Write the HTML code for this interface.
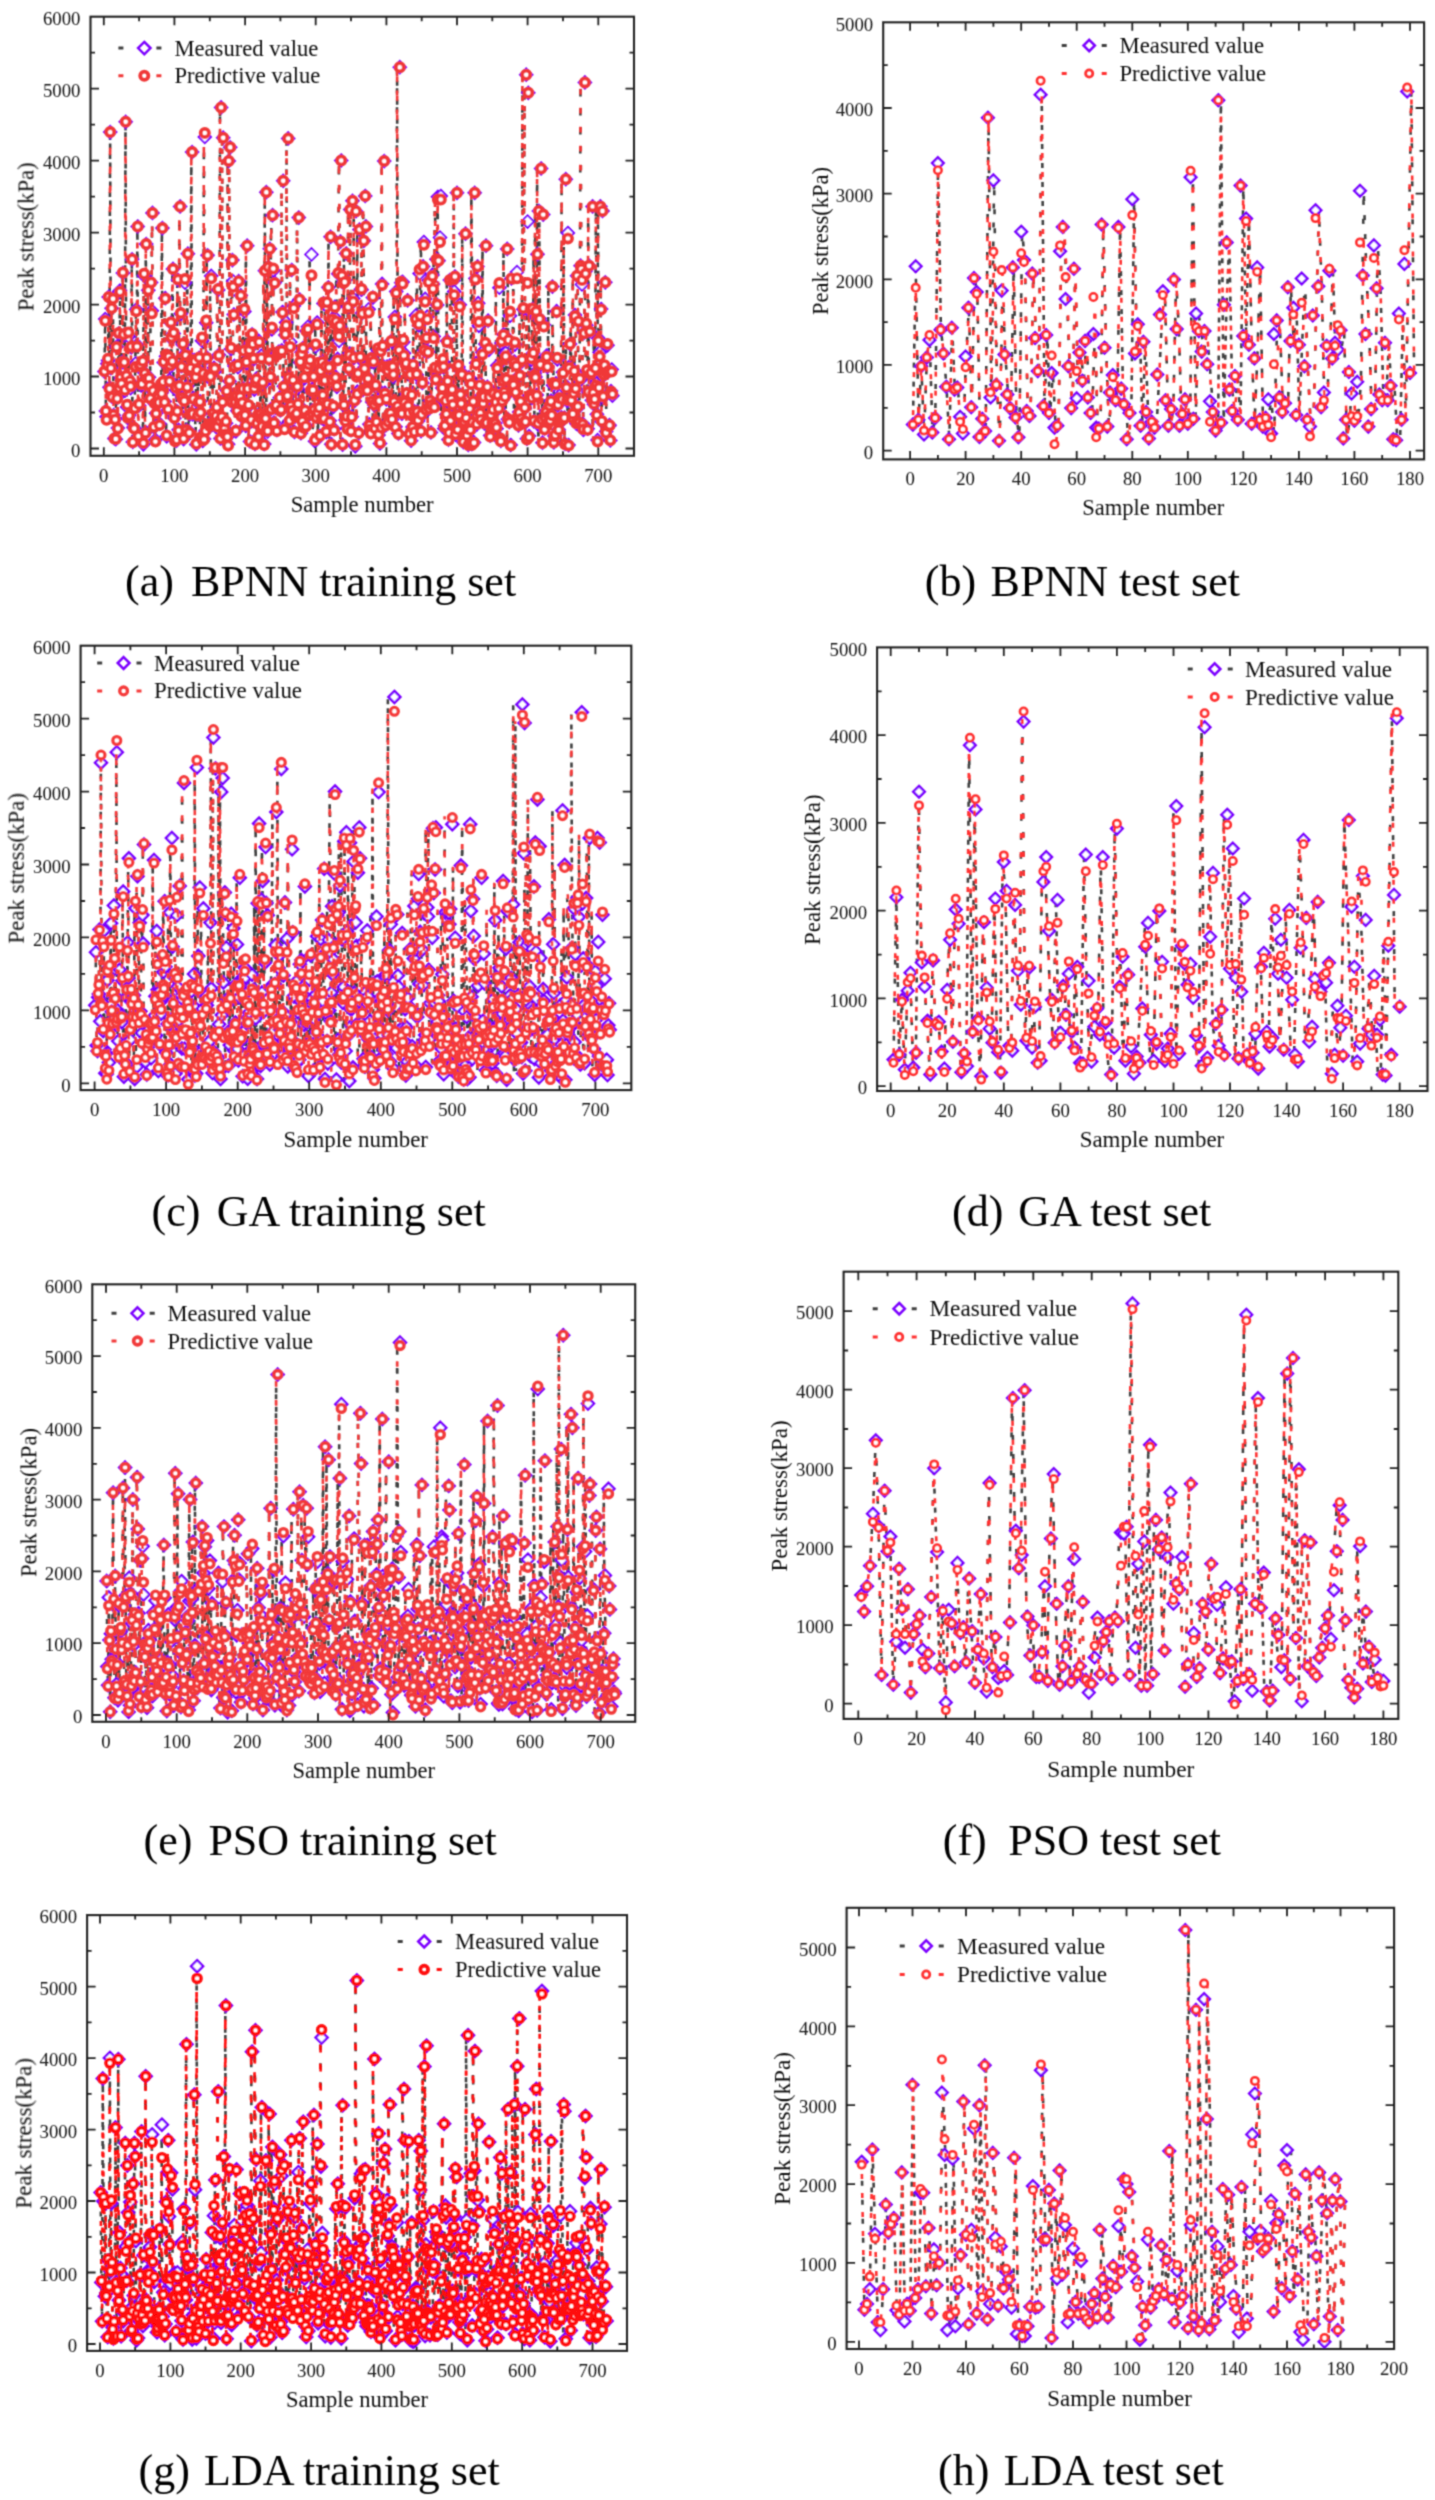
<!DOCTYPE html>
<html><head><meta charset="utf-8"><style>
html,body{margin:0;padding:0;background:#fff}
svg{display:block}
text{font-family:"Liberation Serif",serif;}
.tl{font-size:18.8px;fill:#141414}
.at{font-size:22.6px;fill:#111}
.lg{font-size:22.6px;fill:#111}
.cap{font-size:44px;fill:#000}
.fr{fill:none;stroke:#202020;stroke-width:2.1}
.tk{fill:none;stroke:#202020;stroke-width:1.8}
.lma{fill:none;stroke:#404040;stroke-width:2.6;stroke-dasharray:5 14}
.kma{fill:none;stroke:none;marker:url(#Da)}
.lpa{fill:none;stroke:#f03838;stroke-width:2.6;stroke-dasharray:5 14;stroke-dashoffset:9.5}
.kpa{fill:none;stroke:none;marker:url(#Ca)}
.lmb{fill:none;stroke:#404040;stroke-width:2.6;stroke-dasharray:5 14}
.kmb{fill:none;stroke:none;marker:url(#Db)}
.lpb{fill:none;stroke:#ff3030;stroke-width:2.6;stroke-dasharray:5 14;stroke-dashoffset:9.5}
.kpb{fill:none;stroke:none;marker:url(#Cb)}
.lmc{fill:none;stroke:#404040;stroke-width:2.6;stroke-dasharray:5 14}
.kmc{fill:none;stroke:none;marker:url(#Dc)}
.lpc{fill:none;stroke:#f53a3a;stroke-width:2.6;stroke-dasharray:5 14;stroke-dashoffset:9.5}
.kpc{fill:none;stroke:none;marker:url(#Cc)}
.lmd{fill:none;stroke:#404040;stroke-width:2.6;stroke-dasharray:5 14}
.kmd{fill:none;stroke:none;marker:url(#Dd)}
.lpd{fill:none;stroke:#ff3030;stroke-width:2.6;stroke-dasharray:5 14;stroke-dashoffset:9.5}
.kpd{fill:none;stroke:none;marker:url(#Cd)}
.lme{fill:none;stroke:#404040;stroke-width:2.6;stroke-dasharray:5 14}
.kme{fill:none;stroke:none;marker:url(#De)}
.lpe{fill:none;stroke:#f23a3a;stroke-width:2.6;stroke-dasharray:5 14;stroke-dashoffset:9.5}
.kpe{fill:none;stroke:none;marker:url(#Ce)}
.lmf{fill:none;stroke:#404040;stroke-width:2.6;stroke-dasharray:5 14}
.kmf{fill:none;stroke:none;marker:url(#Df)}
.lpf{fill:none;stroke:#ff3030;stroke-width:2.6;stroke-dasharray:5 14;stroke-dashoffset:9.5}
.kpf{fill:none;stroke:none;marker:url(#Cf)}
.lmg{fill:none;stroke:#404040;stroke-width:2.6;stroke-dasharray:5 14}
.kmg{fill:none;stroke:none;marker:url(#Dg)}
.lpg{fill:none;stroke:#ff0808;stroke-width:2.6;stroke-dasharray:5 14;stroke-dashoffset:9.5}
.kpg{fill:none;stroke:none;marker:url(#Cg)}
.lmh{fill:none;stroke:#404040;stroke-width:2.6;stroke-dasharray:5 14}
.kmh{fill:none;stroke:none;marker:url(#Dh)}
.lph{fill:none;stroke:#ff3030;stroke-width:2.6;stroke-dasharray:5 14;stroke-dashoffset:9.5}
.kph{fill:none;stroke:none;marker:url(#Ch)}
</style></head><body>
<svg width="1435" height="2500" viewBox="0 0 1435 2500">
<defs>
<filter id="bl" x="0" y="0" width="100%" height="100%" filterUnits="userSpaceOnUse"><feConvolveMatrix order="3" kernelMatrix="1 3 1 3 9 3 1 3 1" divisor="25"/></filter>
<marker id="Da" markerUnits="userSpaceOnUse" markerWidth="30" markerHeight="30" refX="15" refY="15" overflow="visible" viewBox="0 0 30 30"><path d="M15 8.8l6.2 6.2 -6.2 6.2 -6.2 -6.2z" fill="#fff" stroke="#7b00ff" stroke-width="2.0"/></marker>
<marker id="Ca" markerUnits="userSpaceOnUse" markerWidth="30" markerHeight="30" refX="15" refY="15" overflow="visible" viewBox="0 0 30 30"><circle cx="15" cy="15" r="4.1" fill="#fff" stroke="#f03838" stroke-width="3.8"/></marker>
<marker id="Db" markerUnits="userSpaceOnUse" markerWidth="30" markerHeight="30" refX="15" refY="15" overflow="visible" viewBox="0 0 30 30"><path d="M15 9.3l5.7 5.7 -5.7 5.7 -5.7 -5.7z" fill="#fff" stroke="#7b00ff" stroke-width="2.6"/></marker>
<marker id="Cb" markerUnits="userSpaceOnUse" markerWidth="30" markerHeight="30" refX="15" refY="15" overflow="visible" viewBox="0 0 30 30"><circle cx="15" cy="15" r="3.6" fill="#fff" stroke="#ff3030" stroke-width="2.8"/></marker>
<marker id="Dc" markerUnits="userSpaceOnUse" markerWidth="30" markerHeight="30" refX="15" refY="15" overflow="visible" viewBox="0 0 30 30"><path d="M15 9.1l5.9 5.9 -5.9 5.9 -5.9 -5.9z" fill="#fff" stroke="#7b00ff" stroke-width="2.6"/></marker>
<marker id="Cc" markerUnits="userSpaceOnUse" markerWidth="30" markerHeight="30" refX="15" refY="15" overflow="visible" viewBox="0 0 30 30"><circle cx="15" cy="15" r="3.9" fill="#fff" stroke="#f53a3a" stroke-width="3.3"/></marker>
<marker id="Dd" markerUnits="userSpaceOnUse" markerWidth="30" markerHeight="30" refX="15" refY="15" overflow="visible" viewBox="0 0 30 30"><path d="M15 9.3l5.7 5.7 -5.7 5.7 -5.7 -5.7z" fill="#fff" stroke="#7b00ff" stroke-width="2.6"/></marker>
<marker id="Cd" markerUnits="userSpaceOnUse" markerWidth="30" markerHeight="30" refX="15" refY="15" overflow="visible" viewBox="0 0 30 30"><circle cx="15" cy="15" r="3.6" fill="#fff" stroke="#ff3030" stroke-width="2.8"/></marker>
<marker id="De" markerUnits="userSpaceOnUse" markerWidth="30" markerHeight="30" refX="15" refY="15" overflow="visible" viewBox="0 0 30 30"><path d="M15 9l6 6 -6 6 -6 -6z" fill="#fff" stroke="#7b00ff" stroke-width="2.4"/></marker>
<marker id="Ce" markerUnits="userSpaceOnUse" markerWidth="30" markerHeight="30" refX="15" refY="15" overflow="visible" viewBox="0 0 30 30"><circle cx="15" cy="15" r="3.9" fill="#fff" stroke="#f23a3a" stroke-width="3.6"/></marker>
<marker id="Df" markerUnits="userSpaceOnUse" markerWidth="30" markerHeight="30" refX="15" refY="15" overflow="visible" viewBox="0 0 30 30"><path d="M15 9.3l5.7 5.7 -5.7 5.7 -5.7 -5.7z" fill="#fff" stroke="#7b00ff" stroke-width="2.6"/></marker>
<marker id="Cf" markerUnits="userSpaceOnUse" markerWidth="30" markerHeight="30" refX="15" refY="15" overflow="visible" viewBox="0 0 30 30"><circle cx="15" cy="15" r="3.6" fill="#fff" stroke="#ff3030" stroke-width="2.8"/></marker>
<marker id="Dg" markerUnits="userSpaceOnUse" markerWidth="30" markerHeight="30" refX="15" refY="15" overflow="visible" viewBox="0 0 30 30"><path d="M15 9l6 6 -6 6 -6 -6z" fill="#fff" stroke="#7b00ff" stroke-width="2.5"/></marker>
<marker id="Cg" markerUnits="userSpaceOnUse" markerWidth="30" markerHeight="30" refX="15" refY="15" overflow="visible" viewBox="0 0 30 30"><circle cx="15" cy="15" r="3.9" fill="#fff" stroke="#ff0808" stroke-width="3.6"/></marker>
<marker id="Dh" markerUnits="userSpaceOnUse" markerWidth="30" markerHeight="30" refX="15" refY="15" overflow="visible" viewBox="0 0 30 30"><path d="M15 9.3l5.7 5.7 -5.7 5.7 -5.7 -5.7z" fill="#fff" stroke="#7b00ff" stroke-width="2.6"/></marker>
<marker id="Ch" markerUnits="userSpaceOnUse" markerWidth="30" markerHeight="30" refX="15" refY="15" overflow="visible" viewBox="0 0 30 30"><circle cx="15" cy="15" r="3.6" fill="#fff" stroke="#ff3030" stroke-width="2.8"/></marker>
</defs>
<rect width="100%" height="100%" fill="#fff"/>
<g filter="url(#bl)">
<path class="lma" d="M104.5 371.6l0.7 -52.5l0.7 92l0.7 5.6l0.7 -53l0.7 -3.3l0.7 -63.5l0.7 90.5l0.7 -255.2l0.7 236l0.7 -60l0.7 88.8l0.7 -99.1l0.7 117.3l0.7 23.3l0.7 -19.5l0.7 20.2l0.7 -92.4l0.7 50.6l0.7 30.6l0.7 -94.4l0.7 54.4l0.7 -97.3l0.7 87.3l0.7 8.5l0.7 -24.2l0.7 -89.1l0.7 62.5l0.7 26.8l0.7 28.3l0.7 -268.9l0.7 254.6l0.7 30.5l0.7 11.2l0.7 -81.6l0.7 78.8l0.7 -33.9l0.7 6.8l0.7 -40.9l0.7 -88l0.7 182.7l0.7 -14.7l0.7 0.9l0.7 -20.4l0.7 -44.2l0.7 -54.1l0.7 35.4l0.7 -118.4l0.7 210.1l0.7 -31.1l0.7 -38.5l0.7 -1.4l0.7 20l0.7 -0.3l0.7 -23.7l0.7 82.8l0.7 -168.6l0.7 97.4l0.7 59.2l0.7 -188.1l0.7 134.1l0.7 -0.3l0.7 -87.8l0.7 87.1l0.7 8.7l0.7 12.9l0.7 -116.4l0.7 28.2l0.7 -97.8l0.7 178.9l0.7 35.5l0.7 -23.8l0.7 36.4l0.7 -26.5l0.7 -9.3l0.7 -2.2l0.7 -7.8l0.7 8.2l0.7 21.5l0.7 -33l0.7 -4.6l0.7 6.5l0.7 -164.5l0.7 153.7l0.7 -19.2l0.7 38.9l0.7 -103.3l0.7 58l0.7 80.1l0.7 -80.5l0.7 54.1l0.7 -52.9l0.7 22.9l0.7 -13l0.7 -43.9l0.7 15.7l0.7 23.2l0.7 -93.1l0.7 64.7l0.7 84.6l0.7 22.3l0.7 -50.5l0.7 50.7l0.7 -29l0.7 -131.7l0.7 149.8l0.7 -43.8l0.7 -179.4l0.7 107.2l0.7 52.3l0.7 31.5l0.7 -52.9l0.7 94.3l0.7 -37.9l0.7 -118.4l0.7 70.5l0.7 77.1l0.7 -44.1l0.7 -132.6l0.7 114.3l0.7 63.6l0.7 -17.4l0.7 -48.3l0.7 -6.6l0.7 -207.1l0.7 262.3l0.7 -16.4l0.7 -37.7l0.7 -0.2l0.7 15.4l0.7 68.9l0.7 -76.1l0.7 46.4l0.7 -11.4l0.7 -45.5l0.7 43.5l0.7 12.1l0.7 24.3l0.7 -97.2l0.7 100.2l0.7 -66.6l0.7 64.6l0.7 -302l0.7 294l0.7 -108.1l0.7 34.8l0.7 -102.4l0.7 121.6l0.7 47.1l0.7 0.8l0.7 -49.7l0.7 -99.1l0.7 148.8l0.7 -1.5l0.7 -10.4l0.7 -45.2l0.7 3.7l0.7 54l0.7 -9.3l0.7 -8.6l0.7 20.7l0.7 -138.3l0.7 64.9l0.7 65.3l0.7 18.3l0.7 -331.1l0.7 310.3l0.7 -15.8l0.7 -264.1l0.7 287.7l0.7 2.8l0.7 6l0.7 -11.1l0.7 -32.9l0.7 46.7l0.7 7.2l0.7 -283.2l0.7 220.3l0.7 -233.9l0.7 201.7l0.7 52.6l0.7 -141.5l0.7 21.2l0.7 33.1l0.7 51.5l0.7 36.3l0.7 29l0.7 -34.3l0.7 13.8l0.7 -43.6l0.7 -85.9l0.7 122.8l0.7 -7.4l0.7 -101.2l0.7 120.8l0.7 -12.4l0.7 -15.4l0.7 -37.8l0.7 -39.1l0.7 103l0.7 11.4l0.7 -62.3l0.7 -117.9l0.7 142.7l0.7 17.9l0.7 -57.1l0.7 92.4l0.7 -98.5l0.7 78l0.7 -86.6l0.7 9.6l0.7 15.5l0.7 30.2l0.7 54.3l0.7 -60.8l0.7 -4.6l0.7 44.6l0.7 -7.8l0.7 21.4l0.7 -95.3l0.7 77.4l0.7 -4.7l0.7 -58.3l0.7 71.2l0.7 -42.6l0.7 31.8l0.7 27.9l0.7 -173.4l0.7 148.5l0.7 -227.1l0.7 235.4l0.7 3.7l0.7 -164.1l0.7 91.7l0.7 -110l0.7 129.4l0.7 30.6l0.7 -79.3l0.7 -114.3l0.7 55.4l0.7 152l0.7 -139.9l0.7 125.1l0.7 -2.2l0.7 24.4l0.7 -76.1l0.7 -1.6l0.7 -0.7l0.7 46l0.7 12.7l0.7 -0.8l0.7 -59.2l0.7 -38.4l0.7 -131.2l0.7 205.6l0.7 41.1l0.7 -92.5l0.7 -12.3l0.7 73.2l0.7 0.2l0.7 -257.5l0.7 238.9l0.7 43.6l0.7 -78.7l0.7 62.7l0.7 -134.8l0.7 141.2l0.7 -29.2l0.7 -76.1l0.7 126l0.7 -15.2l0.7 -2l0.7 -1.4l0.7 -25.1l0.7 16.5l0.7 -187l0.7 81.9l0.7 63l0.7 70.6l0.7 -81l0.7 68.6l0.7 -72.8l0.7 80.5l0.7 -50.1l0.7 33.2l0.7 13.8l0.7 -94.3l0.7 37l0.7 -41.2l0.7 36.7l0.7 51.1l0.7 -53.5l0.7 29.9l0.7 -136.6l0.7 156.1l0.7 -21.3l0.7 -11.7l0.7 33.5l0.7 30.2l0.7 -94.8l0.7 70.1l0.7 -94l0.7 90.2l0.7 -48l0.7 45.5l0.7 25.8l0.7 -67.6l0.7 49.6l0.7 -57l0.7 36.8l0.7 -94.4l0.7 116.3l0.7 -39.8l0.7 -12.2l0.7 64.5l0.7 -126l0.7 99.1l0.7 -118l0.7 80l0.7 53.5l0.7 -184l0.7 207.4l0.7 -65.4l0.7 -60.2l0.7 88.1l0.7 22.3l0.7 -122.2l0.7 69.7l0.7 -57.7l0.7 68.1l0.7 -28l0.7 -85.1l0.7 67.2l0.7 -14.5l0.7 -84.9l0.7 -81.1l0.7 115.3l0.7 169l0.7 -161.8l0.7 122.8l0.7 -125.9l0.7 140.1l0.7 -166.6l0.7 162.1l0.7 12.4l0.7 -121.3l0.7 62.4l0.7 -15.6l0.7 -143.9l0.7 220.5l0.7 -13.3l0.7 -215.9l0.7 97.8l0.7 59.3l0.7 43.1l0.7 45.3l0.7 -235l0.7 164.2l0.7 16.2l0.7 -16.7l0.7 57.9l0.7 -203.3l0.7 129.4l0.7 -69.7l0.7 0.5l0.7 23.2l0.7 76.8l0.7 -148.9l0.7 126.7l0.7 -171.4l0.7 30.4l0.7 161.9l0.7 0.4l0.7 -11.2l0.7 -68.3l0.7 115.1l0.7 7l0.7 0.8l0.7 -73.6l0.7 43.3l0.7 -104.2l0.7 64.9l0.7 42.8l0.7 23.2l0.7 -41.5l0.7 35.1l0.7 -21.9l0.7 -49.9l0.7 84.8l0.7 -34.4l0.7 42.8l0.7 -94.1l0.7 79.1l0.7 -144.5l0.7 64l0.7 18.4l0.7 -205.2l0.7 231.7l0.7 32.7l0.7 -26.1l0.7 -32.8l0.7 2.8l0.7 51.9l0.7 -5.6l0.7 -50.3l0.7 47.8l0.7 -72.2l0.7 78.5l0.7 -48.9l0.7 6.2l0.7 24l0.7 -83.8l0.7 109.9l0.7 -135.2l0.7 116.1l0.7 -1.6l0.7 27.4l0.7 -85.2l0.7 -281.1l0.7 343.4l0.7 -128l0.7 131l0.7 -131.8l0.7 60.2l0.7 11.1l0.7 49.3l0.7 -39.2l0.7 -1.4l0.7 32.3l0.7 -94l0.7 106l0.7 6.4l0.7 21.7l0.7 -58.9l0.7 65.3l0.7 -47.4l0.7 33.7l0.7 -62.3l0.7 46.3l0.7 20.8l0.7 -12.9l0.7 -103.5l0.7 59.4l0.7 37.1l0.7 9.1l0.7 -95.7l0.7 -51.9l0.7 43.3l0.7 114.4l0.7 -15.4l0.7 -32.6l0.7 -116.6l0.7 -24.5l0.7 108.6l0.7 -51.6l0.7 110.8l0.7 -71l0.7 -22l0.7 35l0.7 -71.4l0.7 127.9l0.7 -7.4l0.7 31.6l0.7 -27.7l0.7 -129.9l0.7 9.2l0.7 52.5l0.7 68.9l0.7 -36l0.7 9.1l0.7 -119.3l0.7 45.7l0.7 -108l0.7 63.8l0.7 108l0.7 -131l0.7 -41.6l0.7 202.7l0.7 -10.8l0.7 -26.2l0.7 5.8l0.7 61l0.7 -2.6l0.7 -25.1l0.7 13.7l0.7 -73.5l0.7 40.7l0.7 58l0.7 -8.5l0.7 -151l0.7 141.5l0.7 -23.2l0.7 -9.2l0.7 16.2l0.7 -125l0.7 11l0.7 -15l0.7 158.1l0.7 -18.9l0.7 -222.9l0.7 237l0.7 -62.8l0.7 47.9l0.7 -110.2l0.7 90.2l0.7 8.5l0.7 -30.8l0.7 50l0.7 19.4l0.7 -20.4l0.7 10.1l0.7 -198l0.7 182.6l0.7 19.1l0.7 -6.6l0.7 16l0.7 -67.6l0.7 30.1l0.7 22.9l0.7 -47.4l0.7 61.2l0.7 -21.6l0.7 -19.2l0.7 39.1l0.7 -249.7l0.7 85.6l0.7 84.7l0.7 61.4l0.7 -158l0.7 36.7l0.7 22.6l0.7 57.2l0.7 30l0.7 6.8l0.7 -24.2l0.7 -43.4l0.7 51.6l0.7 -7.4l0.7 27.1l0.7 -79.4l0.7 -98.4l0.7 176.6l0.7 -35.6l0.7 -66.1l0.7 29.2l0.7 43.7l0.7 42l0.7 -19.2l0.7 11.6l0.7 -5.7l0.7 -13.9l0.7 -15.3l0.7 32.8l0.7 -2.5l0.7 -21.9l0.7 27.2l0.7 -63.1l0.7 28.8l0.7 14.1l0.7 -120.8l0.7 151l0.7 2.3l0.7 -97.8l0.7 57.2l0.7 -20.2l0.7 -45.7l0.7 56.8l0.7 5.1l0.7 -43.2l0.7 26.8l0.7 -131l0.7 170.2l0.7 -79.4l0.7 82.1l0.7 -106l0.7 129.2l0.7 -166.5l0.7 105l0.7 2.3l0.7 -3.1l0.7 -21.1l0.7 -16.9l0.7 47.9l0.7 -27.8l0.7 -92.7l0.7 145.6l0.7 7.6l0.7 -13.2l0.7 -37l0.7 24l0.7 19.9l0.7 -57.4l0.7 60.9l0.7 -113.1l0.7 112.1l0.7 -13.2l0.7 14.3l0.7 -347.8l0.7 364l0.7 -217.1l0.7 -128.7l0.7 343.2l0.7 -40.4l0.7 -83.3l0.7 47.6l0.7 37.9l0.7 -88.8l0.7 43.9l0.7 68.6l0.7 -48.3l0.7 3.9l0.7 -61.1l0.7 78.9l0.7 -140.8l0.7 170.4l0.7 -213.6l0.7 107.6l0.7 46.6l0.7 -196.7l0.7 250.5l0.7 23.7l0.7 -228.1l0.7 110.2l0.7 103.7l0.7 -10.9l0.7 -6.4l0.7 -55.6l0.7 11.4l0.7 53.9l0.7 -4.9l0.7 -9.1l0.7 10.9l0.7 -17.1l0.7 13.5l0.7 -127.6l0.7 98.7l0.7 57l0.7 -6.5l0.7 -0.6l0.7 -51.8l0.7 -72.2l0.7 48.3l0.7 45.3l0.7 24.9l0.7 -33.9l0.7 25.7l0.7 0.3l0.7 -4.5l0.7 -17.5l0.7 -27.6l0.7 46.8l0.7 -1.3l0.7 26.1l0.7 -264.6l0.7 207.3l0.7 14.3l0.7 -167.8l0.7 212.1l0.7 -78.5l0.7 -22.4l0.7 53.5l0.7 3l0.7 17.2l0.7 -3.3l0.7 -20.7l0.7 -23.1l0.7 -55.6l0.7 73.8l0.7 34.7l0.7 -147.8l0.7 132l0.7 -86.6l0.7 102.2l0.7 -43.1l0.7 -114.6l0.7 8.4l0.7 10.3l0.7 139.3l0.7 6.3l0.7 -97.4l0.7 -250.2l0.7 188.6l0.7 54.2l0.7 46.4l0.7 57.1l0.7 -36.7l0.7 -126.2l0.7 65.7l0.7 43.8l0.7 -2.9l0.7 27.9l0.7 -193.9l0.7 188l0.7 9.9l0.7 -5.1l0.7 -30.7l0.7 14.8l0.7 31.1l0.7 25.8l0.7 -101.9l0.7 47.6l0.7 -33.3l0.7 -146.1l0.7 102.6l0.7 112.8l0.7 -210.7l0.7 186.5l0.7 -22.4l0.7 -7.6l0.7 -85.2l0.7 149.4l0.7 -58.7l0.7 -27.7l0.7 26.5l0.7 54.1l0.7 -0.6l0.7 15.1l0.7 -49.2l0.7 -21.7l0.7 26.2"/>
<polyline class="kma" points="104.5,371.6 105.2,319.1 105.9,411.1 106.6,416.7 107.3,363.7 108,360.4 108.7,296.9 109.5,387.3 110.2,132.1 110.9,368.1 111.6,308.2 112.3,397 113,297.9 113.7,415.2 114.4,438.5 115.1,419 115.8,439.2 116.5,346.8 117.2,397.3 117.9,427.9 118.6,333.5 119.3,387.9 120,290.6 120.8,377.9 121.5,386.4 122.2,362.2 122.9,273.1 123.6,335.6 124.3,362.4 125,390.7 125.7,121.8 126.4,376.4 127.1,406.9 127.8,418.1 128.5,336.4 129.2,415.2 129.9,381.4 130.6,388.2 131.3,347.3 132.1,259.3 132.8,442 133.5,427.3 134.2,428.2 134.9,407.8 135.6,363.6 136.3,309.5 137,344.9 137.7,226.5 138.4,436.6 139.1,405.5 139.8,366.9 140.5,365.5 141.2,385.5 141.9,385.2 142.7,361.5 143.4,444.3 144.1,275.7 144.8,373.1 145.5,432.2 146.2,244.1 146.9,378.2 147.6,378 148.3,290.2 149,377.3 149.7,386 150.4,398.8 151.1,282.5 151.8,310.7 152.5,212.9 153.2,391.8 154,427.2 154.7,403.4 155.4,439.8 156.1,413.3 156.8,404.1 157.5,401.9 158.2,394.1 158.9,402.3 159.6,423.8 160.3,390.8 161,386.2 161.7,392.7 162.4,228.1 163.1,381.8 163.8,362.6 164.6,401.5 165.3,298.2 166,356.2 166.7,436.3 167.4,355.8 168.1,409.9 168.8,357.1 169.5,379.9 170.2,366.9 170.9,323 171.6,338.8 172.3,362 173,268.9 173.7,333.6 174.4,418.2 175.1,440.5 175.9,390 176.6,440.7 177.3,411.6 178,280 178.7,429.8 179.4,386 180.1,206.5 180.8,313.8 181.5,366.1 182.2,397.6 182.9,344.7 183.6,439.1 184.3,401.1 185,282.7 185.7,353.2 186.4,430.3 187.2,386.2 187.9,253.7 188.6,368 189.3,431.6 190,414.2 190.7,365.9 191.4,359.3 192.1,152.1 192.8,414.5 193.5,398.1 194.2,360.4 194.9,360.2 195.6,375.6 196.3,444.5 197,368.4 197.8,414.8 198.5,403.4 199.2,357.9 199.9,401.5 200.6,413.6 201.3,437.8 202,340.7 202.7,440.9 203.4,374.3 204.1,438.9 204.8,136.9 205.5,430.9 206.2,322.8 206.9,357.7 207.6,255.3 208.3,376.8 209.1,424 209.8,424.8 210.5,375.1 211.2,275.9 211.9,424.8 212.6,423.3 213.3,412.9 214,367.8 214.7,371.5 215.4,425.5 216.1,416.2 216.8,407.5 217.5,428.3 218.2,289.9 218.9,354.8 219.6,420.2 220.4,438.5 221.1,107.4 221.8,417.7 222.5,401.9 223.2,137.7 223.9,425.5 224.6,428.3 225.3,434.3 226,423.2 226.7,390.3 227.4,436.9 228.1,444.2 228.8,160.9 229.5,381.2 230.2,147.3 231,349 231.7,401.6 232.4,260.1 233.1,281.3 233.8,314.5 234.5,365.9 235.2,402.3 235.9,431.3 236.6,396.9 237.3,410.8 238,367.2 238.7,281.2 239.4,404.1 240.1,396.7 240.8,295.4 241.5,416.3 242.3,403.8 243,388.5 243.7,350.7 244.4,311.5 245.1,414.6 245.8,426 246.5,363.6 247.2,245.7 247.9,388.4 248.6,406.2 249.3,349.1 250,441.5 250.7,343.1 251.4,421.1 252.1,334.4 252.9,344 253.6,359.5 254.3,389.7 255,444 255.7,383.2 256.4,378.6 257.1,423.2 257.8,415.4 258.5,436.8 259.2,341.5 259.9,418.8 260.6,414.1 261.3,355.8 262,427 262.7,384.4 263.4,416.3 264.2,444.1 264.9,270.7 265.6,419.2 266.3,192.2 267,427.6 267.7,431.3 268.4,267.1 269.1,358.8 269.8,248.8 270.5,378.2 271.2,408.8 271.9,329.5 272.6,215.2 273.3,270.6 274,422.6 274.7,282.7 275.5,407.8 276.2,405.6 276.9,430.1 277.6,354 278.3,352.4 279,351.7 279.7,397.7 280.4,410.4 281.1,409.6 281.8,350.4 282.5,312 283.2,180.8 283.9,386.3 284.6,427.4 285.3,334.9 286.1,322.5 286.8,395.7 287.5,395.9 288.2,138.4 288.9,377.3 289.6,420.8 290.3,342.1 291,404.8 291.7,270 292.4,411.2 293.1,382 293.8,305.9 294.5,431.9 295.2,416.7 295.9,414.7 296.6,413.3 297.4,388.2 298.1,404.7 298.8,217.6 299.5,299.5 300.2,362.6 300.9,433.2 301.6,352.2 302.3,420.8 303,348 303.7,428.5 304.4,378.4 305.1,411.6 305.8,425.4 306.5,331.1 307.2,368.1 307.9,326.8 308.7,363.5 309.4,414.6 310.1,361.2 310.8,391 311.5,254.4 312.2,410.5 312.9,389.2 313.6,377.5 314.3,411 315,441.2 315.7,346.4 316.4,416.5 317.1,322.5 317.8,412.7 318.5,364.7 319.3,410.1 320,435.9 320.7,368.3 321.4,418 322.1,361 322.8,397.8 323.5,303.4 324.2,419.8 324.9,379.9 325.6,367.7 326.3,432.2 327,306.2 327.7,405.3 328.4,287.3 329.1,367.3 329.8,420.8 330.6,236.8 331.3,444.2 332,378.9 332.7,318.7 333.4,406.8 334.1,429.1 334.8,306.9 335.5,376.6 336.2,318.9 336.9,387 337.6,358.9 338.3,273.8 339,341 339.7,326.5 340.4,241.6 341.2,160.5 341.9,275.8 342.6,444.7 343.3,283 344,405.8 344.7,280 345.4,420 346.1,253.5 346.8,415.6 347.5,428.1 348.2,306.7 348.9,369.1 349.6,353.5 350.3,209.6 351,430.1 351.7,416.7 352.5,200.8 353.2,298.6 353.9,357.8 354.6,401 355.3,446.3 356,211.2 356.7,375.5 357.4,391.7 358.1,375 358.8,432.8 359.5,229.6 360.2,359 360.9,289.2 361.6,289.7 362.3,312.9 363,389.8 363.8,240.8 364.5,367.5 365.2,196 365.9,226.4 366.6,388.4 367.3,388.7 368,377.5 368.7,309.3 369.4,424.3 370.1,431.4 370.8,432.2 371.5,358.6 372.2,401.9 372.9,297.6 373.6,362.5 374.4,405.3 375.1,428.5 375.8,387 376.5,422.1 377.2,400.2 377.9,350.2 378.6,435 379.3,400.6 380,443.5 380.7,349.3 381.4,428.4 382.1,283.9 382.8,347.9 383.5,366.3 384.2,161.1 384.9,392.8 385.7,425.5 386.4,399.4 387.1,366.6 387.8,369.4 388.5,421.3 389.2,415.8 389.9,365.5 390.6,413.2 391.3,341 392,419.6 392.7,370.6 393.4,376.8 394.1,400.8 394.8,317 395.5,426.8 396.2,291.6 397,407.8 397.7,406.2 398.4,433.5 399.1,348.3 399.8,67.2 400.5,410.7 401.2,282.7 401.9,413.7 402.6,281.9 403.3,342.1 404,353.3 404.7,402.6 405.4,363.3 406.1,361.9 406.8,394.2 407.6,300.3 408.3,406.2 409,412.6 409.7,434.3 410.4,375.5 411.1,440.7 411.8,393.3 412.5,427 413.2,364.7 413.9,411 414.6,431.8 415.3,418.9 416,315.4 416.7,374.8 417.4,411.9 418.1,421 418.9,325.3 419.6,273.4 420.3,316.7 421,431.1 421.7,415.7 422.4,383 423.1,266.4 423.8,242 424.5,350.6 425.2,298.9 425.9,409.8 426.6,338.7 427.3,316.7 428,351.7 428.7,280.3 429.5,408.3 430.2,400.8 430.9,432.5 431.6,404.7 432.3,274.9 433,284 433.7,336.5 434.4,405.4 435.1,369.4 435.8,378.5 436.5,259.2 437.2,304.9 437.9,196.8 438.6,260.7 439.3,368.6 440,237.6 440.8,196 441.5,398.7 442.2,387.9 442.9,361.7 443.6,367.5 444.3,428.4 445,425.8 445.7,400.7 446.4,414.4 447.1,340.9 447.8,381.6 448.5,439.6 449.2,431.1 449.9,280.1 450.6,421.6 451.3,398.4 452.1,389.2 452.8,405.4 453.5,280.4 454.2,291.5 454.9,276.5 455.6,434.6 456.3,415.7 457,192.8 457.7,429.8 458.4,367.1 459.1,415 459.8,304.8 460.5,395 461.2,403.5 461.9,372.7 462.7,422.7 463.4,442.1 464.1,421.6 464.8,431.7 465.5,233.7 466.2,416.3 466.9,435.4 467.6,428.8 468.3,444.8 469,377.3 469.7,407.4 470.4,430.4 471.1,383 471.8,444.2 472.5,422.6 473.2,403.3 474,442.5 474.7,192.8 475.4,278.4 476.1,363 476.8,424.5 477.5,266.5 478.2,303.2 478.9,325.8 479.6,383 480.3,413 481,419.8 481.7,395.6 482.4,352.2 483.1,403.9 483.8,396.4 484.5,423.5 485.3,344.1 486,245.7 486.7,422.3 487.4,386.8 488.1,320.7 488.8,349.9 489.5,393.6 490.2,435.6 490.9,416.3 491.6,427.9 492.3,422.2 493,408.3 493.7,393 494.4,425.8 495.1,423.3 495.9,401.5 496.6,428.6 497.3,365.5 498,394.3 498.7,408.5 499.4,287.7 500.1,438.7 500.8,441 501.5,343.1 502.2,400.3 502.9,380.1 503.6,334.4 504.3,391.2 505,396.4 505.7,353.1 506.4,379.9 507.2,248.9 507.9,419.2 508.6,339.7 509.3,421.8 510,315.8 510.7,445 511.4,278.5 512.1,383.5 512.8,385.8 513.5,382.7 514.2,361.5 514.9,344.6 515.6,392.5 516.3,364.8 517,272.1 517.8,417.7 518.5,425.3 519.2,412.1 519.9,375.1 520.6,399.1 521.3,419 522,361.5 522.7,422.4 523.4,309.3 524.1,421.4 524.8,408.2 525.5,422.5 526.2,74.7 526.9,438.7 527.6,221.6 528.3,92.8 529.1,436.1 529.8,395.6 530.5,312.3 531.2,359.9 531.9,397.8 532.6,309 533.3,352.9 534,421.5 534.7,373.2 535.4,377.1 536.1,316.1 536.8,395 537.5,254.2 538.2,424.6 538.9,211 539.6,318.6 540.4,365.2 541.1,168.5 541.8,418.9 542.5,442.7 543.2,214.6 543.9,324.8 544.6,428.5 545.3,417.5 546,411.1 546.7,355.6 547.4,367 548.1,420.9 548.8,415.9 549.5,406.8 550.2,417.8 551,400.7 551.7,414.2 552.4,286.6 553.1,385.3 553.8,442.3 554.5,435.9 555.2,435.2 555.9,383.4 556.6,311.2 557.3,359.5 558,404.8 558.7,429.7 559.4,395.8 560.1,421.5 560.8,421.8 561.5,417.3 562.3,399.8 563,372.2 563.7,419 564.4,417.7 565.1,443.8 565.8,179.2 566.5,386.5 567.2,400.8 567.9,233 568.6,445.1 569.3,366.5 570,344.1 570.7,397.6 571.4,400.6 572.1,417.7 572.8,414.4 573.6,393.7 574.3,370.6 575,315.1 575.7,388.9 576.4,423.6 577.1,275.8 577.8,407.8 578.5,321.2 579.2,423.4 579.9,380.4 580.6,265.7 581.3,274.1 582,284.4 582.7,423.7 583.4,430 584.2,332.6 584.9,82.4 585.6,271 586.3,325.2 587,371.6 587.7,428.7 588.4,391.9 589.1,265.7 589.8,331.4 590.5,375.3 591.2,372.4 591.9,400.3 592.6,206.4 593.3,394.4 594,404.3 594.7,399.2 595.5,368.5 596.2,383.2 596.9,414.3 597.6,440.1 598.3,338.2 599,385.8 599.7,352.5 600.4,206.4 601.1,309 601.8,421.7 602.5,211 603.2,397.5 603.9,375.1 604.6,367.5 605.3,282.3 606.1,431.6 606.8,372.9 607.5,345.3 608.2,371.8 608.9,425.9 609.6,425.2 610.3,440.4 611,391.1 611.7,369.5 612.4,395.7"/>
<path class="lpa" d="M104.5 371.3l0.7 -50.5l0.7 90.2l0.7 8.8l0.7 -54.5l0.7 -6.5l0.7 -61.9l0.7 91.9l0.7 -256.6l0.7 236l0.7 -60l0.7 89l0.7 -98.4l0.7 116.2l0.7 23.6l0.7 -19.1l0.7 19.4l0.7 -91.7l0.7 51.4l0.7 30l0.7 -95.4l0.7 54.6l0.7 -95.9l0.7 85.8l0.7 6.1l0.7 -21.5l0.7 -89.8l0.7 62.1l0.7 27.8l0.7 27.7l0.7 -268.2l0.7 254l0.7 28.9l0.7 13.1l0.7 -85.4l0.7 83.2l0.7 -34.6l0.7 5.3l0.7 -39.7l0.7 -87.3l0.7 183l0.7 -14.9l0.7 1.1l0.7 -20.3l0.7 -41.6l0.7 -55.3l0.7 35.3l0.7 -120.2l0.7 209.7l0.7 -31.9l0.7 -38.3l0.7 -1.1l0.7 19.6l0.7 -0.5l0.7 -22.9l0.7 81.9l0.7 -169.4l0.7 99.7l0.7 59.5l0.7 -188.8l0.7 134.7l0.7 -0.6l0.7 -88l0.7 88.1l0.7 7.5l0.7 12.7l0.7 -116l0.7 30.9l0.7 -100.5l0.7 177.9l0.7 36.2l0.7 -23.6l0.7 38.3l0.7 -28.1l0.7 -9.8l0.7 -2.4l0.7 -6.5l0.7 7.6l0.7 22.6l0.7 -35l0.7 -5.9l0.7 9.4l0.7 -165.4l0.7 153.6l0.7 -20l0.7 40.5l0.7 -103.7l0.7 56l0.7 80.9l0.7 -79.3l0.7 53.1l0.7 -52.5l0.7 24.5l0.7 -16l0.7 -42.8l0.7 14.9l0.7 24l0.7 -92.4l0.7 63.9l0.7 85.2l0.7 23.2l0.7 -53.4l0.7 51.9l0.7 -28.4l0.7 -132l0.7 151.2l0.7 -44.8l0.7 -179.2l0.7 106.5l0.7 53.6l0.7 31.3l0.7 -54.3l0.7 94.9l0.7 -37.6l0.7 -121.9l0.7 76l0.7 74.8l0.7 -42.6l0.7 -133.6l0.7 116.2l0.7 62.8l0.7 -18.5l0.7 -46.2l0.7 -8.3l0.7 -207.5l0.7 261.7l0.7 -15l0.7 -38.5l0.7 0.9l0.7 15.7l0.7 66.8l0.7 -73.6l0.7 45.4l0.7 -13.7l0.7 -44.2l0.7 44.2l0.7 10.7l0.7 24.6l0.7 -99.7l0.7 103.1l0.7 -67l0.7 65.9l0.7 -306.4l0.7 298.1l0.7 -110.6l0.7 37.4l0.7 -102.6l0.7 120.5l0.7 48.1l0.7 2.4l0.7 -49.9l0.7 -98.1l0.7 146.4l0.7 -0.8l0.7 -10.8l0.7 -44.8l0.7 0.1l0.7 56.3l0.7 -8.7l0.7 -8.7l0.7 19.5l0.7 -137.8l0.7 66.5l0.7 65l0.7 18.2l0.7 -331.3l0.7 309.5l0.7 -14.7l0.7 -264.4l0.7 287.8l0.7 2.9l0.7 6.2l0.7 -13.1l0.7 -30.4l0.7 45.6l0.7 8.8l0.7 -284.6l0.7 219.5l0.7 -233.1l0.7 200.4l0.7 54.2l0.7 -141.8l0.7 26.7l0.7 27.9l0.7 52l0.7 35.6l0.7 28.6l0.7 -34.7l0.7 14.7l0.7 -45.8l0.7 -83.8l0.7 122.5l0.7 -7l0.7 -101.4l0.7 120.8l0.7 -13.6l0.7 -13.8l0.7 -38.1l0.7 -41.7l0.7 106.2l0.7 10.1l0.7 -63.5l0.7 -116.3l0.7 143l0.7 16.4l0.7 -55l0.7 91.4l0.7 -98.8l0.7 77.1l0.7 -85.9l0.7 10l0.7 14.7l0.7 29.6l0.7 56.3l0.7 -61.8l0.7 -3.5l0.7 43.7l0.7 -7.7l0.7 21.4l0.7 -94.7l0.7 76.2l0.7 -4.1l0.7 -56.1l0.7 68.6l0.7 -44.1l0.7 34.2l0.7 28.4l0.7 -174.2l0.7 147.7l0.7 -226.3l0.7 235.9l0.7 2.9l0.7 -163.9l0.7 92.5l0.7 -110.8l0.7 128.1l0.7 32.3l0.7 -81.9l0.7 -112.2l0.7 53.3l0.7 154.4l0.7 -139.9l0.7 123.9l0.7 -1.6l0.7 25.6l0.7 -76.1l0.7 -2.6l0.7 -0.6l0.7 46.1l0.7 13.3l0.7 -1.4l0.7 -58.7l0.7 -38.1l0.7 -132l0.7 205.8l0.7 42.7l0.7 -95.1l0.7 -8.9l0.7 72.1l0.7 -1.7l0.7 -257.3l0.7 239.4l0.7 42.8l0.7 -73.7l0.7 58.8l0.7 -135.6l0.7 140.4l0.7 -30.3l0.7 -72l0.7 123.9l0.7 -15l0.7 -0.7l0.7 -2.9l0.7 -26.7l0.7 17.2l0.7 -186.2l0.7 81.9l0.7 62.2l0.7 71.8l0.7 -79.6l0.7 67.1l0.7 -73l0.7 79.8l0.7 -50.7l0.7 33.2l0.7 15.8l0.7 -95.2l0.7 37.7l0.7 -39.9l0.7 35.4l0.7 50.8l0.7 -55l0.7 30l0.7 -115l0.7 137.6l0.7 -22.9l0.7 -13.3l0.7 33.1l0.7 30.5l0.7 -96l0.7 73.6l0.7 -93.6l0.7 88.4l0.7 -49.9l0.7 45.1l0.7 28l0.7 -65.1l0.7 47.8l0.7 -56.3l0.7 33l0.7 -92.5l0.7 115.9l0.7 -38.1l0.7 -14.3l0.7 65.4l0.7 -129.3l0.7 101.7l0.7 -116.7l0.7 80.2l0.7 54.2l0.7 -185l0.7 207.8l0.7 -65l0.7 -60.2l0.7 86.8l0.7 24.1l0.7 -123.2l0.7 70.5l0.7 -56.1l0.7 64.7l0.7 -25.9l0.7 -87.2l0.7 63.3l0.7 -10.5l0.7 -84.2l0.7 -81.1l0.7 115.3l0.7 168.9l0.7 -161.7l0.7 121.9l0.7 -122.9l0.7 139.1l0.7 -167.6l0.7 162.7l0.7 12.8l0.7 -122.2l0.7 61.7l0.7 -13.7l0.7 -145.3l0.7 221.6l0.7 -14.1l0.7 -216.2l0.7 100.6l0.7 56.4l0.7 42.7l0.7 44.3l0.7 -233.6l0.7 165.5l0.7 17.2l0.7 -20.4l0.7 59.6l0.7 -203.5l0.7 127.3l0.7 -67.9l0.7 -0.1l0.7 24.5l0.7 76.1l0.7 -148.7l0.7 127.7l0.7 -172.5l0.7 30.4l0.7 162.1l0.7 2l0.7 -11.9l0.7 -66.1l0.7 112.8l0.7 4.5l0.7 3.8l0.7 -75.4l0.7 43.4l0.7 -104.8l0.7 65l0.7 43l0.7 23.9l0.7 -43.2l0.7 36.6l0.7 -20.6l0.7 -53.1l0.7 86.3l0.7 -33.8l0.7 42.3l0.7 -91.7l0.7 76.3l0.7 -142.7l0.7 61.1l0.7 20.7l0.7 -205.5l0.7 232.4l0.7 32l0.7 -26.7l0.7 -31.9l0.7 3.6l0.7 51.3l0.7 -7.9l0.7 -48l0.7 47.2l0.7 -72.2l0.7 78.3l0.7 -52.5l0.7 7.7l0.7 27.1l0.7 -82.7l0.7 108.2l0.7 -134.1l0.7 114l0.7 -0.8l0.7 27.7l0.7 -83.8l0.7 -282.9l0.7 344l0.7 -129.5l0.7 131.9l0.7 -129.9l0.7 56.1l0.7 15.7l0.7 46.9l0.7 -37.8l0.7 -1.2l0.7 29.8l0.7 -92.5l0.7 105.2l0.7 7.5l0.7 20.7l0.7 -59.4l0.7 65.9l0.7 -45.5l0.7 32.4l0.7 -62.6l0.7 46.6l0.7 20.4l0.7 -13.1l0.7 -99.9l0.7 55.3l0.7 37.4l0.7 8.7l0.7 -96l0.7 -54.6l0.7 46.1l0.7 115.6l0.7 -16.7l0.7 -31.7l0.7 -116.4l0.7 -21.6l0.7 105.4l0.7 -48.5l0.7 108.2l0.7 -71.9l0.7 -18.8l0.7 33.1l0.7 -70.2l0.7 126.4l0.7 -7.8l0.7 32.1l0.7 -27.8l0.7 -128.9l0.7 12.7l0.7 49.4l0.7 69.1l0.7 -39.7l0.7 12l0.7 -120.2l0.7 45.2l0.7 -104.9l0.7 61.2l0.7 108l0.7 -126.7l0.7 -42.5l0.7 197.8l0.7 -9.4l0.7 -28.9l0.7 7.5l0.7 60.5l0.7 -1.4l0.7 -24.9l0.7 13.3l0.7 -72.2l0.7 39.2l0.7 59.3l0.7 -7.6l0.7 -152.6l0.7 140.5l0.7 -21.6l0.7 -9.6l0.7 15.1l0.7 -125l0.7 15.4l0.7 -18.5l0.7 157.8l0.7 -18.7l0.7 -222.8l0.7 236.8l0.7 -64.4l0.7 50l0.7 -108.7l0.7 88l0.7 9l0.7 -29l0.7 48.3l0.7 19l0.7 -20.5l0.7 11.3l0.7 -199l0.7 184.2l0.7 17.4l0.7 -6.5l0.7 16.3l0.7 -67.8l0.7 31.4l0.7 21l0.7 -45.8l0.7 61l0.7 -22.6l0.7 -20.8l0.7 41.2l0.7 -250l0.7 86.6l0.7 84.5l0.7 60l0.7 -157.4l0.7 39.3l0.7 16.3l0.7 63.2l0.7 27.9l0.7 6.5l0.7 -24.5l0.7 -40.8l0.7 49l0.7 -6.7l0.7 26.6l0.7 -80.6l0.7 -97.1l0.7 177.1l0.7 -36l0.7 -65.7l0.7 27.5l0.7 48.4l0.7 39.6l0.7 -21.9l0.7 12.7l0.7 -4.6l0.7 -13.3l0.7 -16l0.7 32.4l0.7 -2.2l0.7 -21.6l0.7 25.4l0.7 -59.4l0.7 27l0.7 13.3l0.7 -125.5l0.7 155.3l0.7 3l0.7 -99.9l0.7 59.6l0.7 -19.8l0.7 -46.2l0.7 57.2l0.7 4.6l0.7 -40.4l0.7 22.9l0.7 -130.2l0.7 170.2l0.7 -79.1l0.7 82.4l0.7 -110.8l0.7 133.8l0.7 -166.9l0.7 105.5l0.7 2.8l0.7 -1.8l0.7 -22.3l0.7 -20.3l0.7 49.9l0.7 -26.4l0.7 -87.6l0.7 138.7l0.7 8.5l0.7 -13.1l0.7 -36.7l0.7 25.8l0.7 17.3l0.7 -59l0.7 63.7l0.7 -115.4l0.7 113.8l0.7 -14.2l0.7 14.1l0.7 -347.1l0.7 364.8l0.7 -156.5l0.7 -190.1l0.7 344.3l0.7 -41.6l0.7 -86.3l0.7 49.1l0.7 39.6l0.7 -89.4l0.7 44.5l0.7 67.8l0.7 -45.9l0.7 2.5l0.7 -66l0.7 84l0.7 -141.2l0.7 169.1l0.7 -212.3l0.7 107.9l0.7 45.7l0.7 -196.1l0.7 251l0.7 23.5l0.7 -228.4l0.7 112l0.7 103l0.7 -12.2l0.7 -5.3l0.7 -55.2l0.7 9.9l0.7 55.9l0.7 -6.9l0.7 -10.4l0.7 15.1l0.7 -19.3l0.7 13.9l0.7 -128.6l0.7 96.5l0.7 59.5l0.7 -6.6l0.7 -1.1l0.7 -50.8l0.7 -72.2l0.7 45.7l0.7 47.1l0.7 25l0.7 -31.8l0.7 23.5l0.7 -1l0.7 -3.4l0.7 -18l0.7 -26.3l0.7 46.1l0.7 -1.3l0.7 26.5l0.7 -265.1l0.7 208.6l0.7 12.2l0.7 -161.6l0.7 207l0.7 -77.4l0.7 -23.9l0.7 56.6l0.7 -0.5l0.7 17.3l0.7 -3.6l0.7 -20.6l0.7 -22.3l0.7 -54.9l0.7 72.5l0.7 34.6l0.7 -147.4l0.7 130.6l0.7 -85.2l0.7 101.6l0.7 -44l0.7 -113.1l0.7 3.3l0.7 10.9l0.7 144.5l0.7 4.7l0.7 -96l0.7 -250.7l0.7 191.2l0.7 49.8l0.7 46.5l0.7 59.9l0.7 -38l0.7 -126.1l0.7 65.9l0.7 42.3l0.7 -1.2l0.7 26.8l0.7 -193.1l0.7 186.4l0.7 10.9l0.7 -4.6l0.7 -30.9l0.7 17.1l0.7 29.8l0.7 26.4l0.7 -100.8l0.7 47.2l0.7 -31.3l0.7 -150.1l0.7 103.1l0.7 111.6l0.7 -210l0.7 185.5l0.7 -21.4l0.7 -9.8l0.7 -83l0.7 150.4l0.7 -59.9l0.7 -28.7l0.7 26.9l0.7 55.3l0.7 -0.9l0.7 14.9l0.7 -48.6l0.7 -20l0.7 22.6"/>
<polyline class="kpa" points="104.5,371.3 105.2,320.8 105.9,411 106.6,419.8 107.3,365.3 108,358.8 108.7,296.9 109.5,388.7 110.2,132.1 110.9,368.1 111.6,308.2 112.3,397.1 113,298.7 113.7,414.9 114.4,438.6 115.1,419.5 115.8,438.9 116.5,347.1 117.2,398.5 117.9,428.5 118.6,333.1 119.3,387.7 120,291.8 120.8,377.6 121.5,383.7 122.2,362.1 122.9,272.4 123.6,334.4 124.3,362.3 125,390 125.7,121.8 126.4,375.8 127.1,404.7 127.8,417.8 128.5,332.4 129.2,415.6 129.9,381 130.6,386.3 131.3,346.6 132.1,259.3 132.8,442.3 133.5,427.4 134.2,428.5 134.9,408.3 135.6,366.7 136.3,311.3 137,346.6 137.7,226.5 138.4,436.1 139.1,404.2 139.8,365.9 140.5,364.8 141.2,384.4 141.9,384 142.7,361.1 143.4,443.1 144.1,273.7 144.8,373.4 145.5,432.9 146.2,244.1 146.9,378.8 147.6,378.2 148.3,290.2 149,378.3 149.7,385.8 150.4,398.5 151.1,282.5 151.8,313.4 152.5,212.9 153.2,390.8 154,427 154.7,403.3 155.4,441.6 156.1,413.6 156.8,403.8 157.5,401.4 158.2,394.9 158.9,402.4 159.6,425.1 160.3,390 161,384.1 161.7,393.5 162.4,228.1 163.1,381.7 163.8,361.7 164.6,402.2 165.3,298.5 166,354.6 166.7,435.5 167.4,356.2 168.1,409.3 168.8,356.8 169.5,381.2 170.2,365.2 170.9,322.4 171.6,337.3 172.3,361.3 173,268.9 173.7,332.8 174.4,418 175.1,441.2 175.9,387.8 176.6,439.8 177.3,411.3 178,279.4 178.7,430.6 179.4,385.8 180.1,206.5 180.8,313.1 181.5,366.7 182.2,398 182.9,343.7 183.6,438.6 184.3,401 185,279.1 185.7,355.1 186.4,429.9 187.2,387.3 187.9,253.7 188.6,369.9 189.3,432.7 190,414.2 190.7,368 191.4,359.7 192.1,152.1 192.8,413.8 193.5,398.8 194.2,360.3 194.9,361.2 195.6,377 196.3,443.7 197,370.1 197.8,415.5 198.5,401.8 199.2,357.6 199.9,401.8 200.6,412.5 201.3,437.1 202,337.4 202.7,440.4 203.4,373.4 204.1,439.4 204.8,132.9 205.5,431 206.2,320.5 206.9,357.9 207.6,255.3 208.3,375.8 209.1,423.9 209.8,426.3 210.5,376.5 211.2,278.3 211.9,424.7 212.6,423.9 213.3,413.1 214,368.3 214.7,368.4 215.4,424.7 216.1,416 216.8,407.2 217.5,426.7 218.2,288.9 218.9,355.4 219.6,420.5 220.4,438.6 221.1,107.4 221.8,416.8 222.5,402.1 223.2,137.7 223.9,425.6 224.6,428.4 225.3,434.6 226,421.5 226.7,391.1 227.4,436.7 228.1,445.5 228.8,160.9 229.5,380.4 230.2,147.3 231,347.7 231.7,401.9 232.4,260.1 233.1,286.8 233.8,314.7 234.5,366.7 235.2,402.3 235.9,430.8 236.6,396.1 237.3,410.8 238,365 238.7,281.2 239.4,403.8 240.1,396.8 240.8,295.4 241.5,416.2 242.3,402.6 243,388.8 243.7,350.7 244.4,309.1 245.1,415.3 245.8,425.4 246.5,362 247.2,245.7 247.9,388.7 248.6,405 249.3,350.1 250,441.5 250.7,342.7 251.4,419.7 252.1,333.9 252.9,343.9 253.6,358.6 254.3,388.2 255,444.5 255.7,382.7 256.4,379.2 257.1,422.9 257.8,415.2 258.5,436.6 259.2,341.9 259.9,418.1 260.6,414 261.3,357.9 262,426.5 262.7,382.4 263.4,416.5 264.2,445 264.9,270.7 265.6,418.5 266.3,192.2 267,428.1 267.7,431 268.4,267.1 269.1,359.6 269.8,248.8 270.5,376.9 271.2,409.2 271.9,327.4 272.6,215.2 273.3,268.5 274,422.9 274.7,283 275.5,406.9 276.2,405.3 276.9,430.9 277.6,354.8 278.3,352.2 279,351.6 279.7,397.7 280.4,411 281.1,409.6 281.8,350.9 282.5,312.8 283.2,180.8 283.9,386.6 284.6,429.3 285.3,334.2 286.1,325.3 286.8,397.3 287.5,395.7 288.2,138.4 288.9,377.8 289.6,420.5 290.3,346.8 291,405.6 291.7,270 292.4,410.4 293.1,380.1 293.8,308.1 294.5,432 295.2,417 295.9,416.3 296.6,413.4 297.4,386.6 298.1,403.9 298.8,217.6 299.5,299.5 300.2,361.7 300.9,433.5 301.6,354 302.3,421.1 303,348.1 303.7,428 304.4,377.3 305.1,410.5 305.8,426.3 306.5,331.2 307.2,368.8 307.9,329 308.7,364.3 309.4,415.1 310.1,360.1 310.8,390.2 311.5,275.2 312.2,412.8 312.9,389.9 313.6,376.5 314.3,409.7 315,440.1 315.7,344.2 316.4,417.8 317.1,324.2 317.8,412.6 318.5,362.7 319.3,407.8 320,435.8 320.7,370.8 321.4,418.5 322.1,362.2 322.8,395.1 323.5,302.6 324.2,418.5 324.9,380.5 325.6,366.2 326.3,431.6 327,302.3 327.7,404 328.4,287.3 329.1,367.5 329.8,421.7 330.6,236.8 331.3,444.5 332,379.6 332.7,319.4 333.4,406.1 334.1,430.2 334.8,307 335.5,377.5 336.2,321.4 336.9,386.1 337.6,360.2 338.3,273 339,336.3 339.7,325.8 340.4,241.6 341.2,160.5 341.9,275.8 342.6,444.6 343.3,283 344,404.9 344.7,282 345.4,421.1 346.1,253.5 346.8,416.2 347.5,429 348.2,306.9 348.9,368.6 349.6,354.9 350.3,209.6 351,431.2 351.7,417 352.5,200.8 353.2,301.4 353.9,357.8 354.6,400.5 355.3,444.8 356,211.2 356.7,376.7 357.4,393.9 358.1,373.5 358.8,433.1 359.5,229.6 360.2,356.9 360.9,289 361.6,288.9 362.3,313.5 363,389.5 363.8,240.8 364.5,368.5 365.2,196 365.9,226.4 366.6,388.5 367.3,390.5 368,378.6 368.7,312.5 369.4,425.2 370.1,429.7 370.8,433.5 371.5,358.1 372.2,401.5 372.9,296.7 373.6,361.6 374.4,404.6 375.1,428.5 375.8,385.3 376.5,421.9 377.2,401.3 377.9,348.2 378.6,434.5 379.3,400.7 380,443 380.7,351.3 381.4,427.7 382.1,284.9 382.8,346 383.5,366.7 384.2,161.1 384.9,393.6 385.7,425.5 386.4,398.9 387.1,366.9 387.8,370.6 388.5,421.9 389.2,414 389.9,366 390.6,413.2 391.3,341 392,419.3 392.7,366.8 393.4,374.5 394.1,401.6 394.8,319 395.5,427.2 396.2,293.1 397,407 397.7,406.2 398.4,433.9 399.1,350.1 399.8,67.2 400.5,411.2 401.2,281.7 401.9,413.6 402.6,283.7 403.3,339.8 404,355.5 404.7,402.4 405.4,364.5 406.1,363.3 406.8,393.1 407.6,300.6 408.3,405.8 409,413.3 409.7,434 410.4,374.6 411.1,440.5 411.8,395 412.5,427.3 413.2,364.8 413.9,411.4 414.6,431.9 415.3,418.8 416,318.9 416.7,374.1 417.4,411.6 418.1,420.2 418.9,324.3 419.6,269.6 420.3,315.7 421,431.3 421.7,414.5 422.4,382.9 423.1,266.4 423.8,244.8 424.5,350.2 425.2,301.7 425.9,410 426.6,338 427.3,319.2 428,352.3 428.7,282.1 429.5,408.6 430.2,400.7 430.9,432.8 431.6,405 432.3,276.1 433,288.8 433.7,338.1 434.4,407.2 435.1,367.5 435.8,379.5 436.5,259.2 437.2,304.4 437.9,199.5 438.6,260.7 439.3,368.6 440,242 440.8,199.5 441.5,397.3 442.2,388 442.9,359.1 443.6,366.6 444.3,427.1 445,425.8 445.7,400.8 446.4,414.1 447.1,341.9 447.8,381.1 448.5,440.3 449.2,432.7 449.9,280.1 450.6,420.6 451.3,399 452.1,389.5 452.8,404.6 453.5,279.6 454.2,295 454.9,276.5 455.6,434.3 456.3,415.6 457,192.8 457.7,429.6 458.4,365.2 459.1,415.2 459.8,306.5 460.5,394.6 461.2,403.6 461.9,374.6 462.7,422.9 463.4,441.9 464.1,421.4 464.8,432.7 465.5,233.7 466.2,417.9 466.9,435.3 467.6,428.8 468.3,445.1 469,377.3 469.7,408.7 470.4,429.7 471.1,383.9 471.8,444.9 472.5,422.3 473.2,401.5 474,442.8 474.7,192.8 475.4,279.4 476.1,364 476.8,423.9 477.5,266.5 478.2,305.8 478.9,322.1 479.6,385.3 480.3,413.2 481,419.7 481.7,395.2 482.4,354.4 483.1,403.4 483.8,396.7 484.5,423.3 485.3,342.8 486,245.7 486.7,422.8 487.4,386.8 488.1,321.1 488.8,348.6 489.5,397 490.2,436.6 490.9,414.7 491.6,427.4 492.3,422.8 493,409.5 493.7,393.5 494.4,425.9 495.1,423.7 495.9,402.1 496.6,427.5 497.3,368.1 498,395.1 498.7,408.4 499.4,282.9 500.1,438.2 500.8,441.2 501.5,341.3 502.2,400.9 502.9,381.1 503.6,334.9 504.3,392.1 505,396.7 505.7,356.3 506.4,379.2 507.2,248.9 507.9,419.1 508.6,340 509.3,422.4 510,311.6 510.7,445.4 511.4,278.5 512.1,384 512.8,386.8 513.5,385 514.2,362.7 514.9,342.4 515.6,392.3 516.3,365.9 517,278.3 517.8,417 518.5,425.4 519.2,412.4 519.9,375.6 520.6,401.4 521.3,418.7 522,359.7 522.7,423.4 523.4,308.1 524.1,421.9 524.8,407.7 525.5,421.8 526.2,74.7 526.9,439.5 527.6,283 528.3,92.8 529.1,437.1 529.8,395.5 530.5,309.1 531.2,358.2 531.9,397.8 532.6,308.4 533.3,353 534,420.8 534.7,374.9 535.4,377.4 536.1,311.4 536.8,395.4 537.5,254.2 538.2,423.3 538.9,211 539.6,318.9 540.4,364.6 541.1,168.5 541.8,419.5 542.5,443 543.2,214.6 543.9,326.6 544.6,429.6 545.3,417.4 546,412.1 546.7,356.8 547.4,366.7 548.1,422.7 548.8,415.8 549.5,405.5 550.2,420.6 551,401.3 551.7,415.2 552.4,286.6 553.1,383.1 553.8,442.6 554.5,436 555.2,435 555.9,384.2 556.6,312 557.3,357.8 558,404.8 558.7,429.9 559.4,398 560.1,421.6 560.8,420.6 561.5,417.2 562.3,399.2 563,373 563.7,419.1 564.4,417.8 565.1,444.3 565.8,179.2 566.5,387.8 567.2,400 567.9,238.4 568.6,445.4 569.3,368 570,344.1 570.7,400.7 571.4,400.2 572.1,417.5 572.8,413.9 573.6,393.3 574.3,371 575,316.1 575.7,388.6 576.4,423.2 577.1,275.8 577.8,406.4 578.5,321.2 579.2,422.8 579.9,378.8 580.6,265.7 581.3,269 582,280 582.7,424.5 583.4,429.2 584.2,333.2 584.9,82.4 585.6,273.6 586.3,323.4 587,369.9 587.7,429.8 588.4,391.8 589.1,265.7 589.8,331.6 590.5,374 591.2,372.8 591.9,399.5 592.6,206.4 593.3,392.8 594,403.7 594.7,399.1 595.5,368.2 596.2,385.3 596.9,415.1 597.6,441.5 598.3,340.7 599,387.8 599.7,356.5 600.4,206.4 601.1,309.5 601.8,421 602.5,211 603.2,396.5 603.9,375.1 604.6,365.3 605.3,282.3 606.1,432.7 606.8,372.7 607.5,344 608.2,370.9 608.9,426.2 609.6,425.3 610.3,440.2 611,391.6 611.7,371.6 612.4,394.1"/>
<path class="tk" d="M103.8 455.8v-8.5M103.8 16.7v8.5M174.4 455.8v-8.5M174.4 16.7v8.5M245.1 455.8v-8.5M245.1 16.7v8.5M315.7 455.8v-8.5M315.7 16.7v8.5M386.4 455.8v-8.5M386.4 16.7v8.5M457 455.8v-8.5M457 16.7v8.5M527.6 455.8v-8.5M527.6 16.7v8.5M598.3 455.8v-8.5M598.3 16.7v8.5M139.1 455.8v-4.5M139.1 16.7v4.5M209.8 455.8v-4.5M209.8 16.7v4.5M280.4 455.8v-4.5M280.4 16.7v4.5M351 455.8v-4.5M351 16.7v4.5M421.7 455.8v-4.5M421.7 16.7v4.5M492.3 455.8v-4.5M492.3 16.7v4.5M563 455.8v-4.5M563 16.7v4.5M90.5 448.5h8.5M634 448.5h-8.5M90.5 376.5h8.5M634 376.5h-8.5M90.5 304.6h8.5M634 304.6h-8.5M90.5 232.6h8.5M634 232.6h-8.5M90.5 160.6h8.5M634 160.6h-8.5M90.5 88.7h8.5M634 88.7h-8.5M90.5 412.5h4.5M634 412.5h-4.5M90.5 340.6h4.5M634 340.6h-4.5M90.5 268.6h4.5M634 268.6h-4.5M90.5 196.6h4.5M634 196.6h-4.5M90.5 124.7h4.5M634 124.7h-4.5M90.5 52.7h4.5M634 52.7h-4.5"/>
<rect class="fr" x="90.5" y="16.7" width="543.5" height="439.1"/>
<text class="tl" x="103.8" y="481.8" text-anchor="middle">0</text>
<text class="tl" x="174.4" y="481.8" text-anchor="middle">100</text>
<text class="tl" x="245.1" y="481.8" text-anchor="middle">200</text>
<text class="tl" x="315.7" y="481.8" text-anchor="middle">300</text>
<text class="tl" x="386.4" y="481.8" text-anchor="middle">400</text>
<text class="tl" x="457" y="481.8" text-anchor="middle">500</text>
<text class="tl" x="527.6" y="481.8" text-anchor="middle">600</text>
<text class="tl" x="598.3" y="481.8" text-anchor="middle">700</text>
<text class="tl" x="80.5" y="456.7" text-anchor="end">0</text>
<text class="tl" x="80.5" y="384.7" text-anchor="end">1000</text>
<text class="tl" x="80.5" y="312.8" text-anchor="end">2000</text>
<text class="tl" x="80.5" y="240.8" text-anchor="end">3000</text>
<text class="tl" x="80.5" y="168.8" text-anchor="end">4000</text>
<text class="tl" x="80.5" y="96.9" text-anchor="end">5000</text>
<text class="tl" x="80.5" y="24.9" text-anchor="end">6000</text>
<text class="at" x="290.7" y="512" textLength="142.9" lengthAdjust="spacingAndGlyphs">Sample number</text>
<text class="at" transform="translate(33.5 311.2) rotate(-90)" textLength="148.8" lengthAdjust="spacingAndGlyphs">Peak stress(kPa)</text>
<path d="M118.4 48.1h5M156.4 48.1h5" stroke="#404040" stroke-width="3"/>
<path d="M118.4 75.7h5M156.4 75.7h5" stroke="#f03838" stroke-width="3"/>
<path d="M144.3 41.9l6.2 6.2 -6.2 6.2 -6.2 -6.2z" fill="none" stroke="#7b00ff" stroke-width="2.5"/>
<circle cx="144.3" cy="75.7" r="4.1" fill="none" stroke="#f03838" stroke-width="3.8"/>
<text class="lg" x="174.4" y="55.6" textLength="143.9" lengthAdjust="spacingAndGlyphs">Measured value</text>
<text class="lg" x="174.4" y="83.2" textLength="145.9" lengthAdjust="spacingAndGlyphs">Predictive value</text>
<text class="cap" x="125.1" y="596">(a)</text>
<text class="cap" x="191" y="596">BPNN training set</text>
<path class="lmb" d="M912.9 424.6l2.8 -158.4l2.8 153.6l2.8 -53.6l2.8 68.2l2.8 -77l2.8 -17.5l2.8 92.5l2.8 -14.6l2.8 -254.8l2.8 166.6l2.8 23.8l2.8 33.2l2.8 52.6l2.8 -111.4l2.8 61.8l2.8 -2l2.8 29.2l2.8 16.6l2.8 -77l2.8 -48.7l2.8 99.5l2.8 -129.1l2.8 14l2.8 144.9l2.8 -18.2l2.8 12.2l2.8 -313.3l2.8 279.7l2.8 -217l2.8 204.3l2.8 56.1l2.8 -150.2l2.8 63.9l2.8 40l2.8 13.6l2.8 -140.7l2.8 150.1l2.8 19.9l2.8 -205.6l2.8 28.3l2.8 151l2.8 4.9l2.8 -142.3l2.8 64.3l2.8 33.2l2.8 -276.4l2.8 311.5l2.8 -71.1l2.8 78l2.8 -40l2.8 54.7l2.8 -2l2.8 -174.5l2.8 -24.3l2.8 72.1l2.8 67.2l2.8 41.9l2.8 -139.4l2.8 129.6l2.8 -45.7l2.8 28.2l2.8 -39.9l2.8 56.5l2.8 15.6l2.8 -79l2.8 93.6l2.8 0.9l2.8 -204l2.8 123.2l2.8 78.9l2.8 -34.1l2.8 -17.6l2.8 25.4l2.8 -173.5l2.8 161.7l2.8 15.6l2.8 35.1l2.8 -26.3l2.8 -213.8l2.8 154.4l2.8 -29.2l2.8 101.3l2.8 -83.9l2.8 70.2l2.8 26.4l2.8 -16.6l2.8 5.9l2.8 -53l2.8 -60l2.8 -23.4l2.8 109.1l2.8 25.4l2.8 -16.6l2.8 -129.6l2.8 49.7l2.8 96.5l2.8 -11.7l2.8 -14.6l2.8 24.3l2.8 -246.5l2.8 241.6l2.8 -105.3l2.8 17.6l2.8 20.5l2.8 -20.5l2.8 33.2l2.8 37l2.8 10.7l2.8 18.6l2.8 -330.4l2.8 322.6l2.8 -118l2.8 -62.4l2.8 147.2l2.8 21.4l2.8 -35l2.8 43.9l2.8 -234.3l2.8 150.4l2.8 -117.4l2.8 126.2l2.8 78.9l2.8 -65.3l2.8 -91.1l2.8 152.5l2.8 6.8l2.8 -8.7l2.8 -18.5l2.8 34.1l2.8 -99.5l2.8 -13.6l2.8 77l2.8 14.6l2.8 -8.7l2.8 -116l2.8 53.6l2.8 -33.2l2.8 107.2l2.8 -70.2l2.8 -66.3l2.8 87.7l2.8 53.6l2.8 6.8l2.8 -111.1l2.8 -105.3l2.8 76.1l2.8 120.9l2.8 -14.6l2.8 -46.8l2.8 -75l2.8 87.7l2.8 -15.6l2.8 6.8l2.8 -19.4l2.8 108.2l2.8 -18.5l2.8 -47.8l2.8 21.4l2.8 27.3l2.8 -39l2.8 -191l2.8 84.7l2.8 58.5l2.8 92.6l2.8 -17.6l2.8 -163.7l2.8 42.9l2.8 106.2l2.8 5.8l2.8 -57.5l2.8 57.5l2.8 -14.6l2.8 53.6l2.8 0.9l2.8 -126.7l2.8 106.3l2.8 -156l2.8 -172.4l2.8 281.6"/>
<polyline class="kmb" points="912.9,424.6 915.7,266.3 918.4,419.8 921.2,366.2 924,434.4 926.8,357.4 929.5,339.9 932.3,432.4 935.1,417.9 937.9,163.1 940.6,329.7 943.4,353.5 946.2,386.7 949,439.3 951.8,327.8 954.5,389.6 957.3,387.6 960.1,416.8 962.9,433.5 965.6,356.5 968.4,307.7 971.2,407.2 974,278.1 976.7,292.1 979.5,437 982.3,418.8 985.1,431.1 987.9,117.7 990.6,397.4 993.4,180.4 996.2,384.7 999,440.8 1001.7,290.6 1004.5,354.5 1007.3,394.5 1010.1,408.1 1012.8,267.4 1015.6,417.4 1018.4,437.3 1021.2,231.7 1024,260 1026.7,411 1029.5,415.9 1032.3,273.6 1035.1,338 1037.8,371.1 1040.6,94.7 1043.4,406.1 1046.2,335 1049,413 1051.7,373 1054.5,427.6 1057.3,425.7 1060.1,251.2 1062.8,226.9 1065.6,299 1068.4,366.2 1071.2,408.1 1073.9,268.7 1076.7,398.3 1079.5,352.6 1082.3,380.8 1085.1,340.9 1087.8,397.4 1090.6,413 1093.4,334 1096.2,427.6 1098.9,428.6 1101.7,224.5 1104.5,347.7 1107.3,426.6 1110,392.5 1112.8,375 1115.6,400.3 1118.4,226.9 1121.2,388.6 1123.9,404.2 1126.7,439.3 1129.5,413 1132.3,199.2 1135,353.5 1137.8,324.3 1140.6,425.7 1143.4,341.8 1146.1,412 1148.9,438.4 1151.7,421.7 1154.5,427.6 1157.3,374.6 1160,314.6 1162.8,291.2 1165.6,400.3 1168.4,425.7 1171.1,409.1 1173.9,279.5 1176.7,329.1 1179.5,425.7 1182.2,413.9 1185,399.4 1187.8,423.7 1190.6,177.2 1193.4,418.8 1196.1,313.5 1198.9,331.1 1201.7,351.6 1204.5,331.1 1207.2,364.3 1210,401.3 1212.8,412 1215.6,430.6 1218.3,100.2 1221.1,422.8 1223.9,304.8 1226.7,242.4 1229.5,389.6 1232.2,411 1235,376 1237.8,419.8 1240.6,185.6 1243.3,336 1246.1,218.6 1248.9,344.8 1251.7,423.7 1254.4,358.4 1257.2,267.4 1260,419.8 1262.8,426.6 1265.6,417.9 1268.3,399.4 1271.1,433.5 1273.9,334 1276.7,320.4 1279.4,397.4 1282.2,412 1285,403.2 1287.8,287.2 1290.5,340.9 1293.3,307.7 1296.1,415 1298.9,344.8 1301.7,278.5 1304.4,366.2 1307.2,419.8 1310,426.6 1312.8,315.5 1315.5,210.2 1318.3,286.3 1321.1,407.2 1323.9,392.5 1326.7,345.8 1329.4,270.7 1332.2,358.4 1335,342.8 1337.8,349.6 1340.5,330.2 1343.3,438.4 1346.1,419.8 1348.9,372 1351.6,393.5 1354.4,420.8 1357.2,381.8 1360,190.8 1362.8,275.5 1365.5,334 1368.3,426.6 1371.1,409.1 1373.9,245.4 1376.6,288.3 1379.4,394.5 1382.2,400.3 1385,342.8 1387.7,400.3 1390.5,385.7 1393.3,439.3 1396.1,440.2 1398.9,313.5 1401.6,419.8 1404.4,263.9 1407.2,91.4 1410,373"/>
<path class="lpb" d="M912.9 424.6l2.8 -137l2.8 132.2l2.8 -53.6l2.8 64.3l2.8 -73.2l2.8 -22.4l2.8 97.4l2.8 -14.6l2.8 -247.6l2.8 159.4l2.8 23.8l2.8 33.2l2.8 52.6l2.8 -111.4l2.8 61.8l2.8 -2l2.8 34.1l2.8 7.5l2.8 -62l2.8 -59.4l2.8 99.5l2.8 -129.1l2.8 15.6l2.8 143.3l2.8 -18.2l2.8 12.2l2.8 -313.3l2.8 274.8l2.8 -140.7l2.8 132.9l2.8 56.1l2.8 -170.7l2.8 84.4l2.8 40l2.8 13.6l2.8 -140.7l2.8 150.1l2.8 19.9l2.8 -184.2l2.8 8.7l2.8 149.1l2.8 4.9l2.8 -142.3l2.8 64.3l2.8 33.2l2.8 -290.4l2.8 325.4l2.8 -71.1l2.8 78l2.8 -57.5l2.8 88.7l2.8 -18.5l2.8 -180.3l2.8 -18.5l2.8 50.3l2.8 89.1l2.8 41.9l2.8 -139.4l2.8 102.4l2.8 -18.5l2.8 28.2l2.8 -39.9l2.8 56.5l2.8 15.6l2.8 -116l2.8 140.3l2.8 -8.7l2.8 -204l2.8 123.2l2.8 78.9l2.8 -34.1l2.8 -15.6l2.8 23.4l2.8 -172.5l2.8 160.8l2.8 15.6l2.8 35.1l2.8 -26.3l2.8 -197.9l2.8 136.5l2.8 -25.7l2.8 99.8l2.8 -83.9l2.8 70.2l2.8 26.4l2.8 -16.6l2.8 5.9l2.8 -53l2.8 -59.1l2.8 -20.5l2.8 105.3l2.8 25.4l2.8 -16.6l2.8 -129.6l2.8 49.7l2.8 96.5l2.8 -11.7l2.8 -14.6l2.8 24.3l2.8 -253l2.8 248.1l2.8 -91.6l2.8 3.9l2.8 20.5l2.8 -20.5l2.8 33.2l2.8 57.5l2.8 -9.8l2.8 18.6l2.8 -330.4l2.8 322.6l2.8 -118l2.8 -62.4l2.8 147.2l2.8 21.4l2.8 -35l2.8 43.9l2.8 -234.3l2.8 150.4l2.8 -115l2.8 123.8l2.8 78.9l2.8 -65.3l2.8 -86.8l2.8 148.2l2.8 6.8l2.8 -8.7l2.8 7l2.8 12.4l2.8 -73.1l2.8 -43.9l2.8 77l2.8 14.6l2.8 -8.7l2.8 -116l2.8 53.6l2.8 -26.3l2.8 100.4l2.8 -70.2l2.8 -42l2.8 63.4l2.8 53.6l2.8 16.5l2.8 -120.9l2.8 -97.4l2.8 68.2l2.8 120.9l2.8 -6.9l2.8 -54.6l2.8 -77l2.8 89.7l2.8 -12.7l2.8 -20.5l2.8 4.9l2.8 108.2l2.8 -18.5l2.8 -47.8l2.8 44.3l2.8 4.5l2.8 -4.5l2.8 -173.9l2.8 33.1l2.8 58.5l2.8 92.6l2.8 -17.6l2.8 -151l2.8 30.2l2.8 106.2l2.8 5.8l2.8 -57.5l2.8 57.5l2.8 -14.6l2.8 53.6l2.8 0.9l2.8 -120.8l2.8 100.4l2.8 -169.6l2.8 -162.8l2.8 285.5"/>
<polyline class="kpb" points="912.9,424.6 915.7,287.7 918.4,419.8 921.2,366.2 924,430.6 926.8,357.4 929.5,335 932.3,432.4 935.1,417.9 937.9,170.3 940.6,329.7 943.4,353.5 946.2,386.7 949,439.3 951.8,327.8 954.5,389.6 957.3,387.6 960.1,421.7 962.9,429.2 965.6,367.2 968.4,307.7 971.2,407.2 974,278.1 976.7,293.7 979.5,437 982.3,418.8 985.1,431.1 987.9,117.7 990.6,392.5 993.4,251.8 996.2,384.7 999,440.8 1001.7,270.1 1004.5,354.5 1007.3,394.5 1010.1,408.1 1012.8,267.4 1015.6,417.4 1018.4,437.3 1021.2,253.2 1024,261.9 1026.7,411 1029.5,415.9 1032.3,273.6 1035.1,338 1037.8,371.1 1040.6,80.7 1043.4,406.1 1046.2,335 1049,413 1051.7,355.5 1054.5,444.2 1057.3,425.7 1060.1,245.4 1062.8,226.9 1065.6,277.1 1068.4,366.2 1071.2,408.1 1073.9,268.7 1076.7,371.1 1079.5,352.6 1082.3,380.8 1085.1,340.9 1087.8,397.4 1090.6,413 1093.4,297 1096.2,437.3 1098.9,428.6 1101.7,224.5 1104.5,347.7 1107.3,426.6 1110,392.5 1112.8,376.9 1115.6,400.3 1118.4,227.8 1121.2,388.6 1123.9,404.2 1126.7,439.3 1129.5,413 1132.3,215.1 1135,351.6 1137.8,325.9 1140.6,425.7 1143.4,341.8 1146.1,412 1148.9,438.4 1151.7,421.7 1154.5,427.6 1157.3,374.6 1160,315.5 1162.8,295 1165.6,400.3 1168.4,425.7 1171.1,409.1 1173.9,279.5 1176.7,329.1 1179.5,425.7 1182.2,413.9 1185,399.4 1187.8,423.7 1190.6,170.7 1193.4,418.8 1196.1,327.2 1198.9,331.1 1201.7,351.6 1204.5,331.1 1207.2,364.3 1210,421.7 1212.8,412 1215.6,430.6 1218.3,100.2 1221.1,422.8 1223.9,304.8 1226.7,242.4 1229.5,389.6 1232.2,411 1235,376 1237.8,419.8 1240.6,185.6 1243.3,336 1246.1,221 1248.9,344.8 1251.7,423.7 1254.4,358.4 1257.2,271.7 1260,419.8 1262.8,426.6 1265.6,417.9 1268.3,424.9 1271.1,437.3 1273.9,364.3 1276.7,320.4 1279.4,397.4 1282.2,412 1285,403.2 1287.8,287.2 1290.5,340.9 1293.3,314.6 1296.1,415 1298.9,344.8 1301.7,302.8 1304.4,366.2 1307.2,419.8 1310,436.4 1312.8,315.5 1315.5,218.1 1318.3,286.3 1321.1,407.2 1323.9,400.3 1326.7,345.8 1329.4,268.7 1332.2,358.4 1335,345.8 1337.8,325.3 1340.5,330.2 1343.3,438.4 1346.1,419.8 1348.9,372 1351.6,416.3 1354.4,420.8 1357.2,416.3 1360,242.4 1362.8,275.5 1365.5,334 1368.3,426.6 1371.1,409.1 1373.9,258 1376.6,288.3 1379.4,394.5 1382.2,400.3 1385,342.8 1387.7,400.3 1390.5,385.7 1393.3,439.3 1396.1,440.2 1398.9,319.5 1401.6,419.8 1404.4,250.2 1407.2,87.5 1410,373"/>
<path class="tk" d="M910.1 459.4v-8.5M910.1 22.3v8.5M965.6 459.4v-8.5M965.6 22.3v8.5M1021.2 459.4v-8.5M1021.2 22.3v8.5M1076.7 459.4v-8.5M1076.7 22.3v8.5M1132.3 459.4v-8.5M1132.3 22.3v8.5M1187.8 459.4v-8.5M1187.8 22.3v8.5M1243.3 459.4v-8.5M1243.3 22.3v8.5M1298.9 459.4v-8.5M1298.9 22.3v8.5M1354.4 459.4v-8.5M1354.4 22.3v8.5M1410 459.4v-8.5M1410 22.3v8.5M937.9 459.4v-4.5M937.9 22.3v4.5M993.4 459.4v-4.5M993.4 22.3v4.5M1049 459.4v-4.5M1049 22.3v4.5M1104.5 459.4v-4.5M1104.5 22.3v4.5M1160 459.4v-4.5M1160 22.3v4.5M1215.6 459.4v-4.5M1215.6 22.3v4.5M1271.1 459.4v-4.5M1271.1 22.3v4.5M1326.7 459.4v-4.5M1326.7 22.3v4.5M1382.2 459.4v-4.5M1382.2 22.3v4.5M883.2 450.6h8.5M1424.1 450.6h-8.5M883.2 364.9h8.5M1424.1 364.9h-8.5M883.2 279.3h8.5M1424.1 279.3h-8.5M883.2 193.6h8.5M1424.1 193.6h-8.5M883.2 108h8.5M1424.1 108h-8.5M883.2 407.8h4.5M1424.1 407.8h-4.5M883.2 322.1h4.5M1424.1 322.1h-4.5M883.2 236.5h4.5M1424.1 236.5h-4.5M883.2 150.8h4.5M1424.1 150.8h-4.5M883.2 65.1h4.5M1424.1 65.1h-4.5"/>
<rect class="fr" x="883.2" y="22.3" width="540.9" height="437.1"/>
<text class="tl" x="910.1" y="485.4" text-anchor="middle">0</text>
<text class="tl" x="965.6" y="485.4" text-anchor="middle">20</text>
<text class="tl" x="1021.2" y="485.4" text-anchor="middle">40</text>
<text class="tl" x="1076.7" y="485.4" text-anchor="middle">60</text>
<text class="tl" x="1132.3" y="485.4" text-anchor="middle">80</text>
<text class="tl" x="1187.8" y="485.4" text-anchor="middle">100</text>
<text class="tl" x="1243.3" y="485.4" text-anchor="middle">120</text>
<text class="tl" x="1298.9" y="485.4" text-anchor="middle">140</text>
<text class="tl" x="1354.4" y="485.4" text-anchor="middle">160</text>
<text class="tl" x="1410" y="485.4" text-anchor="middle">180</text>
<text class="tl" x="873.2" y="458.8" text-anchor="end">0</text>
<text class="tl" x="873.2" y="373.1" text-anchor="end">1000</text>
<text class="tl" x="873.2" y="287.5" text-anchor="end">2000</text>
<text class="tl" x="873.2" y="201.8" text-anchor="end">3000</text>
<text class="tl" x="873.2" y="116.2" text-anchor="end">4000</text>
<text class="tl" x="873.2" y="30.5" text-anchor="end">5000</text>
<text class="at" x="1082.2" y="514.7" textLength="142" lengthAdjust="spacingAndGlyphs">Sample number</text>
<text class="at" transform="translate(827.8 315) rotate(-90)" textLength="148" lengthAdjust="spacingAndGlyphs">Peak stress(kPa)</text>
<path d="M1061.7 45.5h5M1101.7 45.5h5" stroke="#404040" stroke-width="3"/>
<path d="M1061.7 73.5h5M1101.7 73.5h5" stroke="#ff3030" stroke-width="3"/>
<path d="M1089.2 39.8l5.7 5.7 -5.7 5.7 -5.7 -5.7z" fill="none" stroke="#7b00ff" stroke-width="2.5"/>
<circle cx="1089.2" cy="73.5" r="3.6" fill="none" stroke="#ff3030" stroke-width="2.8"/>
<text class="lg" x="1119.5" y="53" textLength="144.5" lengthAdjust="spacingAndGlyphs">Measured value</text>
<text class="lg" x="1119.5" y="81" textLength="146.5" lengthAdjust="spacingAndGlyphs">Predictive value</text>
<text class="cap" x="924.8" y="596">(b)</text>
<text class="cap" x="990.6" y="596">BPNN test set</text>
<path class="lmc" d="M95.3 1005.3l0.7 -53.2l0.7 93.2l0.7 5.7l0.7 -53.7l0.7 -3.3l0.7 -64.4l0.7 91.7l0.7 -258.6l0.7 239.2l0.7 -60.8l0.7 90l0.7 -100.4l0.7 118.9l0.7 23.6l0.7 -19.8l0.7 20.5l0.7 -93.7l0.7 51.2l0.7 31l0.7 -95.7l0.7 55.1l0.7 -98.6l0.7 88.5l0.7 8.6l0.7 -24.5l0.7 -90.3l0.7 63.3l0.7 27.2l0.7 28.7l0.7 -272.5l0.7 258.1l0.7 30.9l0.7 11.3l0.7 -82.7l0.7 79.9l0.7 -34.3l0.7 6.9l0.7 -41.5l0.7 -89.1l0.7 185.1l0.7 -14.9l0.7 1l0.7 -20.7l0.7 -44.8l0.7 -54.9l0.7 35.9l0.7 -120l0.7 212.9l0.7 -31.5l0.7 -39l0.7 -1.4l0.7 20.2l0.7 -0.3l0.7 -24l0.7 83.9l0.7 -170.9l0.7 98.7l0.7 60l0.7 -190.7l0.7 135.9l0.7 -0.3l0.7 -89l0.7 88.3l0.7 8.8l0.7 13l0.7 -117.9l0.7 28.6l0.7 -99.1l0.7 181.3l0.7 35.9l0.7 -24.1l0.7 36.9l0.7 -26.9l0.7 -9.4l0.7 -2.2l0.7 -7.9l0.7 8.3l0.7 21.8l0.7 -33.4l0.7 -4.7l0.7 6.5l0.7 -166.7l0.7 155.7l0.7 -19.5l0.7 39.4l0.7 -104.7l0.7 58.8l0.7 81.2l0.7 -81.6l0.7 54.9l0.7 -53.6l0.7 23.2l0.7 -13.2l0.7 -44.5l0.7 15.9l0.7 23.5l0.7 -94.3l0.7 65.6l0.7 85.8l0.7 22.6l0.7 -51.2l0.7 51.4l0.7 -29.4l0.7 -133.4l0.7 151.8l0.7 -44.4l0.7 -181.8l0.7 108.7l0.7 53l0.7 31.9l0.7 -53.6l0.7 95.6l0.7 -38.4l0.7 -120l0.7 71.4l0.7 78.1l0.7 -44.7l0.7 -134.3l0.7 115.8l0.7 64.5l0.7 -17.7l0.7 -48.9l0.7 -6.7l0.7 -209.9l0.7 265.8l0.7 -16.6l0.7 -38.2l0.7 -0.2l0.7 15.6l0.7 69.8l0.7 -77.1l0.7 47l0.7 -11.6l0.7 -46.1l0.7 44.1l0.7 12.3l0.7 24.6l0.7 -98.5l0.7 101.5l0.7 -67.5l0.7 65.4l0.7 -306l0.7 298l0.7 -109.5l0.7 35.3l0.7 -103.8l0.7 123.2l0.7 47.8l0.7 0.8l0.7 -50.4l0.7 -100.5l0.7 150.8l0.7 -1.5l0.7 -10.5l0.7 -45.8l0.7 3.8l0.7 54.7l0.7 -9.4l0.7 -8.7l0.7 21l0.7 -140.2l0.7 65.8l0.7 66.2l0.7 18.5l0.7 -335.5l0.7 314.5l0.7 -16l0.7 -267.7l0.7 291.6l0.7 2.9l0.7 6.1l0.7 -11.3l0.7 -33.4l0.7 47.3l0.7 7.3l0.7 -287l0.7 223.2l0.7 -237l0.7 204.4l0.7 53.3l0.7 -143.4l0.7 21.5l0.7 33.6l0.7 52.2l0.7 36.8l0.7 29.4l0.7 -34.8l0.7 14l0.7 -44.2l0.7 -87.1l0.7 124.5l0.7 -7.5l0.7 -102.6l0.7 122.5l0.7 -12.6l0.7 -15.6l0.7 -38.3l0.7 -39.7l0.7 104.4l0.7 11.6l0.7 -63.2l0.7 -119.5l0.7 144.6l0.7 18.1l0.7 -57.9l0.7 93.7l0.7 -99.8l0.7 79l0.7 -87.8l0.7 9.7l0.7 15.7l0.7 30.6l0.7 55l0.7 -61.6l0.7 -4.7l0.7 45.2l0.7 -7.9l0.7 21.7l0.7 -96.6l0.7 78.4l0.7 -4.8l0.7 -59.1l0.7 72.2l0.7 -43.2l0.7 32.3l0.7 28.3l0.7 -175.7l0.7 150.5l0.7 -230.1l0.7 238.6l0.7 3.8l0.7 -166.4l0.7 92.9l0.7 -111.5l0.7 131.2l0.7 31l0.7 -80.4l0.7 -115.8l0.7 56.2l0.7 154.1l0.7 -141.8l0.7 126.8l0.7 -2.2l0.7 24.8l0.7 -77.1l0.7 -1.6l0.7 -0.7l0.7 46.6l0.7 12.9l0.7 -0.8l0.7 -60l0.7 -38.9l0.7 -133l0.7 208.3l0.7 41.6l0.7 -93.8l0.7 -12.5l0.7 74.2l0.7 0.2l0.7 -261l0.7 242.1l0.7 44.2l0.7 -79.7l0.7 63.5l0.7 -136.6l0.7 143.1l0.7 -29.6l0.7 -77.1l0.7 127.7l0.7 -15.4l0.7 -2l0.7 -1.4l0.7 -25.5l0.7 16.7l0.7 -189.6l0.7 83l0.7 63.9l0.7 71.5l0.7 -82.1l0.7 69.5l0.7 -73.8l0.7 81.6l0.7 -50.8l0.7 33.6l0.7 14l0.7 -95.6l0.7 37.5l0.7 -41.8l0.7 37.2l0.7 51.8l0.7 -54.2l0.7 30.3l0.7 -138.5l0.7 158.2l0.7 -21.6l0.7 -11.9l0.7 34l0.7 30.6l0.7 -96l0.7 71l0.7 -95.2l0.7 91.4l0.7 -48.7l0.7 46.1l0.7 26.1l0.7 -68.5l0.7 50.3l0.7 -57.8l0.7 37.3l0.7 -95.6l0.7 117.9l0.7 -40.3l0.7 -12.4l0.7 65.4l0.7 -127.7l0.7 100.4l0.7 -119.6l0.7 81l0.7 54.3l0.7 -186.5l0.7 210.2l0.7 -66.2l0.7 -61l0.7 89.3l0.7 22.6l0.7 -123.8l0.7 70.7l0.7 -58.5l0.7 69l0.7 -28.4l0.7 -86.3l0.7 68.1l0.7 -14.7l0.7 -86l0.7 -82.2l0.7 116.8l0.7 171.2l0.7 -163.9l0.7 124.5l0.7 -127.6l0.7 141.9l0.7 -168.8l0.7 164.3l0.7 12.6l0.7 -123l0.7 63.2l0.7 -15.8l0.7 -145.8l0.7 223.5l0.7 -13.5l0.7 -218.8l0.7 99.1l0.7 60.1l0.7 43.7l0.7 45.9l0.7 -238.2l0.7 166.4l0.7 16.5l0.7 -17l0.7 58.7l0.7 -206l0.7 131.1l0.7 -70.7l0.7 0.5l0.7 23.5l0.7 77.8l0.7 -150.9l0.7 128.4l0.7 -173.7l0.7 30.8l0.7 164.1l0.7 0.4l0.7 -11.3l0.7 -69.2l0.7 116.6l0.7 7.1l0.7 0.8l0.7 -74.6l0.7 43.9l0.7 -105.6l0.7 65.7l0.7 43.3l0.7 23.5l0.7 -42.1l0.7 35.6l0.7 -22.2l0.7 -50.6l0.7 85.9l0.7 -34.9l0.7 43.4l0.7 -95.4l0.7 80.2l0.7 -146.4l0.7 64.9l0.7 18.7l0.7 -207.9l0.7 234.8l0.7 33.1l0.7 -26.5l0.7 -33.2l0.7 2.8l0.7 52.6l0.7 -5.6l0.7 -51l0.7 48.4l0.7 -73.2l0.7 79.6l0.7 -49.6l0.7 6.2l0.7 24.3l0.7 -84.9l0.7 111.3l0.7 -137.1l0.7 117.7l0.7 -1.6l0.7 27.7l0.7 -86.4l0.7 -284.9l0.7 348l0.7 -129.7l0.7 132.8l0.7 -133.6l0.7 61l0.7 11.3l0.7 50l0.7 -39.8l0.7 -1.5l0.7 32.8l0.7 -95.2l0.7 107.4l0.7 6.5l0.7 22l0.7 -59.7l0.7 66.1l0.7 -48.1l0.7 34.1l0.7 -63.1l0.7 47l0.7 21.1l0.7 -13.1l0.7 -104.9l0.7 60.2l0.7 37.6l0.7 9.2l0.7 -97l0.7 -52.5l0.7 43.9l0.7 115.9l0.7 -15.6l0.7 -33.1l0.7 -118.2l0.7 -24.8l0.7 110.1l0.7 -52.3l0.7 112.3l0.7 -72l0.7 -22.3l0.7 35.5l0.7 -72.3l0.7 129.7l0.7 -7.5l0.7 32.1l0.7 -28.1l0.7 -131.6l0.7 9.3l0.7 53.2l0.7 69.9l0.7 -36.5l0.7 9.2l0.7 -120.9l0.7 46.3l0.7 -109.5l0.7 64.7l0.7 109.4l0.7 -132.8l0.7 -42.2l0.7 205.4l0.7 -11l0.7 -26.6l0.7 5.9l0.7 61.8l0.7 -2.6l0.7 -25.5l0.7 13.9l0.7 -74.5l0.7 41.2l0.7 58.8l0.7 -8.6l0.7 -153l0.7 143.4l0.7 -23.5l0.7 -9.3l0.7 16.4l0.7 -126.7l0.7 11.2l0.7 -15.2l0.7 160.2l0.7 -19.2l0.7 -225.8l0.7 240.2l0.7 -63.6l0.7 48.6l0.7 -111.7l0.7 91.4l0.7 8.6l0.7 -31.2l0.7 50.7l0.7 19.6l0.7 -20.7l0.7 10.2l0.7 -200.7l0.7 185.1l0.7 19.3l0.7 -6.6l0.7 16.3l0.7 -68.5l0.7 30.5l0.7 23.3l0.7 -48l0.7 62l0.7 -21.9l0.7 -19.5l0.7 39.7l0.7 -253l0.7 86.7l0.7 85.8l0.7 62.2l0.7 -160.1l0.7 37.2l0.7 22.9l0.7 58l0.7 30.4l0.7 6.9l0.7 -24.5l0.7 -43.9l0.7 52.3l0.7 -7.5l0.7 27.5l0.7 -80.5l0.7 -99.7l0.7 179l0.7 -36l0.7 -67l0.7 29.6l0.7 44.3l0.7 42.5l0.7 -19.5l0.7 11.7l0.7 -5.8l0.7 -14.1l0.7 -15.5l0.7 33.3l0.7 -2.5l0.7 -22.2l0.7 27.6l0.7 -64l0.7 29.2l0.7 14.3l0.7 -122.4l0.7 153l0.7 2.3l0.7 -99.2l0.7 58l0.7 -20.5l0.7 -46.3l0.7 57.6l0.7 5.2l0.7 -43.8l0.7 27.2l0.7 -132.8l0.7 172.5l0.7 -80.5l0.7 83.2l0.7 -107.4l0.7 130.9l0.7 -168.7l0.7 106.4l0.7 2.3l0.7 -3.1l0.7 -21.4l0.7 -17.2l0.7 48.6l0.7 -28.1l0.7 -93.9l0.7 147.6l0.7 7.7l0.7 -13.4l0.7 -37.5l0.7 24.3l0.7 20.2l0.7 -58.2l0.7 61.7l0.7 -114.6l0.7 113.6l0.7 -13.4l0.7 14.5l0.7 -352.5l0.7 368.9l0.7 -220l0.7 -130.5l0.7 347.8l0.7 -41l0.7 -84.5l0.7 48.3l0.7 38.4l0.7 -90l0.7 44.5l0.7 69.6l0.7 -49l0.7 4l0.7 -61.9l0.7 80l0.7 -142.7l0.7 172.7l0.7 -216.5l0.7 109l0.7 47.2l0.7 -199.3l0.7 253.8l0.7 24.1l0.7 -231.1l0.7 111.6l0.7 105.1l0.7 -11.1l0.7 -6.5l0.7 -56.3l0.7 11.6l0.7 54.6l0.7 -5l0.7 -9.2l0.7 11.1l0.7 -17.4l0.7 13.7l0.7 -129.3l0.7 100l0.7 57.8l0.7 -6.5l0.7 -0.6l0.7 -52.5l0.7 -73.2l0.7 48.9l0.7 45.9l0.7 25.2l0.7 -34.3l0.7 26.1l0.7 0.3l0.7 -4.6l0.7 -17.7l0.7 -28l0.7 47.4l0.7 -1.3l0.7 26.5l0.7 -268.2l0.7 210.1l0.7 14.5l0.7 -170.1l0.7 215l0.7 -79.6l0.7 -22.7l0.7 54.2l0.7 3l0.7 17.4l0.7 -3.4l0.7 -21l0.7 -23.4l0.7 -56.3l0.7 74.8l0.7 35.1l0.7 -149.8l0.7 133.8l0.7 -87.8l0.7 103.6l0.7 -43.6l0.7 -116.2l0.7 8.5l0.7 10.4l0.7 141.2l0.7 6.4l0.7 -98.7l0.7 -253.6l0.7 191.1l0.7 55l0.7 47l0.7 57.9l0.7 -37.2l0.7 -127.9l0.7 66.6l0.7 44.4l0.7 -2.9l0.7 28.3l0.7 -196.5l0.7 190.5l0.7 10l0.7 -5.2l0.7 -31.1l0.7 15l0.7 31.5l0.7 26.2l0.7 -103.3l0.7 48.2l0.7 -33.7l0.7 -148.1l0.7 103.9l0.7 114.3l0.7 -213.5l0.7 189l0.7 -22.7l0.7 -7.7l0.7 -86.4l0.7 151.4l0.7 -59.5l0.7 -28.1l0.7 26.9l0.7 54.8l0.7 -0.6l0.7 15.3l0.7 -49.9l0.7 -22l0.7 26.5"/>
<polyline class="kmc" points="95.3,1005.3 96,952.2 96.7,1045.4 97.5,1051 98.2,997.3 98.9,994 99.6,929.6 100.3,1021.3 101,762.7 101.8,1001.9 102.5,941.1 103.2,1031.1 103.9,930.7 104.6,1049.6 105.3,1073.2 106,1053.4 106.8,1073.9 107.5,980.2 108.2,1031.4 108.9,1062.4 109.6,966.8 110.3,1021.9 111.1,923.3 111.8,1011.8 112.5,1020.4 113.2,995.9 113.9,905.6 114.6,968.9 115.3,996 116.1,1024.7 116.8,752.2 117.5,1010.2 118.2,1041.1 118.9,1052.5 119.6,969.7 120.4,1049.6 121.1,1015.3 121.8,1022.2 122.5,980.7 123.2,891.6 123.9,1076.7 124.6,1061.8 125.4,1062.8 126.1,1042.1 126.8,997.3 127.5,942.4 128.2,978.3 128.9,858.3 129.7,1071.2 130.4,1039.7 131.1,1000.6 131.8,999.2 132.5,1019.4 133.2,1019.2 133.9,995.2 134.7,1079.1 135.4,908.2 136.1,1006.9 136.8,1066.8 137.5,876.2 138.2,1012.1 139,1011.8 139.7,922.8 140.4,1011.2 141.1,1019.9 141.8,1033 142.5,915 143.2,943.6 144,844.5 144.7,1025.8 145.4,1061.8 146.1,1037.6 146.8,1074.5 147.5,1047.7 148.3,1038.3 149,1036.1 149.7,1028.1 150.4,1036.5 151.1,1058.3 151.8,1024.8 152.5,1020.2 153.3,1026.7 154,860 154.7,1015.7 155.4,996.2 156.1,1035.6 156.8,931 157.6,989.7 158.3,1071 159,989.3 159.7,1044.2 160.4,990.6 161.1,1013.8 161.8,1000.6 162.6,956.2 163.3,972.1 164,995.6 164.7,901.3 165.4,966.8 166.1,1052.6 166.9,1075.1 167.6,1024 168.3,1075.3 169,1045.9 169.7,912.5 170.4,1064.4 171.1,1019.9 171.9,838.1 172.6,946.8 173.3,999.8 174,1031.7 174.7,978.1 175.4,1073.7 176.2,1035.3 176.9,915.3 177.6,986.7 178.3,1064.9 179,1020.2 179.7,885.9 180.4,1001.7 181.2,1066.2 181.9,1048.5 182.6,999.6 183.3,992.9 184,783 184.7,1048.8 185.5,1032.2 186.2,994 186.9,993.8 187.6,1009.4 188.3,1079.3 189,1002.2 189.7,1049.2 190.5,1037.6 191.2,991.5 191.9,1035.6 192.6,1047.9 193.3,1072.5 194,974 194.8,1075.6 195.5,1008.1 196.2,1073.5 196.9,767.5 197.6,1065.5 198.3,955.9 199,991.2 199.8,887.5 200.5,1010.7 201.2,1058.4 201.9,1059.2 202.6,1008.9 203.3,908.4 204.1,1059.2 204.8,1057.8 205.5,1047.3 206.2,1001.5 206.9,1005.3 207.6,1060 208.3,1050.5 209.1,1041.8 209.8,1062.8 210.5,922.6 211.2,988.4 211.9,1054.6 212.6,1073.1 213.4,737.6 214.1,1052.1 214.8,1036.1 215.5,768.4 216.2,1060 216.9,1062.8 217.6,1068.9 218.4,1057.6 219.1,1024.3 219.8,1071.6 220.5,1078.9 221.2,791.9 221.9,1015.1 222.7,778.1 223.4,982.5 224.1,1035.8 224.8,892.4 225.5,913.9 226.2,947.5 226.9,999.6 227.7,1036.4 228.4,1065.8 229.1,1031 229.8,1045.1 230.5,1000.9 231.2,913.8 232,1038.3 232.7,1030.8 233.4,928.2 234.1,1050.6 234.8,1038 235.5,1022.5 236.2,984.1 237,944.5 237.7,1048.9 238.4,1060.5 239.1,997.3 239.8,877.8 240.5,1022.4 241.3,1040.5 242,982.6 242.7,1076.3 243.4,976.5 244.1,1055.5 244.8,967.7 245.5,977.4 246.3,993.1 247,1023.7 247.7,1078.7 248.4,1017.1 249.1,1012.4 249.8,1057.6 250.6,1049.8 251.3,1071.4 252,974.8 252.7,1053.2 253.4,1048.5 254.1,989.4 254.8,1061.5 255.6,1018.4 256.3,1050.6 257,1078.9 257.7,903.2 258.4,1053.7 259.1,823.5 259.9,1062.1 260.6,1065.9 261.3,899.5 262,992.4 262.7,880.9 263.4,1012.1 264.1,1043 264.9,962.7 265.6,846.9 266.3,903 267,1057.1 267.7,915.3 268.4,1042.1 269.2,1039.9 269.9,1064.6 270.6,987.5 271.3,985.9 272,985.2 272.7,1031.8 273.5,1044.7 274.2,1043.9 274.9,983.9 275.6,945 276.3,812 277,1020.3 277.7,1061.9 278.5,968.1 279.2,955.6 279.9,1029.8 280.6,1030 281.3,769 282,1011.1 282.8,1055.3 283.5,975.5 284.2,1039.1 284.9,902.4 285.6,1045.5 286.3,1015.9 287,938.8 287.8,1066.5 288.5,1051.1 289.2,1049.1 289.9,1047.6 290.6,1022.1 291.3,1038.9 292.1,849.3 292.8,932.3 293.5,996.2 294.2,1067.7 294.9,985.7 295.6,1055.2 296.3,981.4 297.1,1063.1 297.8,1012.3 298.5,1045.9 299.2,1059.8 299.9,964.3 300.6,1001.8 301.4,960 302.1,997.2 302.8,1049 303.5,994.8 304.2,1025.1 304.9,886.6 305.6,1044.8 306.4,1023.2 307.1,1011.3 307.8,1045.3 308.5,1075.9 309.2,979.8 309.9,1050.8 310.7,955.6 311.4,1047 312.1,998.3 312.8,1044.4 313.5,1070.5 314.2,1002.1 314.9,1052.3 315.7,994.6 316.4,1031.9 317.1,936.3 317.8,1054.2 318.5,1013.8 319.2,1001.5 320,1066.8 320.7,939.1 321.4,1039.5 322.1,919.9 322.8,1001 323.5,1055.2 324.2,868.7 325,1079 325.7,1012.7 326.4,951.7 327.1,1041 327.8,1063.6 328.5,939.8 329.3,1010.5 330,952 330.7,1021 331.4,992.5 332.1,906.3 332.8,974.4 333.5,959.6 334.3,873.6 335,791.4 335.7,908.3 336.4,1079.5 337.1,915.6 337.8,1040.1 338.6,912.5 339.3,1054.4 340,885.7 340.7,1050 341.4,1062.6 342.1,939.6 342.8,1002.8 343.6,987 344.3,841.2 345,1064.6 345.7,1051.1 346.4,832.3 347.1,931.3 347.9,991.4 348.6,1035.1 349.3,1081 350,842.8 350.7,1009.3 351.4,1025.7 352.1,1008.8 352.9,1067.4 353.6,861.4 354.3,992.6 355,921.9 355.7,922.4 356.4,945.9 357.2,1023.8 357.9,872.8 358.6,1001.2 359.3,827.4 360,858.2 360.7,1022.3 361.4,1022.7 362.2,1011.4 362.9,942.2 363.6,1058.8 364.3,1065.9 365,1066.8 365.7,992.1 366.5,1036.1 367.2,930.4 367.9,996.2 368.6,1039.5 369.3,1063 370,1020.9 370.7,1056.5 371.5,1034.3 372.2,983.7 372.9,1069.6 373.6,1034.8 374.3,1078.2 375,982.8 375.8,1062.9 376.5,916.5 377.2,981.4 377.9,1000 378.6,792.1 379.3,1026.9 380,1060 380.8,1033.5 381.5,1000.3 382.2,1003.1 382.9,1055.8 383.6,1050.1 384.3,999.2 385.1,1047.6 385.8,974.4 386.5,1054 387.2,1004.4 387.9,1010.6 388.6,1034.9 389.3,950 390.1,1061.4 390.8,924.3 391.5,1042 392.2,1040.4 392.9,1068.1 393.6,981.8 394.4,696.9 395.1,1044.9 395.8,915.2 396.5,1048 397.2,914.4 397.9,975.5 398.6,986.8 399.4,1036.7 400.1,997 400.8,995.5 401.5,1028.3 402.2,933.1 402.9,1040.4 403.7,1047 404.4,1069 405.1,1009.3 405.8,1075.4 406.5,1027.3 407.2,1061.5 407.9,998.3 408.7,1045.3 409.4,1066.4 410.1,1053.3 410.8,948.4 411.5,1008.6 412.2,1046.2 413,1055.5 413.7,958.4 414.4,905.9 415.1,949.8 415.8,1065.7 416.5,1050 417.2,1017 418,898.8 418.7,874 419.4,984 420.1,931.7 420.8,1044.1 421.5,972.1 422.3,949.7 423,985.2 423.7,912.9 424.4,1042.5 425.1,1035 425.8,1067.1 426.5,1039 427.3,907.4 428,916.6 428.7,969.8 429.4,1039.7 430.1,1003.2 430.8,1012.4 431.6,891.5 432.3,937.8 433,828.3 433.7,892.9 434.4,1002.4 435.1,869.6 435.8,827.4 436.6,1032.8 437.3,1021.9 438,995.3 438.7,1001.2 439.4,1063 440.1,1060.3 440.9,1034.9 441.6,1048.7 442.3,974.3 443,1015.5 443.7,1074.3 444.4,1065.6 445.1,912.6 445.9,1056 446.6,1032.6 447.3,1023.2 448,1039.7 448.7,913 449.4,924.2 450.2,909 450.9,1069.2 451.6,1050 452.3,824.2 453,1064.4 453.7,1000.8 454.4,1049.4 455.2,937.7 455.9,1029.1 456.6,1037.7 457.3,1006.5 458,1057.1 458.7,1076.8 459.5,1056 460.2,1066.3 460.9,865.6 461.6,1050.7 462.3,1070 463,1063.3 463.7,1079.6 464.5,1011.1 465.2,1041.7 465.9,1064.9 466.6,1016.9 467.3,1078.9 468,1057 468.8,1037.5 469.5,1077.2 470.2,824.2 470.9,910.9 471.6,996.7 472.3,1058.9 473,898.9 473.8,936 474.5,959 475.2,1017 475.9,1047.4 476.6,1054.2 477.3,1029.7 478.1,985.7 478.8,1038.1 479.5,1030.5 480.2,1058 480.9,977.5 481.6,877.8 482.3,1056.8 483.1,1020.7 483.8,953.8 484.5,983.4 485.2,1027.7 485.9,1070.2 486.6,1050.7 487.4,1062.4 488.1,1056.6 488.8,1042.5 489.5,1027 490.2,1060.3 490.9,1057.8 491.6,1035.6 492.4,1063.2 493.1,999.2 493.8,1028.4 494.5,1042.7 495.2,920.3 495.9,1073.4 496.7,1075.7 497.4,976.5 498.1,1034.5 498.8,1014 499.5,967.7 500.2,1025.3 500.9,1030.5 501.7,986.6 502.4,1013.8 503.1,881.1 503.8,1053.6 504.5,973.1 505.2,1056.2 506,948.8 506.7,1079.7 507.4,911 508.1,1017.4 508.8,1019.7 509.5,1016.6 510.2,995.2 511,978 511.7,1026.6 512.4,998.4 513.1,904.5 513.8,1052.1 514.5,1059.8 515.3,1046.4 516,1008.9 516.7,1033.2 517.4,1053.4 518.1,995.2 518.8,1056.9 519.5,942.2 520.3,1055.8 521,1042.4 521.7,1056.9 522.4,704.5 523.1,1073.4 523.8,853.3 524.6,722.9 525.3,1070.7 526,1029.7 526.7,945.2 527.4,993.5 528.1,1031.9 528.8,941.9 529.6,986.4 530.3,1056 531,1007 531.7,1011 532.4,949.1 533.1,1029 533.9,886.4 534.6,1059.1 535.3,842.6 536,951.7 536.7,998.9 537.4,799.5 538.1,1053.3 538.9,1077.4 539.6,846.3 540.3,957.9 541,1063 541.7,1051.9 542.4,1045.4 543.2,989.1 543.9,1000.7 544.6,1055.3 545.3,1050.3 546,1041.1 546.7,1052.2 547.4,1034.8 548.2,1048.5 548.9,919.2 549.6,1019.2 550.3,1077 551,1070.5 551.7,1069.9 552.5,1017.3 553.2,944.2 553.9,993.1 554.6,1039 555.3,1064.2 556,1029.9 556.7,1056 557.5,1056.3 558.2,1051.7 558.9,1034 559.6,1006 560.3,1053.4 561,1052.1 561.8,1078.6 562.5,810.4 563.2,1020.5 563.9,1034.9 564.6,864.9 565.3,1079.8 566,1000.2 566.8,977.5 567.5,1031.7 568.2,1034.7 568.9,1052.1 569.6,1048.8 570.3,1027.8 571.1,1004.4 571.8,948.1 572.5,1022.9 573.2,1058 573.9,908.3 574.6,1042.1 575.3,954.3 576.1,1057.9 576.8,1014.2 577.5,898 578.2,906.6 578.9,917 579.6,1058.2 580.4,1064.5 581.1,965.8 581.8,712.3 582.5,903.4 583.2,958.4 583.9,1005.3 584.6,1063.2 585.4,1026 586.1,898 586.8,964.6 587.5,1009.1 588.2,1006.2 588.9,1034.4 589.7,838 590.4,1028.5 591.1,1038.5 591.8,1033.3 592.5,1002.2 593.2,1017.2 593.9,1048.7 594.7,1074.8 595.4,971.6 596.1,1019.8 596.8,986 597.5,838 598.2,941.9 599,1056.2 599.7,842.6 600.4,1031.7 601.1,1008.9 601.8,1001.2 602.5,914.8 603.2,1066.2 604,1006.7 604.7,978.7 605.4,1005.6 606.1,1060.4 606.8,1059.7 607.5,1075.1 608.3,1025.2 609,1003.2 609.7,1029.8"/>
<path class="lpc" d="M95.3 1009.8l0.7 -70l0.7 111.2l0.7 -8.6l0.7 -49.1l0.7 -8.6l0.7 -54.7l0.7 73.8l0.7 -248.7l0.7 250.6l0.7 -64.9l0.7 88.5l0.7 -82.4l0.7 107.7l0.7 13.8l0.7 -12l0.7 22.9l0.7 -108.1l0.7 52l0.7 47.4l0.7 -105.3l0.7 69.1l0.7 -94.1l0.7 70.3l0.7 13.1l0.7 -30.8l0.7 -78.9l0.7 44.6l0.7 39.9l0.7 23.8l0.7 -281.8l0.7 278.3l0.7 33.5l0.7 5.1l0.7 -110.4l0.7 101.3l0.7 -29.9l0.7 -1.8l0.7 -38.6l0.7 -81.5l0.7 177.5l0.7 -18.7l0.7 8.8l0.7 -18.9l0.7 -55.8l0.7 -39.2l0.7 25.8l0.7 -113.9l0.7 209.3l0.7 -42l0.7 -40.3l0.7 14.7l0.7 13.1l0.7 6.6l0.7 -25.6l0.7 78.9l0.7 -175.9l0.7 116.4l0.7 42.1l0.7 -185.2l0.7 130.3l0.7 18l0.7 -97l0.7 89.3l0.7 -0.7l0.7 28.8l0.7 -133.6l0.7 37.4l0.7 -103.4l0.7 176l0.7 38.1l0.7 -23.1l0.7 40.8l0.7 -26.3l0.7 -5.7l0.7 -3.9l0.7 -16l0.7 14.6l0.7 15.2l0.7 -29.9l0.7 13.9l0.7 -6.8l0.7 -167.4l0.7 158.3l0.7 -22l0.7 31.9l0.7 -89.4l0.7 22.5l0.7 103.7l0.7 -63.1l0.7 39.2l0.7 -48.9l0.7 14.2l0.7 -14.5l0.7 -40.4l0.7 30.3l0.7 3.5l0.7 -86.8l0.7 60.1l0.7 92.8l0.7 18.6l0.7 -49.1l0.7 52.6l0.7 -31.8l0.7 -144.7l0.7 165.9l0.7 -46.5l0.7 -169.7l0.7 95.6l0.7 57.8l0.7 31.9l0.7 -61.9l0.7 106.2l0.7 -41.9l0.7 -140.3l0.7 80.7l0.7 85.4l0.7 -47.7l0.7 -130.5l0.7 125.1l0.7 56.3l0.7 -32.7l0.7 -16.1l0.7 -22.4l0.7 -214.9l0.7 286.3l0.7 -37.1l0.7 -39.5l0.7 -3.2l0.7 15.4l0.7 81.8l0.7 -76l0.7 44l0.7 -19.4l0.7 -48.7l0.7 58.8l0.7 -2.1l0.7 27.1l0.7 -81.4l0.7 82.2l0.7 -52.8l0.7 60.8l0.7 -316.6l0.7 304.6l0.7 -107.1l0.7 31.5l0.7 -96.2l0.7 132.8l0.7 31.4l0.7 7.3l0.7 -49.7l0.7 -99.4l0.7 140.9l0.7 2.1l0.7 -11.6l0.7 -37.9l0.7 -9.8l0.7 61.3l0.7 -6.4l0.7 -2.9l0.7 9.7l0.7 -117.3l0.7 52.5l0.7 60.7l0.7 13.4l0.7 -340.4l0.7 323.9l0.7 -16.9l0.7 -269l0.7 299.4l0.7 -11l0.7 7.3l0.7 -2.1l0.7 -29.9l0.7 37.2l0.7 7.7l0.7 -308.7l0.7 241.2l0.7 -241.2l0.7 195.9l0.7 74.2l0.7 -144.1l0.7 19.3l0.7 44.1l0.7 48.2l0.7 30.2l0.7 30.4l0.7 -32.2l0.7 6.1l0.7 -41.2l0.7 -81.6l0.7 124.6l0.7 -10l0.7 -97.3l0.7 122.6l0.7 -14.7l0.7 -18.3l0.7 -37.7l0.7 -64.8l0.7 121.1l0.7 17.4l0.7 -74.3l0.7 -111.1l0.7 160.7l0.7 3.3l0.7 -44.2l0.7 81.2l0.7 -115.1l0.7 101l0.7 -90.2l0.7 -12.3l0.7 43.2l0.7 21l0.7 51l0.7 -51.5l0.7 -16.9l0.7 58.5l0.7 -4.8l0.7 16.5l0.7 -86.7l0.7 58.5l0.7 2.9l0.7 -58l0.7 62.2l0.7 -42.2l0.7 41.8l0.7 25.7l0.7 -178.4l0.7 153.4l0.7 -227.4l0.7 235.2l0.7 1.9l0.7 -160.5l0.7 99.3l0.7 -125.5l0.7 126l0.7 38.9l0.7 -83.4l0.7 -116.4l0.7 59.7l0.7 150.9l0.7 -137.2l0.7 119.3l0.7 4.9l0.7 21.2l0.7 -51.2l0.7 -21.3l0.7 6.6l0.7 25.7l0.7 24.4l0.7 2.3l0.7 -65.8l0.7 -30.8l0.7 -144.3l0.7 212.9l0.7 43.9l0.7 -99.6l0.7 -13.6l0.7 82l0.7 -8.4l0.7 -262.6l0.7 249.6l0.7 48.1l0.7 -85.6l0.7 65.9l0.7 -137.6l0.7 154.5l0.7 -35.4l0.7 -69.6l0.7 108.8l0.7 -17.2l0.7 -1l0.7 4.8l0.7 -24l0.7 12.8l0.7 -196.5l0.7 90.9l0.7 53.8l0.7 80.7l0.7 -76.3l0.7 79.1l0.7 -80.1l0.7 84.5l0.7 -62.8l0.7 34.1l0.7 11.5l0.7 -94.2l0.7 36.9l0.7 -24.6l0.7 36l0.7 36.7l0.7 -57.5l0.7 25.3l0.7 -130.2l0.7 167.8l0.7 -33.8l0.7 0.3l0.7 28.7l0.7 23l0.7 -95l0.7 69l0.7 -89.7l0.7 100.4l0.7 -42.3l0.7 35.3l0.7 22.7l0.7 -67.8l0.7 48.4l0.7 -69.2l0.7 50.2l0.7 -99.8l0.7 123.8l0.7 -42.9l0.7 -19.4l0.7 73.6l0.7 -109.7l0.7 85l0.7 -122.6l0.7 73.3l0.7 61.1l0.7 -186.6l0.7 214.6l0.7 -71.3l0.7 -62.5l0.7 91.3l0.7 19.2l0.7 -134.8l0.7 79.2l0.7 -36.1l0.7 55l0.7 -20.3l0.7 -83.1l0.7 52.3l0.7 -23.6l0.7 -77.2l0.7 -76l0.7 114.9l0.7 175.4l0.7 -170.2l0.7 127.6l0.7 -135.9l0.7 151.1l0.7 -177.1l0.7 172.7l0.7 8.9l0.7 -126.5l0.7 64.3l0.7 -2.6l0.7 -159l0.7 225.9l0.7 -20.2l0.7 -198.6l0.7 89.7l0.7 57l0.7 42.5l0.7 39.6l0.7 -235.7l0.7 169.3l0.7 22.7l0.7 -27.3l0.7 66.7l0.7 -219.4l0.7 127.4l0.7 -69l0.7 -3.2l0.7 44.3l0.7 75.3l0.7 -156.3l0.7 129.7l0.7 -166.6l0.7 26.9l0.7 171.1l0.7 -5l0.7 -12l0.7 -65.7l0.7 113.8l0.7 6.9l0.7 -7l0.7 -78.8l0.7 53.6l0.7 -98.7l0.7 64.1l0.7 35.5l0.7 20.1l0.7 -29.6l0.7 30.8l0.7 -16.4l0.7 -58.8l0.7 92.9l0.7 -32l0.7 36.7l0.7 -94.6l0.7 78.2l0.7 -138.5l0.7 59.3l0.7 30.7l0.7 -232.7l0.7 246.1l0.7 31.7l0.7 -17.8l0.7 -46l0.7 8.5l0.7 39.3l0.7 4.6l0.7 -58.2l0.7 51.1l0.7 -73.7l0.7 87.2l0.7 -53.6l0.7 7.2l0.7 18.7l0.7 -76.3l0.7 111.3l0.7 -144.7l0.7 119.3l0.7 2.9l0.7 32.4l0.7 -85.6l0.7 -275.8l0.7 320l0.7 -122l0.7 129.6l0.7 -124.2l0.7 46.4l0.7 33.5l0.7 48.5l0.7 -44.3l0.7 -4.4l0.7 41.4l0.7 -100.6l0.7 106.6l0.7 9.6l0.7 23.9l0.7 -68.1l0.7 67l0.7 -43.2l0.7 38.1l0.7 -61.9l0.7 46l0.7 15l0.7 -14.1l0.7 -104.3l0.7 59.4l0.7 39.4l0.7 14.4l0.7 -91.7l0.7 -56.3l0.7 51.5l0.7 104.5l0.7 -17.5l0.7 -37.8l0.7 -119.1l0.7 -27.1l0.7 96.5l0.7 -24l0.7 109l0.7 -72.3l0.7 -45.8l0.7 42.7l0.7 -67l0.7 138l0.7 -6.1l0.7 29.1l0.7 -36.8l0.7 -135.5l0.7 34.1l0.7 40.5l0.7 74.5l0.7 -34.3l0.7 -14.7l0.7 -112.7l0.7 46.5l0.7 -104l0.7 65.6l0.7 121.6l0.7 -145.8l0.7 -37l0.7 195.3l0.7 2.8l0.7 -36l0.7 13.7l0.7 55.5l0.7 2.4l0.7 -27.9l0.7 6.4l0.7 -63.6l0.7 36.9l0.7 52.7l0.7 -14.2l0.7 -151.9l0.7 152.1l0.7 -12.3l0.7 -16.3l0.7 10.5l0.7 -112.8l0.7 1.6l0.7 -15.6l0.7 157.8l0.7 -20.1l0.7 -231.3l0.7 248.3l0.7 -63.3l0.7 49.8l0.7 -109.2l0.7 86.5l0.7 9.8l0.7 -38.3l0.7 47.4l0.7 28.3l0.7 -22.2l0.7 2.7l0.7 -189.4l0.7 176.7l0.7 32.9l0.7 -21l0.7 24.4l0.7 -82.9l0.7 46.2l0.7 25l0.7 -66.9l0.7 70.3l0.7 -17.2l0.7 -11.8l0.7 31.7l0.7 -246.4l0.7 60.9l0.7 117.4l0.7 45.7l0.7 -152.5l0.7 53.4l0.7 0.9l0.7 56l0.7 39.3l0.7 6.3l0.7 -31.7l0.7 -47.3l0.7 62.2l0.7 -11l0.7 32.5l0.7 -88.3l0.7 -98.3l0.7 181.9l0.7 -30.1l0.7 -80.5l0.7 32.7l0.7 55.6l0.7 39l0.7 -37.5l0.7 26.2l0.7 -3.1l0.7 -15.4l0.7 -9.9l0.7 24.7l0.7 2.3l0.7 -24l0.7 24.3l0.7 -53.6l0.7 23.3l0.7 12.3l0.7 -132.1l0.7 164.1l0.7 1.6l0.7 -99l0.7 61.4l0.7 -32.5l0.7 -44.2l0.7 63.3l0.7 8.4l0.7 -34.2l0.7 8.2l0.7 -123.7l0.7 162.4l0.7 -75.3l0.7 89.3l0.7 -114l0.7 132.3l0.7 -170.6l0.7 104.3l0.7 0.9l0.7 -9.2l0.7 7.9l0.7 -28.7l0.7 45.4l0.7 -45.1l0.7 -66.3l0.7 133.6l0.7 7.1l0.7 -13.9l0.7 -26.9l0.7 6.7l0.7 30.8l0.7 -57.5l0.7 61.7l0.7 -107.3l0.7 101.7l0.7 -13.9l0.7 18l0.7 -342.1l0.7 357.6l0.7 -225.5l0.7 -124.8l0.7 348.2l0.7 -37.5l0.7 -98.4l0.7 62.3l0.7 30.8l0.7 -90.1l0.7 53.4l0.7 61.2l0.7 -59l0.7 21.7l0.7 -58.1l0.7 70.9l0.7 -139.7l0.7 164.5l0.7 -208.1l0.7 97l0.7 70.8l0.7 -214.8l0.7 257.1l0.7 18.9l0.7 -222.8l0.7 116.5l0.7 89.3l0.7 -3.9l0.7 -12.5l0.7 -37l0.7 7.8l0.7 53.3l0.7 -10.2l0.7 -5.7l0.7 -1.2l0.7 -25.1l0.7 28.1l0.7 -128.1l0.7 98.1l0.7 59.6l0.7 -8.9l0.7 -0.9l0.7 -59.1l0.7 -49.7l0.7 27.2l0.7 43.7l0.7 34.3l0.7 -37.8l0.7 25.7l0.7 8.1l0.7 -10l0.7 -19.3l0.7 -24.2l0.7 52.2l0.7 -1.8l0.7 14.9l0.7 -258.2l0.7 208.2l0.7 22.9l0.7 -179.2l0.7 214.9l0.7 -75l0.7 -13.4l0.7 38.8l0.7 -4.1l0.7 24l0.7 7.6l0.7 -38.1l0.7 -12.1l0.7 -60.9l0.7 73.1l0.7 31.6l0.7 -150.7l0.7 144.6l0.7 -81.9l0.7 91.8l0.7 -49.1l0.7 -105.6l0.7 -8l0.7 30.3l0.7 138.2l0.7 -1.3l0.7 -68.6l0.7 -277.2l0.7 167.6l0.7 78.3l0.7 30.9l0.7 65.9l0.7 -32.9l0.7 -124.7l0.7 65.4l0.7 29.5l0.7 10.2l0.7 26.9l0.7 -199.3l0.7 185.2l0.7 18.7l0.7 2.2l0.7 -31.2l0.7 -1l0.7 40.5l0.7 23.9l0.7 -94.7l0.7 47.7l0.7 -34l0.7 -150.6l0.7 120.4l0.7 95l0.7 -214.1l0.7 192.1l0.7 -23.8l0.7 -13.5l0.7 -84.8l0.7 153.6l0.7 -50.8l0.7 -45.5l0.7 41.4l0.7 54.7l0.7 0.4l0.7 6l0.7 -43.1l0.7 -24.8l0.7 28.2"/>
<polyline class="kpc" points="95.3,1009.8 96,939.8 96.7,1051.1 97.5,1042.5 98.2,993.4 98.9,984.8 99.6,930.1 100.3,1003.8 101,755.1 101.8,1005.7 102.5,940.8 103.2,1029.2 103.9,946.8 104.6,1054.6 105.3,1068.3 106,1056.3 106.8,1079.2 107.5,971.1 108.2,1023.1 108.9,1070.5 109.6,965.2 110.3,1034.3 111.1,940.2 111.8,1010.5 112.5,1023.7 113.2,992.9 113.9,914 114.6,958.6 115.3,998.5 116.1,1022.3 116.8,740.5 117.5,1018.8 118.2,1052.2 118.9,1057.3 119.6,947 120.4,1048.3 121.1,1018.4 121.8,1016.7 122.5,978.1 123.2,896.6 123.9,1074.1 124.6,1055.4 125.4,1064.2 126.1,1045.3 126.8,989.5 127.5,950.4 128.2,976.2 128.9,862.3 129.7,1071.6 130.4,1029.6 131.1,989.3 131.8,1004 132.5,1017.1 133.2,1023.8 133.9,998.2 134.7,1077.1 135.4,901.2 136.1,1017.6 136.8,1059.7 137.5,874.6 138.2,1004.9 139,1022.9 139.7,925.9 140.4,1015.2 141.1,1014.4 141.8,1043.2 142.5,909.6 143.2,947 144,843.6 144.7,1019.5 145.4,1057.6 146.1,1034.5 146.8,1075.4 147.5,1049 148.3,1043.4 149,1039.4 149.7,1023.5 150.4,1038.1 151.1,1053.3 151.8,1023.4 152.5,1037.3 153.3,1030.5 154,863 154.7,1021.4 155.4,999.3 156.1,1031.2 156.8,941.8 157.6,964.3 158.3,1068 159,1005 159.7,1044.1 160.4,995.3 161.1,1009.5 161.8,995 162.6,954.6 163.3,984.9 164,988.4 164.7,901.6 165.4,961.7 166.1,1054.5 166.9,1073.2 167.6,1024 168.3,1076.7 169,1044.9 169.7,900.2 170.4,1066.1 171.1,1019.6 171.9,849.9 172.6,945.5 173.3,1003.3 174,1035.2 174.7,973.4 175.4,1079.5 176.2,1037.6 176.9,897.3 177.6,978 178.3,1063.4 179,1015.7 179.7,885.2 180.4,1010.3 181.2,1066.7 181.9,1034 182.6,1017.9 183.3,995.5 184,780.6 184.7,1066.9 185.5,1029.8 186.2,990.3 186.9,987.1 187.6,1002.5 188.3,1084.3 189,1008.3 189.7,1052.3 190.5,1033 191.2,984.3 191.9,1043.1 192.6,1040.9 193.3,1068 194,986.7 194.8,1068.9 195.5,1016 196.2,1076.8 196.9,760.2 197.6,1064.8 198.3,957.6 199,989.1 199.8,893 200.5,1025.7 201.2,1057.2 201.9,1064.4 202.6,1014.7 203.3,915.3 204.1,1056.2 204.8,1058.3 205.5,1046.7 206.2,1008.8 206.9,999 207.6,1060.3 208.3,1053.9 209.1,1051 209.8,1060.7 210.5,943.3 211.2,995.8 211.9,1056.5 212.6,1069.9 213.4,729.6 214.1,1053.4 214.8,1036.5 215.5,767.5 216.2,1066.9 216.9,1056 217.6,1063.3 218.4,1061.2 219.1,1031.3 219.8,1068.5 220.5,1076.2 221.2,767.5 221.9,1008.7 222.7,767.5 223.4,963.4 224.1,1037.6 224.8,893.5 225.5,912.8 226.2,956.8 226.9,1005.1 227.7,1035.3 228.4,1065.6 229.1,1033.4 229.8,1039.5 230.5,998.3 231.2,916.7 232,1041.3 232.7,1031.3 233.4,934 234.1,1056.6 234.8,1041.9 235.5,1023.7 236.2,986 237,921.1 237.7,1042.3 238.4,1059.7 239.1,985.4 239.8,874.3 240.5,1035 241.3,1038.3 242,994.2 242.7,1075.4 243.4,960.3 244.1,1061.2 244.8,971.1 245.5,958.8 246.3,1001.9 247,1022.9 247.7,1074 248.4,1022.4 249.1,1005.6 249.8,1064.1 250.6,1059.3 251.3,1075.8 252,989.1 252.7,1047.6 253.4,1050.5 254.1,992.5 254.8,1054.7 255.6,1012.5 256.3,1054.3 257,1080 257.7,901.6 258.4,1055 259.1,827.6 259.9,1062.8 260.6,1064.7 261.3,904.2 262,1003.5 262.7,878 263.4,1004 264.1,1042.9 264.9,959.5 265.6,843.1 266.3,902.9 267,1053.8 267.7,916.6 268.4,1035.9 269.2,1040.8 269.9,1061.9 270.6,1010.8 271.3,989.5 272,996.1 272.7,1021.8 273.5,1046.2 274.2,1048.6 274.9,982.8 275.6,951.9 276.3,807.6 277,1020.5 277.7,1064.5 278.5,964.9 279.2,951.3 279.9,1033.4 280.6,1025 281.3,762.4 282,1012 282.8,1060.1 283.5,974.5 284.2,1040.4 284.9,902.8 285.6,1057.3 286.3,1021.9 287,952.3 287.8,1061 288.5,1043.8 289.2,1042.9 289.9,1047.7 290.6,1023.7 291.3,1036.5 292.1,840 292.8,930.9 293.5,984.7 294.2,1065.4 294.9,989.1 295.6,1068.2 296.3,988.1 297.1,1072.6 297.8,1009.8 298.5,1043.9 299.2,1055.4 299.9,961.2 300.6,998.1 301.4,973.5 302.1,1009.5 302.8,1046.2 303.5,988.7 304.2,1014 304.9,883.8 305.6,1051.5 306.4,1017.8 307.1,1018.1 307.8,1046.8 308.5,1069.8 309.2,974.8 309.9,1043.7 310.7,954.1 311.4,1054.4 312.1,1012.2 312.8,1047.5 313.5,1070.1 314.2,1002.4 314.9,1050.8 315.7,981.6 316.4,1031.9 317.1,932.1 317.8,1055.9 318.5,1013 319.2,993.5 320,1067.2 320.7,957.5 321.4,1042.5 322.1,919.9 322.8,993.2 323.5,1054.3 324.2,867.7 325,1082.4 325.7,1011 326.4,948.6 327.1,1039.9 327.8,1059.1 328.5,924.3 329.3,1003.5 330,967.4 330.7,1022.4 331.4,1002.1 332.1,919 332.8,971.3 333.5,947.7 334.3,870.5 335,794.5 335.7,909.4 336.4,1084.8 337.1,914.6 337.8,1042.2 338.6,906.3 339.3,1057.3 340,880.2 340.7,1052.9 341.4,1061.8 342.1,935.3 342.8,999.7 343.6,997.1 344.3,838.1 345,1064 345.7,1043.8 346.4,845.2 347.1,934.9 347.9,991.9 348.6,1034.4 349.3,1074 350,838.3 350.7,1007.7 351.4,1030.4 352.1,1003.1 352.9,1069.8 353.6,850.4 354.3,977.8 355,908.9 355.7,905.7 356.4,950 357.2,1025.3 357.9,869 358.6,998.7 359.3,832.1 360,859 360.7,1030.1 361.4,1025.1 362.2,1013 362.9,947.3 363.6,1061.1 364.3,1068 365,1061 365.7,982.3 366.5,1035.8 367.2,937.2 367.9,1001.3 368.6,1036.8 369.3,1056.9 370,1027.3 370.7,1058.1 371.5,1041.6 372.2,982.8 372.9,1075.7 373.6,1043.7 374.3,1080.4 375,985.8 375.8,1063.9 376.5,925.5 377.2,984.8 377.9,1015.5 378.6,782.8 379.3,1028.9 380,1060.6 380.8,1042.7 381.5,996.8 382.2,1005.3 382.9,1044.6 383.6,1049.2 384.3,991 385.1,1042.2 385.8,968.4 386.5,1055.6 387.2,1002 387.9,1009.2 388.6,1027.8 389.3,951.6 390.1,1062.8 390.8,918.2 391.5,1037.5 392.2,1040.4 392.9,1072.7 393.6,987.2 394.4,711.3 395.1,1031.4 395.8,909.4 396.5,1039 397.2,914.8 397.9,961.1 398.6,994.6 399.4,1043.1 400.1,998.8 400.8,994.4 401.5,1035.8 402.2,935.2 402.9,1041.9 403.7,1051.4 404.4,1075.3 405.1,1007.3 405.8,1074.2 406.5,1031 407.2,1069.1 407.9,1007.2 408.7,1053.2 409.4,1068.2 410.1,1054.1 410.8,949.8 411.5,1009.2 412.2,1048.6 413,1063.1 413.7,971.3 414.4,915 415.1,966.4 415.8,1070.9 416.5,1053.4 417.2,1015.7 418,896.6 418.7,869.4 419.4,965.9 420.1,941.9 420.8,1050.9 421.5,978.6 422.3,932.8 423,975.5 423.7,908.5 424.4,1046.6 425.1,1040.5 425.8,1069.6 426.5,1032.8 427.3,897.4 428,931.4 428.7,972 429.4,1046.4 430.1,1012.2 430.8,997.5 431.6,884.8 432.3,931.3 433,827.3 433.7,892.9 434.4,1014.5 435.1,868.7 435.8,831.7 436.6,1027 437.3,1029.8 438,993.9 438.7,1007.6 439.4,1063.1 440.1,1065.5 440.9,1037.6 441.6,1044 442.3,980.4 443,1017.3 443.7,1070 444.4,1055.7 445.1,903.9 445.9,1056 446.6,1043.7 447.3,1027.4 448,1037.9 448.7,925.2 449.4,926.8 450.2,911.2 450.9,1069 451.6,1048.9 452.3,817.6 453,1065.9 453.7,1002.6 454.4,1052.4 455.2,943.1 455.9,1029.6 456.6,1039.4 457.3,1001.1 458,1048.5 458.7,1076.8 459.5,1054.6 460.2,1057.3 460.9,867.9 461.6,1044.6 462.3,1077.5 463,1056.5 463.7,1080.9 464.5,997.9 465.2,1044.2 465.9,1069.2 466.6,1002.3 467.3,1072.6 468,1055.4 468.8,1043.6 469.5,1075.3 470.2,828.9 470.9,889.8 471.6,1007.2 472.3,1052.9 473,900.4 473.8,953.8 474.5,954.7 475.2,1010.6 475.9,1049.9 476.6,1056.2 477.3,1024.5 478.1,977.2 478.8,1039.5 479.5,1028.5 480.2,1061 480.9,972.7 481.6,874.4 482.3,1056.3 483.1,1026.2 483.8,945.7 484.5,978.4 485.2,1034 485.9,1073 486.6,1035.4 487.4,1061.6 488.1,1058.5 488.8,1043.1 489.5,1033.3 490.2,1058 490.9,1060.3 491.6,1036.3 492.4,1060.6 493.1,1007 493.8,1030.3 494.5,1042.6 495.2,910.5 495.9,1074.6 496.7,1076.2 497.4,977.2 498.1,1038.6 498.8,1006.2 499.5,961.9 500.2,1025.2 500.9,1033.6 501.7,999.4 502.4,1007.5 503.1,883.8 503.8,1046.2 504.5,970.9 505.2,1060.2 506,946.2 506.7,1078.5 507.4,907.9 508.1,1012.2 508.8,1013 509.5,1003.8 510.2,1011.7 511,983 511.7,1028.4 512.4,983.3 513.1,917 513.8,1050.6 514.5,1057.7 515.3,1043.8 516,1016.9 516.7,1023.6 517.4,1054.4 518.1,997 518.8,1058.6 519.5,951.3 520.3,1053.1 521,1039.2 521.7,1057.1 522.4,715 523.1,1072.5 523.8,847 524.6,722.3 525.3,1070.5 526,1033 526.7,934.7 527.4,997 528.1,1027.7 528.8,937.6 529.6,991 530.3,1052.2 531,993.2 531.7,1014.9 532.4,956.7 533.1,1027.6 533.9,887.9 534.6,1052.4 535.3,844.3 536,941.3 536.7,1012.1 537.4,797.3 538.1,1054.4 538.9,1073.3 539.6,850.5 540.3,967 541,1056.3 541.7,1052.4 542.4,1039.9 543.2,1002.9 543.9,1010.7 544.6,1063.9 545.3,1053.7 546,1048 546.7,1046.8 547.4,1021.7 548.2,1049.8 548.9,921.8 549.6,1019.9 550.3,1079.5 551,1070.6 551.7,1069.7 552.5,1010.6 553.2,960.9 553.9,988.1 554.6,1031.8 555.3,1066.1 556,1028.3 556.7,1053.9 557.5,1062.1 558.2,1052 558.9,1032.7 559.6,1008.5 560.3,1060.7 561,1058.9 561.8,1073.8 562.5,815.6 563.2,1023.8 563.9,1046.7 564.6,867.4 565.3,1082.3 566,1007.3 566.8,993.9 567.5,1032.8 568.2,1028.7 568.9,1052.7 569.6,1060.3 570.3,1022.2 571.1,1010.1 571.8,949.3 572.5,1022.4 573.2,1054 573.9,903.2 574.6,1047.8 575.3,965.9 576.1,1057.7 576.8,1008.6 577.5,903 578.2,894.9 578.9,925.3 579.6,1063.5 580.4,1062.2 581.1,993.6 581.8,716.4 582.5,884 583.2,962.3 583.9,993.2 584.6,1059.1 585.4,1026.2 586.1,901.5 586.8,966.9 587.5,996.3 588.2,1006.5 588.9,1033.4 589.7,834.1 590.4,1019.3 591.1,1038 591.8,1040.2 592.5,1009.1 593.2,1008 593.9,1048.5 594.7,1072.4 595.4,977.7 596.1,1025.4 596.8,991.4 597.5,840.8 598.2,961.1 599,1056.2 599.7,842 600.4,1034.1 601.1,1010.3 601.8,996.8 602.5,912 603.2,1065.6 604,1014.8 604.7,969.3 605.4,1010.7 606.1,1065.5 606.8,1065.8 607.5,1071.8 608.3,1028.7 609,1003.8 609.7,1032.1"/>
<path class="tk" d="M94.6 1090.1v-8.5M94.6 645.7v8.5M166.1 1090.1v-8.5M166.1 645.7v8.5M237.7 1090.1v-8.5M237.7 645.7v8.5M309.2 1090.1v-8.5M309.2 645.7v8.5M380.8 1090.1v-8.5M380.8 645.7v8.5M452.3 1090.1v-8.5M452.3 645.7v8.5M523.8 1090.1v-8.5M523.8 645.7v8.5M595.4 1090.1v-8.5M595.4 645.7v8.5M130.4 1090.1v-4.5M130.4 645.7v4.5M201.9 1090.1v-4.5M201.9 645.7v4.5M273.5 1090.1v-4.5M273.5 645.7v4.5M345 1090.1v-4.5M345 645.7v4.5M416.5 1090.1v-4.5M416.5 645.7v4.5M488.1 1090.1v-4.5M488.1 645.7v4.5M559.6 1090.1v-4.5M559.6 645.7v4.5M80.6 1083.3h8.5M631.3 1083.3h-8.5M80.6 1010.4h8.5M631.3 1010.4h-8.5M80.6 937.4h8.5M631.3 937.4h-8.5M80.6 864.5h8.5M631.3 864.5h-8.5M80.6 791.6h8.5M631.3 791.6h-8.5M80.6 718.6h8.5M631.3 718.6h-8.5M80.6 1046.8h4.5M631.3 1046.8h-4.5M80.6 973.9h4.5M631.3 973.9h-4.5M80.6 901h4.5M631.3 901h-4.5M80.6 828h4.5M631.3 828h-4.5M80.6 755.1h4.5M631.3 755.1h-4.5M80.6 682.2h4.5M631.3 682.2h-4.5"/>
<rect class="fr" x="80.6" y="645.7" width="550.7" height="444.4"/>
<text class="tl" x="94.6" y="1116.1" text-anchor="middle">0</text>
<text class="tl" x="166.1" y="1116.1" text-anchor="middle">100</text>
<text class="tl" x="237.7" y="1116.1" text-anchor="middle">200</text>
<text class="tl" x="309.2" y="1116.1" text-anchor="middle">300</text>
<text class="tl" x="380.8" y="1116.1" text-anchor="middle">400</text>
<text class="tl" x="452.3" y="1116.1" text-anchor="middle">500</text>
<text class="tl" x="523.8" y="1116.1" text-anchor="middle">600</text>
<text class="tl" x="595.4" y="1116.1" text-anchor="middle">700</text>
<text class="tl" x="70.6" y="1091.5" text-anchor="end">0</text>
<text class="tl" x="70.6" y="1018.6" text-anchor="end">1000</text>
<text class="tl" x="70.6" y="945.6" text-anchor="end">2000</text>
<text class="tl" x="70.6" y="872.7" text-anchor="end">3000</text>
<text class="tl" x="70.6" y="799.8" text-anchor="end">4000</text>
<text class="tl" x="70.6" y="726.8" text-anchor="end">5000</text>
<text class="tl" x="70.6" y="653.9" text-anchor="end">6000</text>
<text class="at" x="283.5" y="1146.8" textLength="144.5" lengthAdjust="spacingAndGlyphs">Sample number</text>
<text class="at" transform="translate(23.8 943.6) rotate(-90)" textLength="150.6" lengthAdjust="spacingAndGlyphs">Peak stress(kPa)</text>
<path d="M97.2 663h5M136.5 663h5" stroke="#404040" stroke-width="3"/>
<path d="M97.2 690.9h5M136.5 690.9h5" stroke="#f53a3a" stroke-width="3"/>
<path d="M123.6 657.1l5.9 5.9 -5.9 5.9 -5.9 -5.9z" fill="none" stroke="#7b00ff" stroke-width="2.5"/>
<circle cx="123.6" cy="690.9" r="3.9" fill="none" stroke="#f53a3a" stroke-width="3.3"/>
<text class="lg" x="154" y="670.5" textLength="146" lengthAdjust="spacingAndGlyphs">Measured value</text>
<text class="lg" x="154" y="698.4" textLength="148" lengthAdjust="spacingAndGlyphs">Predictive value</text>
<text class="cap" x="151.5" y="1225.9">(c)</text>
<text class="cap" x="216.8" y="1225.9">GA training set</text>
<path class="lmd" d="M893.5 1059.6l2.8 -162.3l2.8 157.4l2.8 -54.9l2.8 69.9l2.8 -78.9l2.8 -17.9l2.8 94.8l2.8 -14.9l2.8 -261l2.8 170.7l2.8 24.4l2.8 34l2.8 53.9l2.8 -114.2l2.8 63.3l2.8 -2l2.8 29.9l2.8 17l2.8 -78.9l2.8 -49.9l2.8 101.9l2.8 -132.3l2.8 14.4l2.8 148.4l2.8 -18.6l2.8 12.5l2.8 -321l2.8 286.5l2.8 -222.3l2.8 209.3l2.8 57.5l2.8 -153.9l2.8 65.5l2.8 41l2.8 14l2.8 -144.2l2.8 153.8l2.8 20.4l2.8 -210.6l2.8 29l2.8 154.7l2.8 5l2.8 -145.8l2.8 65.9l2.8 34l2.8 -283.2l2.8 319.1l2.8 -72.8l2.8 79.9l2.8 -41l2.8 56l2.8 -2l2.8 -178.8l2.8 -24.9l2.8 73.9l2.8 68.9l2.8 42.9l2.8 -142.8l2.8 132.8l2.8 -46.9l2.8 28.9l2.8 -40.9l2.8 57.9l2.8 16l2.8 -80.9l2.8 95.9l2.8 1l2.8 -209l2.8 126.2l2.8 80.8l2.8 -34.9l2.8 -18l2.8 26l2.8 -177.7l2.8 165.7l2.8 16l2.8 36l2.8 -26.9l2.8 -219l2.8 158.1l2.8 -29.9l2.8 103.8l2.8 -85.9l2.8 71.9l2.8 27l2.8 -17l2.8 6.1l2.8 -54.3l2.8 -61.5l2.8 -24l2.8 111.8l2.8 26l2.8 -17l2.8 -132.8l2.8 50.9l2.8 98.9l2.8 -12l2.8 -14.9l2.8 24.9l2.8 -252.6l2.8 247.6l2.8 -107.9l2.8 18l2.8 21l2.8 -21l2.8 34l2.8 37.9l2.8 11l2.8 19l2.8 -338.5l2.8 330.5l2.8 -120.8l2.8 -63.9l2.8 150.8l2.8 21.9l2.8 -35.9l2.8 44.9l2.8 -240l2.8 154.1l2.8 -120.2l2.8 129.3l2.8 80.8l2.8 -66.9l2.8 -93.3l2.8 156.2l2.8 6.9l2.8 -9l2.8 -19l2.8 34.9l2.8 -101.9l2.8 -14l2.8 78.9l2.8 14.9l2.8 -9l2.8 -118.8l2.8 54.9l2.8 -34l2.8 109.9l2.8 -71.9l2.8 -67.9l2.8 89.9l2.8 54.9l2.8 6.9l2.8 -113.8l2.8 -107.9l2.8 77.9l2.8 123.8l2.8 -15l2.8 -47.9l2.8 -76.9l2.8 89.9l2.8 -16l2.8 6.9l2.8 -19.9l2.8 110.8l2.8 -19l2.8 -49l2.8 21.9l2.8 28l2.8 -39.9l2.8 -195.7l2.8 86.8l2.8 59.9l2.8 94.9l2.8 -18l2.8 -167.7l2.8 44l2.8 108.8l2.8 6l2.8 -58.9l2.8 58.9l2.8 -15l2.8 54.9l2.8 1l2.8 -129.8l2.8 108.9l2.8 -159.8l2.8 -176.7l2.8 288.5"/>
<polyline class="kmd" points="893.5,1059.6 896.4,897.3 899.2,1054.7 902,999.8 904.8,1069.6 907.7,990.7 910.5,972.8 913.3,1067.6 916.1,1052.7 919,791.7 921.8,962.4 924.6,986.8 927.5,1020.7 930.3,1074.6 933.1,960.4 935.9,1023.7 938.8,1021.7 941.6,1051.6 944.4,1068.6 947.2,989.8 950.1,939.8 952.9,1041.7 955.7,909.5 958.6,923.8 961.4,1072.2 964.2,1053.6 967,1066.2 969.9,745.2 972.7,1031.7 975.5,809.4 978.4,1018.7 981.2,1076.2 984,922.3 986.8,987.7 989.7,1028.7 992.5,1042.7 995.3,898.5 998.1,1052.2 1001,1072.6 1003.8,862 1006.6,890.9 1009.5,1045.7 1012.3,1050.7 1015.1,904.9 1017.9,970.8 1020.8,1004.8 1023.6,721.6 1026.4,1040.7 1029.2,967.8 1032.1,1047.7 1034.9,1006.7 1037.7,1062.7 1040.6,1060.7 1043.4,881.9 1046.2,857 1049,930.9 1051.9,999.8 1054.7,1042.7 1057.5,899.9 1060.4,1032.7 1063.2,985.8 1066,1014.7 1068.8,973.8 1071.7,1031.7 1074.5,1047.7 1077.3,966.8 1080.1,1062.7 1083,1063.6 1085.8,854.6 1088.6,980.8 1091.5,1061.6 1094.3,1026.7 1097.1,1008.7 1099.9,1034.7 1102.8,857 1105.6,1022.7 1108.4,1038.6 1111.2,1074.6 1114.1,1047.7 1116.9,828.6 1119.7,986.8 1122.6,956.8 1125.4,1060.7 1128.2,974.7 1131,1046.6 1133.9,1073.7 1136.7,1056.6 1139.5,1062.7 1142.3,1008.4 1145.2,946.8 1148,922.9 1150.8,1034.7 1153.7,1060.7 1156.5,1043.6 1159.3,910.9 1162.1,961.8 1165,1060.7 1167.8,1048.6 1170.6,1033.7 1173.5,1058.6 1176.3,806.1 1179.1,1053.6 1181.9,945.8 1184.8,963.8 1187.6,984.7 1190.4,963.8 1193.2,997.7 1196.1,1035.7 1198.9,1046.6 1201.7,1065.7 1204.6,727.2 1207.4,1057.7 1210.2,936.8 1213,872.9 1215.9,1023.7 1218.7,1045.7 1221.5,1009.8 1224.3,1054.7 1227.2,814.7 1230,968.8 1232.8,848.5 1235.7,977.8 1238.5,1058.6 1241.3,991.8 1244.1,898.5 1247,1054.7 1249.8,1061.6 1252.6,1052.7 1255.4,1033.7 1258.3,1068.6 1261.1,966.8 1263.9,952.8 1266.8,1031.7 1269.6,1046.6 1272.4,1037.7 1275.2,918.8 1278.1,973.8 1280.9,939.8 1283.7,1049.7 1286.6,977.8 1289.4,909.9 1292.2,999.8 1295,1054.7 1297.9,1061.6 1300.7,947.8 1303.5,839.9 1306.3,917.9 1309.2,1041.7 1312,1026.7 1314.8,978.8 1317.7,901.9 1320.5,991.8 1323.3,975.8 1326.1,982.7 1329,962.8 1331.8,1073.7 1334.6,1054.7 1337.4,1005.7 1340.3,1027.7 1343.1,1055.7 1345.9,1015.7 1348.8,820 1351.6,906.8 1354.4,966.8 1357.2,1061.6 1360.1,1043.6 1362.9,875.9 1365.7,919.9 1368.5,1028.7 1371.4,1034.7 1374.2,975.8 1377,1034.7 1379.9,1019.7 1382.7,1074.6 1385.5,1075.6 1388.3,945.8 1391.2,1054.7 1394,894.9 1396.8,718.2 1399.7,1006.7"/>
<path class="lpd" d="M893.5 1062.7l2.8 -172.2l2.8 163.7l2.8 -52.7l2.8 73.4l2.8 -92.5l2.8 -4l2.8 93l2.8 -18.4l2.8 -247.5l2.8 150.3l2.8 21.8l2.8 45.6l2.8 49.2l2.8 -113.7l2.8 64.9l2.8 2.3l2.8 27.5l2.8 19l2.8 -73.2l2.8 -65.5l2.8 108.4l2.8 -142.8l2.8 19.9l2.8 152.6l2.8 -18.1l2.8 8.5l2.8 -323.9l2.8 294.3l2.8 -232.9l2.8 221l2.8 59.4l2.8 -159.3l2.8 72.1l2.8 29.1l2.8 20.1l2.8 -132.7l2.8 140.9l2.8 21.8l2.8 -216.2l2.8 43.1l2.8 149.6l2.8 -5.5l2.8 -149.8l2.8 72.7l2.8 35.5l2.8 -289.5l2.8 326.3l2.8 -71.9l2.8 75.4l2.8 -39.8l2.8 62.3l2.8 -7.6l2.8 -184.9l2.8 -4.4l2.8 59.5l2.8 75.5l2.8 42l2.8 -120.9l2.8 114.5l2.8 -49.8l2.8 27.6l2.8 -53.8l2.8 69.3l2.8 19.8l2.8 -81.4l2.8 98.5l2.8 -3.9l2.8 -192.5l2.8 122.2l2.8 63.9l2.8 -41.6l2.8 -8.3l2.8 24.3l2.8 -166.6l2.8 156.1l2.8 23.3l2.8 30.6l2.8 -31.6l2.8 -219.7l2.8 164.5l2.8 -35.3l2.8 105.2l2.8 -83l2.8 66.1l2.8 27.5l2.8 -10.8l2.8 5.9l2.8 -53l2.8 -65.9l2.8 -9.2l2.8 95.2l2.8 34.1l2.8 -22.9l2.8 -133.7l2.8 60l2.8 90l2.8 -3.3l2.8 -18.1l2.8 26.8l2.8 -243.5l2.8 230.2l2.8 -106.8l2.8 18.2l2.8 25.5l2.8 -16.7l2.8 21.2l2.8 40.8l2.8 13l2.8 22.8l2.8 -355.3l2.8 347.9l2.8 -107.4l2.8 -74.5l2.8 144.9l2.8 27.6l2.8 -41.8l2.8 45.7l2.8 -230.9l2.8 140.3l2.8 -103.9l2.8 103l2.8 94.5l2.8 -78.9l2.8 -64.9l2.8 139.1l2.8 9.1l2.8 -11.3l2.8 -24.6l2.8 39.7l2.8 -98.5l2.8 -10.3l2.8 77l2.8 9.4l2.8 -4.3l2.8 -130.9l2.8 58.4l2.8 -11.8l2.8 93.3l2.8 -83.9l2.8 -51.3l2.8 77.9l2.8 67.8l2.8 -0.4l2.8 -116.5l2.8 -98.5l2.8 74l2.8 119.6l2.8 -6.1l2.8 -44.7l2.8 -85.2l2.8 94.6l2.8 -20.2l2.8 -2.8l2.8 -8.8l2.8 114.6l2.8 -20.6l2.8 -40.2l2.8 0.9l2.8 36.4l2.8 -34.4l2.8 -200.6l2.8 81.2l2.8 81.4l2.8 82.5l2.8 -27.1l2.8 -167.9l2.8 11.3l2.8 146.3l2.8 17.6l2.8 -61.5l2.8 53.5l2.8 -21.1l2.8 57.9l2.8 0l2.8 -132.7l2.8 114.5l2.8 -184.2l2.8 -159.7l2.8 293.5"/>
<polyline class="kpd" points="893.5,1062.7 896.4,890.5 899.2,1054.2 902,1001.5 904.8,1074.9 907.7,982.3 910.5,978.3 913.3,1071.3 916.1,1052.8 919,805.4 921.8,955.6 924.6,977.4 927.5,1023 930.3,1072.2 933.1,958.4 935.9,1023.3 938.8,1025.6 941.6,1053 944.4,1072 947.2,998.8 950.1,933.2 952.9,1041.6 955.7,898.8 958.6,918.7 961.4,1071.3 964.2,1053.1 967,1061.6 969.9,737.8 972.7,1032.1 975.5,799.2 978.4,1020.2 981.2,1079.6 984,920.3 986.8,992.4 989.7,1021.5 992.5,1041.6 995.3,908.9 998.1,1049.8 1001,1071.6 1003.8,855.4 1006.6,898.5 1009.5,1048.1 1012.3,1042.6 1015.1,892.8 1017.9,965.5 1020.8,1001 1023.6,711.5 1026.4,1037.7 1029.2,965.8 1032.1,1041.2 1034.9,1001.4 1037.7,1063.7 1040.6,1056.1 1043.4,871.2 1046.2,866.8 1049,926.3 1051.9,1001.8 1054.7,1043.8 1057.5,922.8 1060.4,1037.3 1063.2,987.6 1066,1015.2 1068.8,961.4 1071.7,1030.6 1074.5,1050.4 1077.3,969.1 1080.1,1067.6 1083,1063.7 1085.8,871.2 1088.6,993.4 1091.5,1057.2 1094.3,1015.6 1097.1,1007.4 1099.9,1031.7 1102.8,865 1105.6,1021.2 1108.4,1044.4 1111.2,1075.1 1114.1,1043.5 1116.9,823.8 1119.7,988.3 1122.6,953 1125.4,1058.2 1128.2,975.1 1131,1041.2 1133.9,1068.7 1136.7,1057.9 1139.5,1063.8 1142.3,1010.8 1145.2,944.9 1148,935.7 1150.8,1031 1153.7,1065 1156.5,1042.1 1159.3,908.4 1162.1,968.4 1165,1058.4 1167.8,1055 1170.6,1036.9 1173.5,1063.8 1176.3,820.3 1179.1,1050.5 1181.9,943.7 1184.8,961.9 1187.6,987.4 1190.4,970.8 1193.2,992 1196.1,1032.7 1198.9,1045.7 1201.7,1068.5 1204.6,713.2 1207.4,1061.1 1210.2,953.8 1213,879.3 1215.9,1024.1 1218.7,1051.7 1221.5,1009.9 1224.3,1055.6 1227.2,824.7 1230,965 1232.8,861 1235.7,964.1 1238.5,1058.5 1241.3,979.6 1244.1,914.7 1247,1053.8 1249.8,1062.9 1252.6,1051.5 1255.4,1027 1258.3,1066.7 1261.1,968.2 1263.9,957.9 1266.8,1034.9 1269.6,1044.3 1272.4,1039.9 1275.2,909.1 1278.1,967.5 1280.9,955.7 1283.7,1049 1286.6,965 1289.4,913.7 1292.2,991.6 1295,1059.4 1297.9,1059 1300.7,942.5 1303.5,844 1306.3,918 1309.2,1037.5 1312,1031.4 1314.8,986.7 1317.7,901.5 1320.5,996.1 1323.3,975.8 1326.1,973 1329,964.2 1331.8,1078.7 1334.6,1058.1 1337.4,1017.9 1340.3,1018.9 1343.1,1055.3 1345.9,1020.9 1348.8,820.3 1351.6,901.5 1354.4,982.9 1357.2,1065.4 1360.1,1038.3 1362.9,870.4 1365.7,881.7 1368.5,1028 1371.4,1045.6 1374.2,984.1 1377,1037.6 1379.9,1016.5 1382.7,1074.4 1385.5,1074.4 1388.3,941.7 1391.2,1056.2 1394,872.1 1396.8,712.3 1399.7,1005.9"/>
<path class="tk" d="M890.7 1091v-8.5M890.7 647.4v8.5M947.2 1091v-8.5M947.2 647.4v8.5M1003.8 1091v-8.5M1003.8 647.4v8.5M1060.4 1091v-8.5M1060.4 647.4v8.5M1116.9 1091v-8.5M1116.9 647.4v8.5M1173.5 1091v-8.5M1173.5 647.4v8.5M1230 1091v-8.5M1230 647.4v8.5M1286.6 1091v-8.5M1286.6 647.4v8.5M1343.1 1091v-8.5M1343.1 647.4v8.5M1399.7 1091v-8.5M1399.7 647.4v8.5M919 1091v-4.5M919 647.4v4.5M975.5 1091v-4.5M975.5 647.4v4.5M1032.1 1091v-4.5M1032.1 647.4v4.5M1088.6 1091v-4.5M1088.6 647.4v4.5M1145.2 1091v-4.5M1145.2 647.4v4.5M1201.7 1091v-4.5M1201.7 647.4v4.5M1258.3 1091v-4.5M1258.3 647.4v4.5M1314.8 1091v-4.5M1314.8 647.4v4.5M1371.4 1091v-4.5M1371.4 647.4v4.5M877.1 1086.2h8.5M1427.5 1086.2h-8.5M877.1 998.4h8.5M1427.5 998.4h-8.5M877.1 910.7h8.5M1427.5 910.7h-8.5M877.1 822.9h8.5M1427.5 822.9h-8.5M877.1 735.2h8.5M1427.5 735.2h-8.5M877.1 1042.3h4.5M1427.5 1042.3h-4.5M877.1 954.6h4.5M1427.5 954.6h-4.5M877.1 866.8h4.5M1427.5 866.8h-4.5M877.1 779h4.5M1427.5 779h-4.5M877.1 691.3h4.5M1427.5 691.3h-4.5"/>
<rect class="fr" x="877.1" y="647.4" width="550.4" height="443.6"/>
<text class="tl" x="890.7" y="1117" text-anchor="middle">0</text>
<text class="tl" x="947.2" y="1117" text-anchor="middle">20</text>
<text class="tl" x="1003.8" y="1117" text-anchor="middle">40</text>
<text class="tl" x="1060.4" y="1117" text-anchor="middle">60</text>
<text class="tl" x="1116.9" y="1117" text-anchor="middle">80</text>
<text class="tl" x="1173.5" y="1117" text-anchor="middle">100</text>
<text class="tl" x="1230" y="1117" text-anchor="middle">120</text>
<text class="tl" x="1286.6" y="1117" text-anchor="middle">140</text>
<text class="tl" x="1343.1" y="1117" text-anchor="middle">160</text>
<text class="tl" x="1399.7" y="1117" text-anchor="middle">180</text>
<text class="tl" x="867.1" y="1094.4" text-anchor="end">0</text>
<text class="tl" x="867.1" y="1006.6" text-anchor="end">1000</text>
<text class="tl" x="867.1" y="918.9" text-anchor="end">2000</text>
<text class="tl" x="867.1" y="831.1" text-anchor="end">3000</text>
<text class="tl" x="867.1" y="743.4" text-anchor="end">4000</text>
<text class="tl" x="867.1" y="655.6" text-anchor="end">5000</text>
<text class="at" x="1079.7" y="1147" textLength="144.5" lengthAdjust="spacingAndGlyphs">Sample number</text>
<text class="at" transform="translate(820.3 944.9) rotate(-90)" textLength="150.5" lengthAdjust="spacingAndGlyphs">Peak stress(kPa)</text>
<path d="M1187.7 669h5M1227.7 669h5" stroke="#404040" stroke-width="3"/>
<path d="M1187.7 697h5M1227.7 697h5" stroke="#ff3030" stroke-width="3"/>
<path d="M1214.7 663.3l5.7 5.7 -5.7 5.7 -5.7 -5.7z" fill="none" stroke="#7b00ff" stroke-width="2.5"/>
<circle cx="1214.7" cy="697" r="3.6" fill="none" stroke="#ff3030" stroke-width="2.8"/>
<text class="lg" x="1245" y="676.5" textLength="147" lengthAdjust="spacingAndGlyphs">Measured value</text>
<text class="lg" x="1245" y="704.5" textLength="149" lengthAdjust="spacingAndGlyphs">Predictive value</text>
<text class="cap" x="952" y="1225.7">(d)</text>
<text class="cap" x="1018.2" y="1225.7">GA test set</text>
<path class="lme" d="M106.7 1581l0.7 85.6l0.7 18.7l0.7 -87.9l0.7 42.7l0.7 71.7l0.7 -78l0.7 25.5l0.7 2.9l0.7 -169.5l0.7 112.6l0.7 92.4l0.7 -121.7l0.7 74.1l0.7 33.9l0.7 -21.3l0.7 37.5l0.7 -95.1l0.7 87.8l0.7 -63.2l0.7 1.7l0.7 13.2l0.7 0.5l0.7 -157.5l0.7 117.9l0.7 77.6l0.7 -215.9l0.7 128l0.7 90.5l0.7 10.8l0.7 -52.3l0.7 67.4l0.7 -134.2l0.7 127.4l0.7 -111.9l0.7 94.6l0.7 -64.3l0.7 -124.1l0.7 145.8l0.7 34.4l0.7 -65l0.7 57.9l0.7 -51l0.7 -144.4l0.7 51.8l0.7 84.2l0.7 81.3l0.7 -134.3l0.7 122.2l0.7 24l0.7 -147.8l0.7 -12.3l0.7 48.2l0.7 50.4l0.7 12l0.7 44.1l0.7 -59.7l0.7 66.5l0.7 -62.1l0.7 -15.4l0.7 64.8l0.7 -55.3l0.7 55.7l0.7 -4.6l0.7 -11.2l0.7 16.4l0.7 -83.5l0.7 48.8l0.7 -32.6l0.7 -27.9l0.7 68.5l0.7 2.8l0.7 17.8l0.7 -6.1l0.7 -67.5l0.7 71.8l0.7 -71.8l0.7 43.1l0.7 -59.6l0.7 84.1l0.7 -3.7l0.7 -135l0.7 52.9l0.7 96.2l0.7 -19.1l0.7 36.1l0.7 -49l0.7 -47.8l0.7 50.6l0.7 29.2l0.7 -7.6l0.7 -45l0.7 41.5l0.7 -2.5l0.7 -4.3l0.7 29.5l0.7 -86.2l0.7 -146.2l0.7 225.6l0.7 -91.6l0.7 29.8l0.7 -143.4l0.7 114.1l0.7 44.5l0.7 -60.9l0.7 115.5l0.7 -125.8l0.7 82l0.7 42.3l0.7 -24.5l0.7 7.6l0.7 -55.9l0.7 23l0.7 -1.6l0.7 -37.5l0.7 4l0.7 89.2l0.7 -109l0.7 -101.4l0.7 184.2l0.7 -84.3l0.7 13.7l0.7 -71.1l0.7 158.8l0.7 -11.5l0.7 -43.9l0.7 -162.4l0.7 189l0.7 16.1l0.7 -5.3l0.7 -95.3l0.7 89.8l0.7 1.2l0.7 2.5l0.7 -94.6l0.7 -59.7l0.7 156.8l0.7 -110.5l0.7 89.6l0.7 -115.8l0.7 89.9l0.7 -51.7l0.7 -44.5l0.7 145.8l0.7 -97.7l0.7 55.1l0.7 -83.2l0.7 114.5l0.7 15l0.7 -86.7l0.7 52.6l0.7 -14.9l0.7 29.5l0.7 -7l0.7 -29.4l0.7 49.7l0.7 -8.6l0.7 0.7l0.7 -102.9l0.7 74.9l0.7 -9.4l0.7 69.7l0.7 -38.7l0.7 12.3l0.7 -100.4l0.7 116.1l0.7 -170.8l0.7 108.2l0.7 62.7l0.7 -94.6l0.7 83.9l0.7 25.3l0.7 -50.4l0.7 4.9l0.7 -7.5l0.7 16.7l0.7 6.9l0.7 28l0.7 -130l0.7 98.6l0.7 -118.9l0.7 -25.2l0.7 28.8l0.7 128l0.7 -57l0.7 -25l0.7 -90.4l0.7 59.8l0.7 -16.6l0.7 104.2l0.7 35.1l0.7 -67.6l0.7 56.9l0.7 -20.1l0.7 9.1l0.7 -25.5l0.7 -19.2l0.7 0.9l0.7 22l0.7 1.7l0.7 -106.7l0.7 89.6l0.7 -7.1l0.7 11.2l0.7 43.7l0.7 0.4l0.7 -143l0.7 155.5l0.7 -76.1l0.7 46.2l0.7 23.7l0.7 -9.2l0.7 -38.3l0.7 -82.1l0.7 108.4l0.7 -68.9l0.7 71.1l0.7 -9.6l0.7 -75.4l0.7 21.8l0.7 -30.1l0.7 124.7l0.7 -84.2l0.7 59.5l0.7 7.4l0.7 -10.1l0.7 16.1l0.7 -11.1l0.7 6.5l0.7 -38.5l0.7 -37.4l0.7 72.5l0.7 -182.6l0.7 107.1l0.7 45l0.7 -16.9l0.7 -18.2l0.7 -55.2l0.7 135.3l0.7 -50.4l0.7 21.9l0.7 -28.8l0.7 -273.3l0.7 263.3l0.7 27.2l0.7 -56.5l0.7 40.6l0.7 56.1l0.7 -21.4l0.7 -74.3l0.7 -73.5l0.7 155.1l0.7 7.6l0.7 -116l0.7 55.8l0.7 71.3l0.7 -97.7l0.7 3.1l0.7 90.2l0.7 -39.7l0.7 -45.9l0.7 76l0.7 -55.4l0.7 -5.8l0.7 -125.6l0.7 162.5l0.7 10.3l0.7 -82.5l0.7 10.3l0.7 54.5l0.7 -7.1l0.7 -19l0.7 52.7l0.7 -199.2l0.7 117.6l0.7 33.2l0.7 -82.3l0.7 96.3l0.7 -151.1l0.7 111.4l0.7 47.3l0.7 12.3l0.7 -9.2l0.7 -159l0.7 56.7l0.7 -28.1l0.7 140.6l0.7 2.8l0.7 -13.1l0.7 14.5l0.7 -14.5l0.7 13.3l0.7 -52.3l0.7 50l0.7 14.7l0.7 -103.7l0.7 34.2l0.7 55.8l0.7 -117.3l0.7 23.3l0.7 98.4l0.7 -20.2l0.7 28.2l0.7 -95.7l0.7 34.6l0.7 22l0.7 -69.1l0.7 45.2l0.7 54.3l0.7 -236.3l0.7 210.3l0.7 -68.9l0.7 71.9l0.7 -86.7l0.7 -113.7l0.7 160.7l0.7 -63.8l0.7 110.6l0.7 -12.5l0.7 33.8l0.7 -37.9l0.7 26l0.7 13.1l0.7 -108.3l0.7 113.2l0.7 -112.9l0.7 67.4l0.7 -22.9l0.7 53.7l0.7 -56l0.7 -145.8l0.7 97.9l0.7 -171.9l0.7 305.1l0.7 -148l0.7 59l0.7 27.6l0.7 -6.4l0.7 3.5l0.7 41.8l0.7 -107.4l0.7 83.7l0.7 -20.9l0.7 -126.2l0.7 194.9l0.7 -109.3l0.7 108.2l0.7 -15.9l0.7 -21.4l0.7 3.5l0.7 -137.2l0.7 82.3l0.7 64.7l0.7 -36.9l0.7 28.3l0.7 27.7l0.7 -33.9l0.7 -5.2l0.7 -17.3l0.7 -235.1l0.7 50.4l0.7 139l0.7 61.3l0.7 25.3l0.7 16.9l0.7 -161.1l0.7 111.3l0.7 41l0.7 -43.1l0.7 -109.2l0.7 89.6l0.7 21.3l0.7 -13.8l0.7 65.4l0.7 -121.4l0.7 102.3l0.7 -136.5l0.7 -20.3l0.7 173.8l0.7 -70.9l0.7 -4.2l0.7 12l0.7 -67.8l0.7 -30.2l0.7 -24.3l0.7 87.9l0.7 67.7l0.7 -6.7l0.7 -47.9l0.7 -34l0.7 -167.7l0.7 157l0.7 19.5l0.7 -13.8l0.7 89.2l0.7 -85.5l0.7 96.7l0.7 -57.5l0.7 25.5l0.7 -188.5l0.7 112.2l0.7 5.4l0.7 64.9l0.7 50.3l0.7 -125.7l0.7 143.8l0.7 -95.4l0.7 20.8l0.7 -19.8l0.7 11.2l0.7 -93.5l0.7 152.7l0.7 -11.3l0.7 -99.8l0.7 -46l0.7 -188.9l0.7 209.6l0.7 114.2l0.7 -31l0.7 47.1l0.7 -2.2l0.7 5.4l0.7 -54.6l0.7 -9.3l0.7 10l0.7 52.1l0.7 -67.8l0.7 -26.8l0.7 71.2l0.7 -15.7l0.7 -18.9l0.7 69.5l0.7 -1l0.7 -52.1l0.7 42.8l0.7 -20.4l0.7 -12.9l0.7 54.8l0.7 -28.7l0.7 -133.2l0.7 64.3l0.7 20l0.7 70.4l0.7 -143.5l0.7 87.5l0.7 34.9l0.7 -193.2l0.7 127.6l0.7 78.6l0.7 -49l0.7 43l0.7 24.8l0.7 -66.7l0.7 -19.6l0.7 -14.3l0.7 2.7l0.7 38.2l0.7 -7.2l0.7 11.5l0.7 42.8l0.7 -4.2l0.7 -19.6l0.7 -48.6l0.7 -78.1l0.7 101.9l0.7 -96.7l0.7 117.9l0.7 -43.9l0.7 17.8l0.7 44.8l0.7 -72l0.7 68.3l0.7 -257l0.7 199.4l0.7 -90.6l0.7 3.2l0.7 149.1l0.7 7.5l0.7 -55.6l0.7 33.9l0.7 -24.8l0.7 -45.5l0.7 -24.8l0.7 62.8l0.7 -156.5l0.7 24.2l0.7 151l0.7 39.5l0.7 -86.8l0.7 88.9l0.7 -87l0.7 -29.2l0.7 45l0.7 35.5l0.7 -88.7l0.7 84.5l0.7 -89.9l0.7 113.1l0.7 -152.8l0.7 100.8l0.7 68.2l0.7 -55.2l0.7 16.4l0.7 -32.3l0.7 -18.6l0.7 -22l0.7 -126l0.7 235.3l0.7 -86l0.7 64.3l0.7 -78.3l0.7 73.9l0.7 26.8l0.7 -48.6l0.7 38.7l0.7 -32.9l0.7 15.7l0.7 -48.4l0.7 59.4l0.7 -78.2l0.7 -33.5l0.7 111.2l0.7 -163.1l0.7 128l0.7 -152.2l0.7 139.3l0.7 40l0.7 -111.7l0.7 124.2l0.7 15.7l0.7 -79.3l0.7 -11.5l0.7 48.3l0.7 -75.7l0.7 -82.6l0.7 112.4l0.7 71.1l0.7 -38.4l0.7 -10.5l0.7 -217l0.7 256.5l0.7 -20.9l0.7 -40.4l0.7 53.8l0.7 -30.9l0.7 -17.8l0.7 -84.6l0.7 136.3l0.7 -60.4l0.7 -0.1l0.7 0.8l0.7 78.1l0.7 -51.3l0.7 -234.6l0.7 297.6l0.7 1.5l0.7 -121.8l0.7 81.1l0.7 13.5l0.7 -68.1l0.7 94.6l0.7 -188l0.7 110.8l0.7 75.1l0.7 -158.8l0.7 69.7l0.7 69.8l0.7 4l0.7 8.7l0.7 -32.7l0.7 -113.9l0.7 -7.7l0.7 139.2l0.7 -55.7l0.7 -84.4l0.7 157.3l0.7 -80.4l0.7 77.1l0.7 14.4l0.7 0.6l0.7 -71.2l0.7 -10.6l0.7 46.6l0.7 36.8l0.7 -26.5l0.7 -36.4l0.7 5.2l0.7 14.9l0.7 35.9l0.7 -25.4l0.7 16.3l0.7 -151.8l0.7 -67.8l0.7 199l0.7 -30.1l0.7 -10l0.7 -74.5l0.7 139.6l0.7 -3.6l0.7 -49.6l0.7 -37.3l0.7 52l0.7 51.2l0.7 -32.2l0.7 -11.5l0.7 -83.4l0.7 110.6l0.7 -68.9l0.7 -25.5l0.7 109.2l0.7 -321.4l0.7 221.2l0.7 78.1l0.7 -29.3l0.7 -61.5l0.7 49.2l0.7 -63l0.7 45.1l0.7 25l0.7 -92.1l0.7 -101l0.7 188.5l0.7 45l0.7 -19.3l0.7 4.3l0.7 -68.6l0.7 42.1l0.7 13l0.7 -53.7l0.7 97.5l0.7 -26.4l0.7 -49.6l0.7 30.6l0.7 15l0.7 -136.9l0.7 83.1l0.7 57.9l0.7 -15.1l0.7 -141.4l0.7 80l0.7 -31.3l0.7 36.1l0.7 31.4l0.7 -193.8l0.7 111l0.7 148.5l0.7 -373.5l0.7 349.8l0.7 12l0.7 -4.2l0.7 -30.6l0.7 5.6l0.7 -138.2l0.7 47.7l0.7 64.8l0.7 41.7l0.7 -32.1l0.7 -237.3l0.7 193.5l0.7 -180l0.7 216.1l0.7 49.3l0.7 -46.2l0.7 -19.4l0.7 77.9l0.7 -113.5l0.7 107.5l0.7 -221.4l0.7 184.7l0.7 -84.7l0.7 70.6l0.7 36.7l0.7 -45.1l0.7 -23.3l0.7 -70.5l0.7 106.1l0.7 5.8l0.7 -106.9l0.7 122.6l0.7 22.4l0.7 -81l0.7 -211.9l0.7 289.2l0.7 -197.1l0.7 -11.6l0.7 194.3l0.7 -16.6l0.7 22.4l0.7 -6.2l0.7 -88.6l0.7 64.8l0.7 12.9l0.7 -136.5l0.7 -13.6l0.7 121.5l0.7 16.7l0.7 28.2l0.7 29.3l0.7 -163.8l0.7 104.2l0.7 49.3l0.7 -31.3l0.7 9.9l0.7 3.3l0.7 -51.1l0.7 -57.8l0.7 97.5l0.7 10.4l0.7 14.8l0.7 -2.8l0.7 -206.4l0.7 97.2l0.7 23.4l0.7 87.3l0.7 9.6l0.7 -28.6l0.7 -13.2l0.7 -5.9l0.7 33.2l0.7 1.8"/>
<polyline class="kme" points="106.7,1581 107.4,1666.6 108.1,1685.3 108.8,1597.4 109.5,1640.1 110.2,1711.8 110.9,1633.7 111.7,1659.3 112.4,1662.2 113.1,1492.7 113.8,1605.3 114.5,1697.7 115.2,1576 115.9,1650.1 116.6,1684 117.3,1662.8 118,1700.3 118.7,1605.2 119.4,1693.1 120.1,1629.9 120.8,1631.6 121.5,1644.8 122.3,1645.4 123,1487.9 123.7,1605.7 124.4,1683.4 125.1,1467.5 125.8,1595.5 126.5,1686 127.2,1696.8 127.9,1644.5 128.6,1711.9 129.3,1577.7 130,1705.2 130.7,1593.3 131.4,1687.8 132.1,1623.6 132.9,1499.5 133.6,1645.3 134.3,1679.6 135,1614.6 135.7,1672.5 136.4,1621.6 137.1,1477.2 137.8,1528.9 138.5,1613.2 139.2,1694.5 139.9,1560.2 140.6,1682.4 141.3,1706.4 142,1558.6 142.7,1546.3 143.5,1594.5 144.2,1644.9 144.9,1656.9 145.6,1701 146.3,1641.2 147,1707.7 147.7,1645.6 148.4,1630.2 149.1,1695 149.8,1639.7 150.5,1695.4 151.2,1690.8 151.9,1679.6 152.6,1696 153.3,1612.5 154.1,1661.3 154.8,1628.6 155.5,1600.7 156.2,1669.2 156.9,1671.9 157.6,1689.7 158.3,1683.6 159,1616.1 159.7,1687.9 160.4,1616.1 161.1,1659.2 161.8,1599.6 162.5,1683.7 163.2,1680.1 163.9,1545 164.7,1597.9 165.4,1694.1 166.1,1675 166.8,1711.1 167.5,1662.2 168.2,1614.4 168.9,1664.9 169.6,1694.2 170.3,1686.6 171,1641.6 171.7,1683 172.4,1680.5 173.1,1676.2 173.8,1705.6 174.5,1619.5 175.3,1473.3 176,1698.9 176.7,1607.3 177.4,1637.1 178.1,1493.7 178.8,1607.8 179.5,1652.3 180.2,1591.4 180.9,1707 181.6,1581.1 182.3,1663.1 183,1705.4 183.7,1680.9 184.4,1688.5 185.2,1632.7 185.9,1655.7 186.6,1654.1 187.3,1616.6 188,1620.7 188.7,1709.9 189.4,1600.9 190.1,1499.5 190.8,1683.7 191.5,1599.3 192.2,1613.1 192.9,1541.9 193.6,1700.8 194.3,1689.3 195,1645.3 195.8,1483 196.5,1672 197.2,1688.1 197.9,1682.7 198.6,1587.4 199.3,1677.3 200,1678.5 200.7,1681 201.4,1586.3 202.1,1526.6 202.8,1683.5 203.5,1573 204.2,1662.7 204.9,1546.8 205.6,1636.7 206.4,1585 207.1,1540.5 207.8,1686.3 208.5,1588.6 209.2,1643.8 209.9,1560.6 210.6,1675.1 211.3,1690 212,1603.3 212.7,1655.9 213.4,1641 214.1,1670.5 214.8,1663.5 215.5,1634.1 216.2,1683.8 217,1675.1 217.7,1675.8 218.4,1572.9 219.1,1647.8 219.8,1638.4 220.5,1708.1 221.2,1669.4 221.9,1681.8 222.6,1581.4 223.3,1697.5 224,1526.6 224.7,1634.8 225.4,1697.5 226.1,1602.9 226.8,1686.8 227.6,1712.2 228.3,1661.8 229,1666.7 229.7,1659.2 230.4,1675.9 231.1,1682.8 231.8,1710.8 232.5,1580.8 233.2,1679.4 233.9,1560.5 234.6,1535.3 235.3,1564.2 236,1692.2 236.7,1635.2 237.4,1610.2 238.2,1519.8 238.9,1579.6 239.6,1563 240.3,1667.2 241,1702.3 241.7,1634.7 242.4,1691.6 243.1,1671.5 243.8,1680.6 244.5,1655.1 245.2,1635.9 245.9,1636.9 246.6,1658.8 247.3,1660.5 248,1553.8 248.8,1643.4 249.5,1636.3 250.2,1647.4 250.9,1691.2 251.6,1691.6 252.3,1548.6 253,1704.1 253.7,1628 254.4,1674.2 255.1,1697.9 255.8,1688.7 256.5,1650.3 257.2,1568.3 257.9,1676.6 258.6,1607.7 259.4,1678.8 260.1,1669.2 260.8,1593.8 261.5,1615.6 262.2,1585.4 262.9,1710.1 263.6,1626 264.3,1685.4 265,1692.8 265.7,1682.7 266.4,1698.7 267.1,1687.6 267.8,1694.2 268.5,1655.7 269.2,1618.3 270,1690.8 270.7,1508.2 271.4,1615.3 272.1,1660.3 272.8,1643.4 273.5,1625.2 274.2,1570 274.9,1705.3 275.6,1654.8 276.3,1676.7 277,1647.9 277.7,1374.5 278.4,1637.8 279.1,1665.1 279.8,1608.5 280.6,1649.1 281.3,1705.2 282,1683.9 282.7,1609.6 283.4,1536.1 284.1,1691.2 284.8,1698.8 285.5,1582.8 286.2,1638.6 286.9,1710 287.6,1612.3 288.3,1615.4 289,1705.6 289.7,1665.9 290.4,1620 291.2,1696 291.9,1640.6 292.6,1634.8 293.3,1509.2 294,1671.7 294.7,1682 295.4,1599.5 296.1,1609.8 296.8,1664.3 297.5,1657.2 298.2,1638.3 298.9,1691 299.6,1491.8 300.3,1609.4 301,1642.5 301.8,1560.2 302.5,1656.5 303.2,1505.3 303.9,1616.8 304.6,1664 305.3,1676.4 306,1667.2 306.7,1508.2 307.4,1564.9 308.1,1536.8 308.8,1677.4 309.5,1680.2 310.2,1667.1 310.9,1681.6 311.6,1667.1 312.4,1680.5 313.1,1628.2 313.8,1678.2 314.5,1692.9 315.2,1589.2 315.9,1623.5 316.6,1679.2 317.3,1561.9 318,1585.3 318.7,1683.7 319.4,1663.5 320.1,1691.7 320.8,1596.1 321.5,1630.7 322.3,1652.7 323,1583.6 323.7,1628.8 324.4,1683.1 325.1,1446.8 325.8,1657.2 326.5,1588.3 327.2,1660.1 327.9,1573.4 328.6,1459.7 329.3,1620.5 330,1556.6 330.7,1667.2 331.4,1654.7 332.1,1688.4 332.9,1650.6 333.6,1676.6 334.3,1689.7 335,1581.5 335.7,1694.6 336.4,1581.7 337.1,1649.2 337.8,1626.3 338.5,1680 339.2,1624 339.9,1478.2 340.6,1576.1 341.3,1404.2 342,1709.3 342.7,1561.3 343.5,1620.3 344.2,1647.9 344.9,1641.5 345.6,1644.9 346.3,1686.7 347,1579.3 347.7,1663 348.4,1642.1 349.1,1515.9 349.8,1710.8 350.5,1601.5 351.2,1709.6 351.9,1693.8 352.6,1672.3 353.3,1675.8 354.1,1538.6 354.8,1620.9 355.5,1685.5 356.2,1648.6 356.9,1676.9 357.6,1704.7 358.3,1670.8 359,1665.6 359.7,1648.3 360.4,1413.2 361.1,1463.6 361.8,1602.6 362.5,1663.9 363.2,1689.2 363.9,1706.2 364.7,1545 365.4,1656.3 366.1,1697.3 366.8,1654.2 367.5,1545 368.2,1634.6 368.9,1655.9 369.6,1642.1 370.3,1707.4 371,1586 371.7,1688.3 372.4,1551.8 373.1,1531.5 373.8,1705.2 374.5,1634.3 375.3,1630.1 376,1642.1 376.7,1574.3 377.4,1544.1 378.1,1519.8 378.8,1607.7 379.5,1675.4 380.2,1668.7 380.9,1620.8 381.6,1586.7 382.3,1419 383,1576 383.7,1595.5 384.4,1581.8 385.1,1671 385.9,1585.4 386.6,1682.2 387.3,1624.7 388,1650.2 388.7,1461.7 389.4,1573.9 390.1,1579.2 390.8,1644.1 391.5,1694.4 392.2,1568.7 392.9,1712.5 393.6,1617.1 394.3,1637.9 395,1618.1 395.7,1629.4 396.5,1535.9 397.2,1688.6 397.9,1677.2 398.6,1577.4 399.3,1531.5 400,1342.5 400.7,1552.1 401.4,1666.3 402.1,1635.3 402.8,1682.4 403.5,1680.2 404.2,1685.5 404.9,1631 405.6,1621.7 406.3,1631.7 407.1,1683.8 407.8,1616 408.5,1589.2 409.2,1660.4 409.9,1644.7 410.6,1625.8 411.3,1695.3 412,1694.3 412.7,1642.2 413.4,1685 414.1,1664.6 414.8,1651.6 415.5,1706.4 416.2,1677.7 416.9,1544.5 417.7,1608.9 418.4,1628.9 419.1,1699.2 419.8,1555.7 420.5,1643.2 421.2,1678.1 421.9,1484.9 422.6,1612.5 423.3,1691.1 424,1642.1 424.7,1685 425.4,1709.8 426.1,1643.1 426.8,1623.6 427.5,1609.3 428.3,1611.9 429,1650.1 429.7,1642.9 430.4,1654.4 431.1,1697.2 431.8,1693 432.5,1673.4 433.2,1624.8 433.9,1546.7 434.6,1648.6 435.3,1551.8 436,1669.7 436.7,1625.8 437.4,1643.6 438.1,1688.4 438.9,1616.4 439.6,1684.8 440.3,1427.8 441,1627.2 441.7,1536.6 442.4,1539.8 443.1,1688.9 443.8,1696.4 444.5,1640.8 445.2,1674.7 445.9,1649.9 446.6,1604.5 447.3,1579.7 448,1642.5 448.7,1485.9 449.5,1510.1 450.2,1661.2 450.9,1700.7 451.6,1613.9 452.3,1702.8 453,1615.8 453.7,1586.6 454.4,1631.6 455.1,1667.1 455.8,1578.4 456.5,1663 457.2,1573.1 457.9,1686.1 458.6,1533.4 459.4,1634.2 460.1,1702.3 460.8,1647.1 461.5,1663.6 462.2,1631.3 462.9,1612.7 463.6,1590.6 464.3,1464.6 465,1699.9 465.7,1613.9 466.4,1678.2 467.1,1599.9 467.8,1673.8 468.5,1700.6 469.2,1652 470,1690.7 470.7,1657.7 471.4,1673.4 472.1,1625 472.8,1684.4 473.5,1606.2 474.2,1572.7 474.9,1683.9 475.6,1520.8 476.3,1648.8 477,1496.6 477.7,1635.8 478.4,1675.9 479.1,1564.2 479.8,1688.4 480.6,1704.1 481.3,1624.9 482,1613.4 482.7,1661.7 483.4,1586 484.1,1503.4 484.8,1615.8 485.5,1686.8 486.2,1648.4 486.9,1637.9 487.6,1421 488.3,1677.5 489,1656.6 489.7,1616.3 490.4,1670 491.2,1639.1 491.9,1621.3 492.6,1536.8 493.3,1673.1 494,1612.7 494.7,1612.6 495.4,1613.4 496.1,1691.4 496.8,1640.2 497.5,1405.5 498.2,1703.2 498.9,1704.6 499.6,1582.8 500.3,1664 501,1677.5 501.8,1609.4 502.5,1704 503.2,1515.9 503.9,1626.7 504.6,1701.9 505.3,1543.1 506,1612.8 506.7,1682.5 507.4,1686.6 508.1,1695.3 508.8,1662.6 509.5,1548.8 510.2,1541.1 510.9,1680.3 511.6,1624.6 512.4,1540.2 513.1,1697.5 513.8,1617.2 514.5,1694.3 515.2,1708.7 515.9,1709.3 516.6,1638.1 517.3,1627.5 518,1674.1 518.7,1710.9 519.4,1684.4 520.1,1648 520.8,1653.2 521.5,1668.1 522.2,1704 523,1678.6 523.7,1694.9 524.4,1543.1 525.1,1475.2 525.8,1674.2 526.5,1644.1 527.2,1634.1 527.9,1559.6 528.6,1699.2 529.3,1695.6 530,1646 530.7,1608.7 531.4,1660.7 532.1,1711.9 532.8,1679.8 533.6,1668.3 534.3,1585 535,1695.6 535.7,1626.7 536.4,1601.2 537.1,1710.4 537.8,1389 538.5,1610.2 539.2,1688.3 539.9,1659 540.6,1597.5 541.3,1646.7 542,1583.7 542.7,1628.8 543.4,1653.8 544.2,1561.7 544.9,1460.7 545.6,1649.2 546.3,1694.2 547,1674.9 547.7,1679.2 548.4,1610.6 549.1,1652.7 549.8,1665.7 550.5,1612 551.2,1709.4 551.9,1683 552.6,1633.4 553.3,1664 554,1679 554.8,1542.1 555.5,1625.2 556.2,1683.1 556.9,1668 557.6,1526.6 558.3,1606.7 559,1575.4 559.7,1611.5 560.4,1642.9 561.1,1449.1 561.8,1560.1 562.5,1708.7 563.2,1335.2 563.9,1685 564.6,1697 565.4,1692.8 566.1,1662.2 566.8,1667.7 567.5,1529.5 568.2,1577.2 568.9,1642 569.6,1683.7 570.3,1651.5 571,1414.2 571.7,1607.7 572.4,1427.8 573.1,1643.9 573.8,1693.2 574.5,1647.1 575.2,1627.7 576,1705.6 576.7,1592.1 577.4,1699.6 578.1,1478.2 578.8,1662.9 579.5,1578.2 580.2,1648.7 580.9,1685.5 581.6,1640.4 582.3,1617.1 583,1546.7 583.7,1652.7 584.4,1658.5 585.1,1551.6 585.8,1674.2 586.6,1696.5 587.3,1615.6 588,1403.6 588.7,1692.8 589.4,1495.6 590.1,1484 590.8,1678.3 591.5,1661.7 592.2,1684.1 592.9,1677.9 593.6,1589.3 594.3,1654.1 595,1667 595.7,1530.5 596.4,1516.9 597.2,1638.5 597.9,1655.2 598.6,1683.4 599.3,1712.7 600,1548.9 600.7,1653.1 601.4,1702.3 602.1,1671 602.8,1680.9 603.5,1684.3 604.2,1633.2 604.9,1575.4 605.6,1672.8 606.3,1683.2 607.1,1698 607.8,1695.2 608.5,1488.8 609.2,1586 609.9,1609.4 610.6,1696.8 611.3,1706.4 612,1677.8 612.7,1664.6 613.4,1658.7 614.1,1691.8 614.8,1693.6"/>
<path class="lpe" d="M106.7 1580.7l0.7 88.1l0.7 17.4l0.7 -80.6l0.7 34.8l0.7 71.5l0.7 -81.1l0.7 29.8l0.7 3.3l0.7 -171.3l0.7 106.3l0.7 99.2l0.7 -122.4l0.7 73.5l0.7 36.9l0.7 -21.2l0.7 33.9l0.7 -95.6l0.7 89.9l0.7 -62.9l0.7 -2.9l0.7 22.2l0.7 -6.8l0.7 -154.9l0.7 119.2l0.7 73.9l0.7 -213.5l0.7 129.4l0.7 87.5l0.7 11.7l0.7 -50.8l0.7 65.4l0.7 -128.4l0.7 121.7l0.7 -109.8l0.7 91.8l0.7 -66.1l0.7 -120.5l0.7 141.9l0.7 39.6l0.7 -67.9l0.7 59.6l0.7 -47.4l0.7 -148.1l0.7 51.8l0.7 86.7l0.7 81l0.7 -137.1l0.7 122.2l0.7 25.5l0.7 -148.6l0.7 -18l0.7 41.7l0.7 62l0.7 12.7l0.7 42.8l0.7 -55l0.7 62.3l0.7 -59l0.7 -14.4l0.7 61.3l0.7 -52.7l0.7 53.6l0.7 -5.8l0.7 -12.8l0.7 17.3l0.7 -79.6l0.7 46l0.7 -31.8l0.7 -34l0.7 71.9l0.7 3.8l0.7 20.9l0.7 -10l0.7 -71.8l0.7 74.9l0.7 -65.3l0.7 43.4l0.7 -61.4l0.7 84.4l0.7 -3.3l0.7 -137.7l0.7 50.1l0.7 98.7l0.7 -16.5l0.7 33.8l0.7 -48l0.7 -46.5l0.7 49.9l0.7 27.2l0.7 -7.6l0.7 -47.4l0.7 43.6l0.7 -1l0.7 0l0.7 24l0.7 -88.3l0.7 -143.7l0.7 222.7l0.7 -85.2l0.7 26.1l0.7 -143.2l0.7 112.9l0.7 44l0.7 -57.2l0.7 114.1l0.7 -118.8l0.7 74.5l0.7 41.1l0.7 -24.1l0.7 10.4l0.7 -57.8l0.7 24.1l0.7 -2.3l0.7 -34l0.7 -3.5l0.7 94.3l0.7 -117.6l0.7 -94.3l0.7 183.7l0.7 -87l0.7 16.3l0.7 -70.1l0.7 158.2l0.7 -10.7l0.7 -43.3l0.7 -163.6l0.7 187.8l0.7 16.9l0.7 -4.7l0.7 -91.8l0.7 82.7l0.7 4.2l0.7 -0l0.7 -93.9l0.7 -57.5l0.7 160.2l0.7 -121.3l0.7 97.8l0.7 -117.7l0.7 93.1l0.7 -58.6l0.7 -42.6l0.7 151.6l0.7 -104.3l0.7 62.4l0.7 -83.6l0.7 114.2l0.7 10.7l0.7 -83.7l0.7 51.8l0.7 -14.1l0.7 31.3l0.7 -8l0.7 -34.8l0.7 51.3l0.7 -8.7l0.7 0.9l0.7 -101l0.7 72l0.7 -7.8l0.7 70.7l0.7 -38.3l0.7 12l0.7 -108.2l0.7 121.7l0.7 -169.3l0.7 110.1l0.7 61.3l0.7 -96l0.7 83l0.7 25.9l0.7 -51.2l0.7 4.3l0.7 -6.7l0.7 18l0.7 6.4l0.7 30.2l0.7 -130.1l0.7 97.7l0.7 -119.2l0.7 -25.2l0.7 30.8l0.7 123.5l0.7 -56.4l0.7 -19.2l0.7 -94.2l0.7 61.4l0.7 -16.7l0.7 101.6l0.7 37.3l0.7 -66.6l0.7 53.6l0.7 -18.9l0.7 8.6l0.7 -28.9l0.7 -19l0.7 3.2l0.7 23.8l0.7 0.5l0.7 -105.8l0.7 86.5l0.7 -6l0.7 11.2l0.7 46.1l0.7 -2.6l0.7 -144.6l0.7 160.6l0.7 -78l0.7 50.6l0.7 18.2l0.7 -7.6l0.7 -39l0.7 -80.8l0.7 107.3l0.7 -66.6l0.7 70.4l0.7 -7.6l0.7 -80l0.7 29.5l0.7 -39.1l0.7 127.8l0.7 -82.6l0.7 57.6l0.7 8.3l0.7 -11.2l0.7 16l0.7 -11l0.7 7.8l0.7 -38.7l0.7 -33.6l0.7 68.3l0.7 -182.6l0.7 106.5l0.7 43.3l0.7 -12.7l0.7 -16.9l0.7 -60l0.7 136.4l0.7 -54.8l0.7 27.7l0.7 -28.4l0.7 -274.8l0.7 263.7l0.7 29.1l0.7 -58.1l0.7 40.2l0.7 53.8l0.7 -21.2l0.7 -71.4l0.7 -78.1l0.7 158.5l0.7 8.8l0.7 -111.5l0.7 52.9l0.7 69.6l0.7 -92.9l0.7 -5.9l0.7 94.8l0.7 -44.2l0.7 -48l0.7 80l0.7 -51.5l0.7 -10.5l0.7 -123.3l0.7 160.8l0.7 11.5l0.7 -87.7l0.7 14.5l0.7 51.5l0.7 1.2l0.7 -21.6l0.7 52.2l0.7 -200l0.7 112l0.7 39.7l0.7 -83.4l0.7 93.8l0.7 -148.6l0.7 108.1l0.7 48.7l0.7 14l0.7 -9.1l0.7 -158.8l0.7 56.2l0.7 -32.8l0.7 146l0.7 4.2l0.7 -16.2l0.7 18.3l0.7 -16l0.7 11.6l0.7 -49.5l0.7 48l0.7 15.7l0.7 -104.7l0.7 34.3l0.7 57.9l0.7 -124.5l0.7 32.2l0.7 94.1l0.7 -21.4l0.7 28.2l0.7 -90.1l0.7 34.4l0.7 17.1l0.7 -69.1l0.7 53.1l0.7 51.5l0.7 -239.7l0.7 205.8l0.7 -63.1l0.7 68.5l0.7 -84.1l0.7 -114.2l0.7 159.9l0.7 -63l0.7 112.6l0.7 -15.6l0.7 37.3l0.7 -39.1l0.7 22.9l0.7 17.3l0.7 -111.7l0.7 114.9l0.7 -115.6l0.7 67.4l0.7 -20.8l0.7 57.3l0.7 -60.4l0.7 -145l0.7 102.1l0.7 -171.9l0.7 301.6l0.7 -152l0.7 56.6l0.7 37.7l0.7 -9.6l0.7 -2.7l0.7 48.9l0.7 -116l0.7 91.1l0.7 -20.2l0.7 -128l0.7 193.7l0.7 -107l0.7 105.6l0.7 -14.7l0.7 -19.5l0.7 -0.5l0.7 -133.9l0.7 82.6l0.7 63.3l0.7 -37.2l0.7 29.7l0.7 28.1l0.7 -38.8l0.7 -0.4l0.7 -19.2l0.7 -234.5l0.7 50.4l0.7 141.3l0.7 61.8l0.7 22.5l0.7 13.3l0.7 -157.5l0.7 112.6l0.7 41.9l0.7 -47.9l0.7 -98.9l0.7 84.5l0.7 20.1l0.7 -17.6l0.7 68.8l0.7 -121.9l0.7 103.2l0.7 -137.8l0.7 -20.7l0.7 174.1l0.7 -72l0.7 -6.3l0.7 16.7l0.7 -68.3l0.7 -31.7l0.7 -24.3l0.7 87.5l0.7 68.5l0.7 -5.5l0.7 -51l0.7 -35.2l0.7 -165l0.7 161.3l0.7 15.4l0.7 -14.5l0.7 91.1l0.7 -92.2l0.7 102.1l0.7 -60.4l0.7 33.3l0.7 -193.4l0.7 108.4l0.7 8.9l0.7 66.5l0.7 47.3l0.7 -123.4l0.7 145.4l0.7 -102.4l0.7 21.6l0.7 -15.7l0.7 10.1l0.7 -91.1l0.7 151.3l0.7 -12.1l0.7 -100.5l0.7 -44.5l0.7 -186l0.7 210.1l0.7 109.5l0.7 -29.5l0.7 47.5l0.7 -4.4l0.7 6.4l0.7 -51.3l0.7 -11.5l0.7 14.7l0.7 47.4l0.7 -65.2l0.7 -24.8l0.7 65.2l0.7 -15.8l0.7 -15.5l0.7 66.6l0.7 3.8l0.7 -57.3l0.7 44.9l0.7 -19.3l0.7 -17.1l0.7 56.4l0.7 -28.8l0.7 -131.6l0.7 59.6l0.7 23.7l0.7 70.9l0.7 -144.2l0.7 89.9l0.7 32.9l0.7 -193.6l0.7 128.1l0.7 77.2l0.7 -48.6l0.7 45.1l0.7 23.8l0.7 -63.7l0.7 -23.7l0.7 -18.5l0.7 7.6l0.7 35.7l0.7 -2.2l0.7 10.2l0.7 43.1l0.7 -5.1l0.7 -17.9l0.7 -51.6l0.7 -72.1l0.7 94.7l0.7 -95l0.7 117.8l0.7 -48.8l0.7 24.6l0.7 44.7l0.7 -78.3l0.7 69.3l0.7 -246.5l0.7 192.2l0.7 -81.3l0.7 4.5l0.7 138l0.7 5.3l0.7 -52.6l0.7 33l0.7 -24.6l0.7 -49.8l0.7 -21.4l0.7 68.5l0.7 -160.4l0.7 24.2l0.7 154.7l0.7 36l0.7 -82.8l0.7 84.2l0.7 -84.7l0.7 -33.8l0.7 42.8l0.7 34.5l0.7 -81.1l0.7 81.2l0.7 -95l0.7 118.6l0.7 -151.2l0.7 102.8l0.7 65.3l0.7 -55.3l0.7 19.7l0.7 -27.5l0.7 -20.9l0.7 -26.8l0.7 -125.9l0.7 235.5l0.7 -83.1l0.7 60.8l0.7 -79.4l0.7 77.4l0.7 25l0.7 -44.9l0.7 36.8l0.7 -36.6l0.7 18.8l0.7 -48.8l0.7 59.7l0.7 -76.9l0.7 -35.2l0.7 109.2l0.7 -162l0.7 127.4l0.7 -151.7l0.7 140.3l0.7 38.2l0.7 -108.7l0.7 122.7l0.7 17.7l0.7 -81.2l0.7 -10.5l0.7 47.5l0.7 -80.1l0.7 -79.2l0.7 112.4l0.7 72.1l0.7 -42.8l0.7 -9l0.7 -215.2l0.7 259.8l0.7 -26.5l0.7 -43.1l0.7 58.1l0.7 -27.7l0.7 -21.1l0.7 -83.4l0.7 135.1l0.7 -55.2l0.7 -5.5l0.7 -2l0.7 81.1l0.7 -47.7l0.7 -237.3l0.7 296.1l0.7 1.5l0.7 -117.6l0.7 78.2l0.7 15.9l0.7 -77l0.7 100.4l0.7 -187l0.7 112.1l0.7 71.3l0.7 -156.2l0.7 67.1l0.7 68.3l0.7 6.6l0.7 9.5l0.7 -28.9l0.7 -113.7l0.7 -12.9l0.7 139.5l0.7 -49.5l0.7 -88.9l0.7 155.9l0.7 -81.7l0.7 78.7l0.7 16.8l0.7 -0.6l0.7 -71.3l0.7 -11.8l0.7 48.4l0.7 35.3l0.7 -28.2l0.7 -34.7l0.7 6.9l0.7 12.2l0.7 37.8l0.7 -25.9l0.7 17.5l0.7 -152.6l0.7 -67.8l0.7 197.5l0.7 -29.9l0.7 -2.7l0.7 -72.8l0.7 132l0.7 -5.7l0.7 -45.8l0.7 -36.3l0.7 51.5l0.7 48.2l0.7 -33.8l0.7 -9.9l0.7 -80.9l0.7 110l0.7 -65.3l0.7 -29.6l0.7 108.4l0.7 -324.1l0.7 225.3l0.7 77.3l0.7 -28.8l0.7 -54.7l0.7 42.5l0.7 -63.3l0.7 48.5l0.7 18.8l0.7 -92.1l0.7 -98.9l0.7 190.8l0.7 41.6l0.7 -18l0.7 5.9l0.7 -68.6l0.7 40l0.7 8.8l0.7 -52.3l0.7 102.5l0.7 -30.4l0.7 -45.9l0.7 28.6l0.7 15.7l0.7 -137.3l0.7 86.7l0.7 53.3l0.7 -14.8l0.7 -140.8l0.7 81l0.7 -29.9l0.7 38.8l0.7 31.4l0.7 -198.8l0.7 105.3l0.7 153.7l0.7 -372.9l0.7 346l0.7 15.8l0.7 -2.6l0.7 -33.2l0.7 3.8l0.7 -135.5l0.7 50.9l0.7 60.9l0.7 40.5l0.7 -28.8l0.7 -238.7l0.7 195l0.7 -181.5l0.7 212.5l0.7 54.2l0.7 -45l0.7 -21l0.7 76.9l0.7 -115.5l0.7 107.9l0.7 -219.5l0.7 186.6l0.7 -94.3l0.7 82.2l0.7 31.1l0.7 -48.2l0.7 -16.9l0.7 -70l0.7 104.9l0.7 7.7l0.7 -115.4l0.7 130l0.7 20.3l0.7 -75.6l0.7 -224.7l0.7 296l0.7 -196.2l0.7 -11.6l0.7 195l0.7 -19.5l0.7 26.7l0.7 -7.3l0.7 -88.5l0.7 61.5l0.7 14.7l0.7 -136.1l0.7 -13.6l0.7 123.7l0.7 15.4l0.7 25.5l0.7 32.4l0.7 -165.1l0.7 104.8l0.7 48.9l0.7 -30.8l0.7 11l0.7 -1.2l0.7 -47.3l0.7 -54.2l0.7 91.5l0.7 11.3l0.7 14.8l0.7 -3.4l0.7 -200.5l0.7 92.5l0.7 23l0.7 86.7l0.7 13.2l0.7 -32.4l0.7 -12.2l0.7 -5.7l0.7 33.4l0.7 2.4"/>
<polyline class="kpe" points="106.7,1580.7 107.4,1668.7 108.1,1686.2 108.8,1605.5 109.5,1640.4 110.2,1711.9 110.9,1630.9 111.7,1660.7 112.4,1664 113.1,1492.7 113.8,1599 114.5,1698.2 115.2,1575.8 115.9,1649.3 116.6,1686.2 117.3,1665 118,1699 118.7,1603.3 119.4,1693.2 120.1,1630.3 120.8,1627.5 121.5,1649.7 122.3,1642.8 123,1487.9 123.7,1607.1 124.4,1681 125.1,1467.5 125.8,1596.9 126.5,1684.4 127.2,1696.1 127.9,1645.3 128.6,1710.7 129.3,1582.3 130,1704 130.7,1594.2 131.4,1686.1 132.1,1620 132.9,1499.5 133.6,1641.4 134.3,1681 135,1613.1 135.7,1672.6 136.4,1625.2 137.1,1477.2 137.8,1528.9 138.5,1615.7 139.2,1696.7 139.9,1559.5 140.6,1681.7 141.3,1707.2 142,1558.6 142.7,1540.6 143.5,1582.3 144.2,1644.2 144.9,1656.9 145.6,1699.7 146.3,1644.7 147,1707 147.7,1648 148.4,1633.6 149.1,1694.8 149.8,1642.1 150.5,1695.8 151.2,1690 151.9,1677.2 152.6,1694.5 153.3,1614.9 154.1,1660.9 154.8,1629.2 155.5,1595.2 156.2,1667.1 156.9,1670.9 157.6,1691.8 158.3,1681.9 159,1610.1 159.7,1685 160.4,1619.6 161.1,1663 161.8,1601.6 162.5,1686 163.2,1682.7 163.9,1545 164.7,1595.1 165.4,1693.7 166.1,1677.2 166.8,1711 167.5,1662.9 168.2,1616.5 168.9,1666.4 169.6,1693.6 170.3,1686 171,1638.6 171.7,1682.2 172.4,1681.2 173.1,1681.3 173.8,1705.3 174.5,1617 175.3,1473.3 176,1696 176.7,1610.8 177.4,1636.9 178.1,1493.7 178.8,1606.6 179.5,1650.5 180.2,1593.3 180.9,1707.4 181.6,1588.6 182.3,1663.1 183,1704.2 183.7,1680.1 184.4,1690.5 185.2,1632.7 185.9,1656.8 186.6,1654.6 187.3,1620.6 188,1617.1 188.7,1711.4 189.4,1593.8 190.1,1499.5 190.8,1683.2 191.5,1596.2 192.2,1612.5 192.9,1542.5 193.6,1700.6 194.3,1689.9 195,1646.6 195.8,1483 196.5,1670.8 197.2,1687.6 197.9,1682.9 198.6,1591.1 199.3,1673.9 200,1678 200.7,1678 201.4,1584.1 202.1,1526.6 202.8,1686.8 203.5,1565.6 204.2,1663.4 204.9,1545.7 205.6,1638.8 206.4,1580.2 207.1,1537.6 207.8,1689.2 208.5,1584.9 209.2,1647.3 209.9,1563.8 210.6,1677.9 211.3,1688.6 212,1604.9 212.7,1656.7 213.4,1642.6 214.1,1673.9 214.8,1666 215.5,1631.2 216.2,1682.5 217,1673.8 217.7,1674.7 218.4,1573.7 219.1,1645.8 219.8,1638 220.5,1708.7 221.2,1670.4 221.9,1682.4 222.6,1574.2 223.3,1695.9 224,1526.6 224.7,1636.7 225.4,1698.1 226.1,1602 226.8,1685.1 227.6,1711 228.3,1659.8 229,1664.1 229.7,1657.4 230.4,1675.4 231.1,1681.8 231.8,1712 232.5,1582 233.2,1679.7 233.9,1560.5 234.6,1535.3 235.3,1566.1 236,1689.6 236.7,1633.1 237.4,1614 238.2,1519.8 238.9,1581.2 239.6,1564.5 240.3,1666.1 241,1703.4 241.7,1636.8 242.4,1690.4 243.1,1671.5 243.8,1680 244.5,1651.1 245.2,1632.1 245.9,1635.3 246.6,1659.1 247.3,1659.6 248,1553.8 248.8,1640.3 249.5,1634.3 250.2,1645.5 250.9,1691.5 251.6,1688.9 252.3,1544.3 253,1704.9 253.7,1626.8 254.4,1677.5 255.1,1695.7 255.8,1688.1 256.5,1649.1 257.2,1568.3 257.9,1675.6 258.6,1609 259.4,1679.4 260.1,1671.8 260.8,1591.8 261.5,1621.2 262.2,1582.1 262.9,1709.9 263.6,1627.3 264.3,1684.9 265,1693.2 265.7,1682 266.4,1698 267.1,1687 267.8,1694.8 268.5,1656.1 269.2,1622.5 270,1690.8 270.7,1508.2 271.4,1614.7 272.1,1658 272.8,1645.3 273.5,1628.4 274.2,1568.4 274.9,1704.8 275.6,1650.1 276.3,1677.8 277,1649.3 277.7,1374.5 278.4,1638.2 279.1,1667.4 279.8,1609.2 280.6,1649.5 281.3,1703.3 282,1682.1 282.7,1610.7 283.4,1532.6 284.1,1691.1 284.8,1699.9 285.5,1588.4 286.2,1641.2 286.9,1710.8 287.6,1617.9 288.3,1611.9 289,1706.7 289.7,1662.5 290.4,1614.5 291.2,1694.5 291.9,1643 292.6,1632.5 293.3,1509.2 294,1669.9 294.7,1681.5 295.4,1593.8 296.1,1608.3 296.8,1659.8 297.5,1661 298.2,1639.5 298.9,1691.7 299.6,1491.8 300.3,1603.8 301,1643.5 301.8,1560.1 302.5,1654 303.2,1505.3 303.9,1613.5 304.6,1662.1 305.3,1676.1 306,1667 306.7,1508.2 307.4,1564.4 308.1,1531.6 308.8,1677.6 309.5,1681.7 310.2,1665.5 310.9,1683.8 311.6,1667.8 312.4,1679.3 313.1,1629.8 313.8,1677.8 314.5,1693.6 315.2,1588.9 315.9,1623.2 316.6,1681.1 317.3,1556.6 318,1588.8 318.7,1682.9 319.4,1661.5 320.1,1689.7 320.8,1599.6 321.5,1633.9 322.3,1651 323,1581.9 323.7,1635 324.4,1686.5 325.1,1446.8 325.8,1652.7 326.5,1589.5 327.2,1658 327.9,1573.9 328.6,1459.7 329.3,1619.6 330,1556.6 330.7,1669.3 331.4,1653.6 332.1,1690.9 332.9,1651.8 333.6,1674.7 334.3,1692 335,1580.3 335.7,1695.2 336.4,1579.6 337.1,1647 337.8,1626.2 338.5,1683.5 339.2,1623.1 339.9,1478.2 340.6,1580.3 341.3,1408.4 342,1710.1 342.7,1558 343.5,1614.6 344.2,1652.3 344.9,1642.8 345.6,1640.1 346.3,1689 347,1573 347.7,1664.1 348.4,1643.9 349.1,1515.9 349.8,1709.6 350.5,1602.7 351.2,1708.3 351.9,1693.6 352.6,1674 353.3,1673.6 354.1,1539.7 354.8,1622.3 355.5,1685.5 356.2,1648.4 356.9,1678 357.6,1706.1 358.3,1667.3 359,1666.9 359.7,1647.7 360.4,1413.2 361.1,1463.6 361.8,1604.9 362.5,1666.7 363.2,1689.2 363.9,1702.5 364.7,1545 365.4,1657.6 366.1,1699.5 366.8,1651.6 367.5,1552.7 368.2,1637.2 368.9,1657.3 369.6,1639.8 370.3,1708.6 371,1586.7 371.7,1689.9 372.4,1552.1 373.1,1531.5 373.8,1705.6 374.5,1633.6 375.3,1627.4 376,1644.1 376.7,1575.7 377.4,1544.1 378.1,1519.8 378.8,1607.3 379.5,1675.8 380.2,1670.3 380.9,1619.2 381.6,1584 382.3,1419 383,1580.4 383.7,1595.8 384.4,1581.2 385.1,1672.3 385.9,1580.1 386.6,1682.2 387.3,1621.8 388,1655 388.7,1461.7 389.4,1570.1 390.1,1579 390.8,1645.5 391.5,1692.8 392.2,1569.4 392.9,1714.8 393.6,1612.3 394.3,1633.9 395,1618.2 395.7,1628.3 396.5,1537.2 397.2,1688.6 397.9,1676.5 398.6,1576 399.3,1531.5 400,1345.5 400.7,1555.6 401.4,1665 402.1,1635.5 402.8,1683 403.5,1678.6 404.2,1684.9 404.9,1633.6 405.6,1622.1 406.3,1636.7 407.1,1684.2 407.8,1619 408.5,1594.2 409.2,1659.4 409.9,1643.6 410.6,1628.1 411.3,1694.7 412,1698.5 412.7,1641.2 413.4,1686.1 414.1,1666.8 414.8,1649.7 415.5,1706.1 416.2,1677.3 416.9,1545.7 417.7,1605.3 418.4,1629.1 419.1,1699.9 419.8,1555.7 420.5,1645.6 421.2,1678.5 421.9,1484.9 422.6,1613.1 423.3,1690.2 424,1641.6 424.7,1686.7 425.4,1710.5 426.1,1646.8 426.8,1623.1 427.5,1604.6 428.3,1612.2 429,1647.9 429.7,1645.6 430.4,1655.9 431.1,1698.9 431.8,1693.8 432.5,1675.9 433.2,1624.3 433.9,1552.2 434.6,1646.9 435.3,1551.8 436,1669.7 436.7,1620.8 437.4,1645.4 438.1,1690.1 438.9,1611.8 439.6,1681.1 440.3,1434.5 441,1626.7 441.7,1545.4 442.4,1549.9 443.1,1687.9 443.8,1693.2 444.5,1640.7 445.2,1673.7 445.9,1649.1 446.6,1599.3 447.3,1577.9 448,1646.4 448.7,1485.9 449.5,1510.1 450.2,1664.8 450.9,1700.8 451.6,1618 452.3,1702.2 453,1617.5 453.7,1583.6 454.4,1626.4 455.1,1660.9 455.8,1579.8 456.5,1661 457.2,1566 457.9,1684.6 458.6,1533.4 459.4,1636.1 460.1,1701.4 460.8,1646.2 461.5,1665.8 462.2,1638.4 462.9,1617.4 463.6,1590.6 464.3,1464.6 465,1700.1 465.7,1617 466.4,1677.8 467.1,1598.3 467.8,1675.7 468.5,1700.7 469.2,1655.8 470,1692.6 470.7,1656 471.4,1674.8 472.1,1626 472.8,1685.7 473.5,1608.9 474.2,1573.6 474.9,1682.8 475.6,1520.8 476.3,1648.2 477,1496.6 477.7,1636.9 478.4,1675.1 479.1,1566.4 479.8,1689.1 480.6,1706.8 481.3,1625.7 482,1615.2 482.7,1662.7 483.4,1582.5 484.1,1503.4 484.8,1615.8 485.5,1688 486.2,1645.1 486.9,1636.1 487.6,1421 488.3,1680.8 489,1654.3 489.7,1611.3 490.4,1669.3 491.2,1641.6 491.9,1620.5 492.6,1537.1 493.3,1672.2 494,1617 494.7,1611.5 495.4,1609.5 496.1,1690.6 496.8,1642.8 497.5,1405.5 498.2,1701.7 498.9,1703.1 499.6,1585.5 500.3,1663.7 501,1679.6 501.8,1602.6 502.5,1703 503.2,1515.9 503.9,1628 504.6,1699.3 505.3,1543.1 506,1610.2 506.7,1678.6 507.4,1685.1 508.1,1694.6 508.8,1665.7 509.5,1551.9 510.2,1539 510.9,1678.6 511.6,1629.1 512.4,1540.2 513.1,1696.1 513.8,1614.4 514.5,1693.1 515.2,1709.9 515.9,1709.3 516.6,1638 517.3,1626.2 518,1674.6 518.7,1710 519.4,1681.8 520.1,1647.1 520.8,1654.1 521.5,1666.3 522.2,1704 523,1678.1 523.7,1695.7 524.4,1543.1 525.1,1475.2 525.8,1672.8 526.5,1642.8 527.2,1640.1 527.9,1567.3 528.6,1699.3 529.3,1693.6 530,1647.9 530.7,1611.6 531.4,1663.1 532.1,1711.3 532.8,1677.5 533.6,1667.6 534.3,1586.7 535,1696.7 535.7,1631.4 536.4,1601.8 537.1,1710.2 537.8,1386.2 538.5,1611.4 539.2,1688.7 539.9,1659.9 540.6,1605.2 541.3,1647.7 542,1584.4 542.7,1632.9 543.4,1651.8 544.2,1559.6 544.9,1460.7 545.6,1651.5 546.3,1693.1 547,1675 547.7,1680.9 548.4,1612.3 549.1,1652.3 549.8,1661.1 550.5,1608.8 551.2,1711.4 551.9,1681 552.6,1635.1 553.3,1663.7 554,1679.4 554.8,1542.1 555.5,1628.8 556.2,1682.2 556.9,1667.4 557.6,1526.6 558.3,1607.7 559,1577.8 559.7,1616.6 560.4,1648 561.1,1449.1 561.8,1554.4 562.5,1708.1 563.2,1335.2 563.9,1681.2 564.6,1697 565.4,1694.4 566.1,1661.2 566.8,1665 567.5,1529.5 568.2,1580.4 568.9,1641.3 569.6,1681.7 570.3,1652.9 571,1414.2 571.7,1609.3 572.4,1427.8 573.1,1640.3 573.8,1694.5 574.5,1649.5 575.2,1628.4 576,1705.3 576.7,1589.8 577.4,1697.7 578.1,1478.2 578.8,1664.8 579.5,1570.4 580.2,1652.6 580.9,1683.8 581.6,1635.6 582.3,1618.7 583,1548.7 583.7,1653.7 584.4,1661.3 585.1,1545.9 585.8,1675.9 586.6,1696.2 587.3,1620.6 588,1395.9 588.7,1691.9 589.4,1495.6 590.1,1484 590.8,1679 591.5,1659.5 592.2,1686.2 592.9,1679 593.6,1590.5 594.3,1652 595,1666.6 595.7,1530.5 596.4,1516.9 597.2,1640.7 597.9,1656.1 598.6,1681.6 599.3,1714 600,1548.9 600.7,1653.7 601.4,1702.6 602.1,1671.8 602.8,1682.8 603.5,1681.6 604.2,1634.4 604.9,1580.1 605.6,1671.6 606.3,1682.9 607.1,1697.6 607.8,1694.2 608.5,1493.7 609.2,1586.2 609.9,1609.2 610.6,1695.9 611.3,1709.1 612,1676.6 612.7,1664.4 613.4,1658.7 614.1,1692.1 614.8,1694.5"/>
<path class="tk" d="M106 1721.8v-8.5M106 1284.3v8.5M176.7 1721.8v-8.5M176.7 1284.3v8.5M247.3 1721.8v-8.5M247.3 1284.3v8.5M318 1721.8v-8.5M318 1284.3v8.5M388.7 1721.8v-8.5M388.7 1284.3v8.5M459.4 1721.8v-8.5M459.4 1284.3v8.5M530 1721.8v-8.5M530 1284.3v8.5M600.7 1721.8v-8.5M600.7 1284.3v8.5M141.3 1721.8v-4.5M141.3 1284.3v4.5M212 1721.8v-4.5M212 1284.3v4.5M282.7 1721.8v-4.5M282.7 1284.3v4.5M353.3 1721.8v-4.5M353.3 1284.3v4.5M424 1721.8v-4.5M424 1284.3v4.5M494.7 1721.8v-4.5M494.7 1284.3v4.5M565.4 1721.8v-4.5M565.4 1284.3v4.5M92.3 1715h8.5M635.2 1715h-8.5M92.3 1643.2h8.5M635.2 1643.2h-8.5M92.3 1571.4h8.5M635.2 1571.4h-8.5M92.3 1499.7h8.5M635.2 1499.7h-8.5M92.3 1427.9h8.5M635.2 1427.9h-8.5M92.3 1356.1h8.5M635.2 1356.1h-8.5M92.3 1679.1h4.5M635.2 1679.1h-4.5M92.3 1607.3h4.5M635.2 1607.3h-4.5M92.3 1535.5h4.5M635.2 1535.5h-4.5M92.3 1463.8h4.5M635.2 1463.8h-4.5M92.3 1392h4.5M635.2 1392h-4.5M92.3 1320.2h4.5M635.2 1320.2h-4.5"/>
<rect class="fr" x="92.3" y="1284.3" width="542.9" height="437.5"/>
<text class="tl" x="106" y="1747.8" text-anchor="middle">0</text>
<text class="tl" x="176.7" y="1747.8" text-anchor="middle">100</text>
<text class="tl" x="247.3" y="1747.8" text-anchor="middle">200</text>
<text class="tl" x="318" y="1747.8" text-anchor="middle">300</text>
<text class="tl" x="388.7" y="1747.8" text-anchor="middle">400</text>
<text class="tl" x="459.4" y="1747.8" text-anchor="middle">500</text>
<text class="tl" x="530" y="1747.8" text-anchor="middle">600</text>
<text class="tl" x="600.7" y="1747.8" text-anchor="middle">700</text>
<text class="tl" x="82.3" y="1723.2" text-anchor="end">0</text>
<text class="tl" x="82.3" y="1651.4" text-anchor="end">1000</text>
<text class="tl" x="82.3" y="1579.6" text-anchor="end">2000</text>
<text class="tl" x="82.3" y="1507.9" text-anchor="end">3000</text>
<text class="tl" x="82.3" y="1436.1" text-anchor="end">4000</text>
<text class="tl" x="82.3" y="1364.3" text-anchor="end">5000</text>
<text class="tl" x="82.3" y="1292.5" text-anchor="end">6000</text>
<text class="at" x="292.5" y="1777.8" textLength="142.5" lengthAdjust="spacingAndGlyphs">Sample number</text>
<text class="at" transform="translate(36.3 1577) rotate(-90)" textLength="149" lengthAdjust="spacingAndGlyphs">Peak stress(kPa)</text>
<path d="M111.5 1313.3h5M149.7 1313.3h5" stroke="#404040" stroke-width="3"/>
<path d="M111.5 1341h5M149.7 1341h5" stroke="#f23a3a" stroke-width="3"/>
<path d="M137.5 1307.3l6 6 -6 6 -6 -6z" fill="none" stroke="#7b00ff" stroke-width="2.5"/>
<circle cx="137.5" cy="1341" r="3.9" fill="none" stroke="#f23a3a" stroke-width="3.6"/>
<text class="lg" x="167.5" y="1320.8" textLength="143.5" lengthAdjust="spacingAndGlyphs">Measured value</text>
<text class="lg" x="167.5" y="1348.5" textLength="145.5" lengthAdjust="spacingAndGlyphs">Predictive value</text>
<text class="cap" x="143.6" y="1855">(e)</text>
<text class="cap" x="208.4" y="1855">PSO training set</text>
<path class="lmf" d="M861.2 1595.1l2.9 16.6l2.9 -25.4l2.9 -20.5l2.9 -52l2.9 -73.4l2.9 86l2.9 148.8l2.9 -184.4l2.9 60.5l2.9 -14.7l2.9 148.3l2.9 -42.9l2.9 -73.2l2.9 40l2.9 39l2.9 -58.6l2.9 103.4l2.9 -58.5l2.9 -9.7l2.9 -8.8l2.9 34.1l2.9 17.5l2.9 -13.7l2.9 -56.5l2.9 -128.7l2.9 83.8l2.9 116.1l2.9 -57.5l2.9 91.7l2.9 -92.7l2.9 13.7l2.9 42.9l2.9 -103.4l2.9 70.2l2.9 -5.8l2.9 35.1l2.9 -83.8l2.9 52.7l2.9 51.7l2.9 -33.1l2.9 -55.7l2.9 64.4l2.9 33.2l2.9 -208.7l2.9 184.3l2.9 -30.2l2.9 41l2.9 -2l2.9 -4.9l2.9 3.9l2.9 -52.7l2.9 -224.4l2.9 132.7l2.9 37.6l2.9 -13.3l2.9 -164.8l2.9 226.2l2.9 39l2.9 -30.2l2.9 51.7l2.9 0l2.9 -24.8l2.9 -65.9l2.9 94.6l2.9 -142.4l2.9 -64.4l2.9 129.8l2.9 80.9l2.9 -18.5l2.9 -20.5l2.9 -59.5l2.9 95.6l2.9 -122.9l2.9 115.1l2.9 -7.8l2.9 -64.4l2.9 78l2.9 12.6l2.9 -8.7l2.9 -26.4l2.9 -40l2.9 56.5l2.9 -33.1l2.9 -8.8l2.9 -10.8l2.9 57.5l2.9 -61.4l2.9 3.8l2.9 -88.7l2.9 1l2.9 -6.8l2.9 148.3l2.9 -371.6l2.9 344.3l2.9 -83.9l2.9 121.9l2.9 -144.4l2.9 144.4l2.9 -240.9l2.9 229.2l2.9 -154.1l2.9 29.3l2.9 -11.7l2.9 113.1l2.9 -93.7l2.9 -64.4l2.9 111.2l2.9 -20.5l2.9 5.8l2.9 -32.2l2.9 129.8l2.9 -22.5l2.9 -180.5l2.9 149.2l2.9 44l2.9 -8.8l2.9 -64.4l2.9 7.8l2.9 38.1l2.9 -85.9l2.9 35.2l2.9 5.8l2.9 68.3l2.9 -14.7l2.9 -71.2l2.9 75.1l2.9 -0.9l2.9 40l2.9 -20.5l2.9 -91.7l2.9 89.7l2.9 -364.2l2.9 359.3l2.9 16.6l2.9 -86.8l2.9 -205.8l2.9 209.7l2.9 -35.1l2.9 119l2.9 8.8l2.9 -9.7l2.9 -72.2l2.9 16.6l2.9 32.2l2.9 -6.8l2.9 -286.8l2.9 305.3l2.9 -320.9l2.9 280l2.9 -168.8l2.9 232.1l2.9 -160.9l2.9 125.8l2.9 -123.9l2.9 129.7l2.9 3.9l2.9 -18.5l2.9 -9.7l2.9 -19.5l2.9 -12.6l2.9 23.4l2.9 -48.7l2.9 -39l2.9 -45.8l2.9 14.6l2.9 100.5l2.9 59.5l2.9 7.8l2.9 9.7l2.9 -8.7l2.9 -142.5l2.9 117.1l2.9 -51.7l2.9 35.1l2.9 35.2l2.9 -22.1l2.9 18.2l2.9 2.2l2.9 0.8"/>
<polyline class="kmf" points="861.2,1595.1 864.1,1611.6 867.1,1586.3 870,1565.8 872.9,1513.7 875.8,1440.3 878.7,1526.3 881.6,1675 884.6,1490.7 887.5,1551.2 890.4,1536.5 893.3,1684.8 896.2,1641.8 899.1,1568.7 902.1,1608.7 905,1647.7 907.9,1589.2 910.8,1692.6 913.7,1634.1 916.6,1624.3 919.6,1615.5 922.5,1649.7 925.4,1667.2 928.3,1653.5 931.2,1597 934.2,1468.3 937.1,1552.1 940,1668.2 942.9,1610.7 945.8,1702.4 948.7,1609.7 951.7,1623.3 954.6,1666.3 957.5,1562.9 960.4,1633 963.3,1627.2 966.2,1662.3 969.2,1578.5 972.1,1631.2 975,1682.8 977.9,1649.7 980.8,1594 983.8,1658.4 986.7,1691.6 989.6,1482.9 992.5,1667.2 995.4,1637 998.3,1678 1001.3,1676 1004.2,1671.1 1007.1,1675 1010,1622.4 1012.9,1398 1015.8,1530.7 1018.8,1568.3 1021.7,1555 1024.6,1390.2 1027.5,1616.5 1030.4,1655.5 1033.3,1625.3 1036.3,1677 1039.2,1677 1042.1,1652.2 1045,1586.3 1047.9,1680.9 1050.9,1538.5 1053.8,1474.1 1056.7,1603.8 1059.6,1684.8 1062.5,1666.3 1065.4,1645.8 1068.4,1586.3 1071.3,1681.9 1074.2,1558.9 1077.1,1674 1080,1666.3 1082.9,1601.9 1085.9,1679.9 1088.8,1692.6 1091.7,1683.8 1094.6,1657.5 1097.5,1617.5 1100.5,1674 1103.4,1640.9 1106.3,1632.1 1109.2,1621.4 1112.1,1678.9 1115,1617.5 1118,1621.3 1120.9,1532.6 1123.8,1533.6 1126.7,1526.8 1129.6,1675 1132.5,1303.4 1135.5,1647.7 1138.4,1563.8 1141.3,1685.7 1144.2,1541.4 1147.1,1685.7 1150,1444.8 1153,1674 1155.9,1519.9 1158.8,1549.2 1161.7,1537.5 1164.6,1650.6 1167.6,1557 1170.5,1492.6 1173.4,1603.8 1176.3,1583.4 1179.2,1589.2 1182.1,1557 1185.1,1686.7 1188,1664.3 1190.9,1483.8 1193.8,1633 1196.7,1677 1199.6,1668.2 1202.6,1603.8 1205.5,1611.6 1208.4,1649.7 1211.3,1563.8 1214.2,1599 1217.2,1604.8 1220.1,1673.1 1223,1658.4 1225.9,1587.2 1228.8,1662.3 1231.7,1661.4 1234.7,1701.3 1237.6,1680.9 1240.5,1589.2 1243.4,1678.9 1246.3,1314.7 1249.2,1674 1252.2,1690.7 1255.1,1603.8 1258,1398 1260.9,1607.7 1263.8,1572.6 1266.8,1691.6 1269.7,1700.4 1272.6,1690.7 1275.5,1618.4 1278.4,1635 1281.3,1667.2 1284.3,1660.4 1287.2,1373.6 1290.1,1678.9 1293,1358 1295.9,1638 1298.8,1469.2 1301.8,1701.3 1304.7,1540.4 1307.6,1666.3 1310.5,1542.4 1313.4,1672.1 1316.3,1676 1319.3,1657.5 1322.2,1647.7 1325.1,1628.2 1328,1615.5 1330.9,1638.9 1333.9,1590.2 1336.8,1551.2 1339.7,1505.3 1342.6,1519.9 1345.5,1620.4 1348.4,1679.9 1351.4,1687.7 1354.3,1697.4 1357.2,1688.7 1360.1,1546.2 1363,1663.4 1365.9,1611.6 1368.9,1646.7 1371.8,1681.9 1374.7,1659.7 1377.6,1678 1380.5,1680.2 1383.4,1680.9"/>
<path class="lpf" d="M861.2 1597l2.9 14.6l2.9 -25.4l2.9 -20.5l2.9 -43.9l2.9 -79l2.9 84.9l2.9 147.3l2.9 -184.4l2.9 60.1l2.9 -8.4l2.9 142.4l2.9 -50.7l2.9 -65.4l2.9 40l2.9 25.4l2.9 -44.9l2.9 103.4l2.9 -58.5l2.9 -9.7l2.9 -8.8l2.9 45.8l2.9 5.8l2.9 -13.7l2.9 -56.5l2.9 -132.7l2.9 83.8l2.9 120l2.9 -57.5l2.9 99.5l2.9 -88.8l2.9 2l2.9 42.9l2.9 -96.6l2.9 63.3l2.9 -5.8l2.9 35.1l2.9 -83.8l2.9 52.7l2.9 51.7l2.9 -33.1l2.9 -55.7l2.9 59.5l2.9 34.1l2.9 -202.8l2.9 182.4l2.9 -30.2l2.9 55.6l2.9 -16.6l2.9 -19.5l2.9 18.5l2.9 -52.7l2.9 -224.4l2.9 135.2l2.9 35.1l2.9 -17.5l2.9 -160.5l2.9 226.2l2.9 39l2.9 -30.2l2.9 51.7l2.9 0l2.9 -24.8l2.9 -80.5l2.9 109.2l2.9 -142.4l2.9 -59.5l2.9 124.9l2.9 80.9l2.9 -18.5l2.9 -20.5l2.9 -59.5l2.9 95.6l2.9 -134.6l2.9 126.8l2.9 -7.8l2.9 -64.4l2.9 78l2.9 3.9l2.9 0l2.9 -38.1l2.9 -24.4l2.9 52.7l2.9 -33.1l2.9 -8.8l2.9 -10.8l2.9 57.5l2.9 -61.4l2.9 3.8l2.9 -55.5l2.9 -39l2.9 0l2.9 148.3l2.9 -365.8l2.9 246.8l2.9 58.5l2.9 71.2l2.9 -174.6l2.9 174.6l2.9 -239l2.9 227.3l2.9 -154.1l2.9 29.3l2.9 -11.7l2.9 113.1l2.9 -103.4l2.9 -45.8l2.9 98.5l2.9 -16.6l2.9 5.8l2.9 -22.5l2.9 120l2.9 -22.5l2.9 -180.5l2.9 156.1l2.9 37.1l2.9 -8.8l2.9 -64.4l2.9 7.8l2.9 38.1l2.9 -85.9l2.9 35.2l2.9 -2l2.9 76.1l2.9 -14.7l2.9 -64.4l2.9 68.3l2.9 -0.9l2.9 42.9l2.9 -23.4l2.9 -91.7l2.9 89.7l2.9 -358.4l2.9 353.5l2.9 5.9l2.9 -76.1l2.9 -201.9l2.9 205.7l2.9 -33.1l2.9 117l2.9 8.8l2.9 -9.7l2.9 -72.2l2.9 16.6l2.9 24.4l2.9 0.9l2.9 -287.7l2.9 306.2l2.9 -320.9l2.9 280l2.9 -165.9l2.9 223.4l2.9 -155.1l2.9 125.8l2.9 -123.9l2.9 129.7l2.9 3.9l2.9 -18.5l2.9 -9.7l2.9 -19.5l2.9 -12.6l2.9 31.2l2.9 -75l2.9 -20.5l2.9 -48.8l2.9 17.6l2.9 100.5l2.9 59.5l2.9 7.8l2.9 9.7l2.9 -8.7l2.9 -147.3l2.9 122l2.9 -51.7l2.9 35.1l2.9 35.2l2.9 -29.3l2.9 25.4l2.9 8.5l2.9 -0.8"/>
<polyline class="kpf" points="861.2,1597 864.1,1611.6 867.1,1586.3 870,1565.8 872.9,1521.9 875.8,1442.8 878.7,1527.8 881.6,1675 884.6,1490.7 887.5,1550.8 890.4,1542.4 893.3,1684.8 896.2,1634.1 899.1,1568.7 902.1,1608.7 905,1634.1 907.9,1589.2 910.8,1692.6 913.7,1634.1 916.6,1624.3 919.6,1615.5 922.5,1661.4 925.4,1667.2 928.3,1653.5 931.2,1597 934.2,1464.4 937.1,1548.2 940,1668.2 942.9,1610.7 945.8,1710.1 948.7,1621.4 951.7,1623.3 954.6,1666.3 957.5,1569.7 960.4,1633 963.3,1627.2 966.2,1662.3 969.2,1578.5 972.1,1631.2 975,1682.8 977.9,1649.7 980.8,1594 983.8,1653.5 986.7,1687.7 989.6,1484.8 992.5,1667.2 995.4,1637 998.3,1692.6 1001.3,1676 1004.2,1656.5 1007.1,1675 1010,1622.4 1012.9,1398 1015.8,1533.2 1018.8,1568.3 1021.7,1550.8 1024.6,1390.2 1027.5,1616.5 1030.4,1655.5 1033.3,1625.3 1036.3,1677 1039.2,1677 1042.1,1652.2 1045,1571.7 1047.9,1680.9 1050.9,1538.5 1053.8,1479 1056.7,1603.8 1059.6,1684.8 1062.5,1666.3 1065.4,1645.8 1068.4,1586.3 1071.3,1681.9 1074.2,1547.2 1077.1,1674 1080,1666.3 1082.9,1601.9 1085.9,1679.9 1088.8,1683.8 1091.7,1683.8 1094.6,1645.8 1097.5,1621.4 1100.5,1674 1103.4,1640.9 1106.3,1632.1 1109.2,1621.4 1112.1,1678.9 1115,1617.5 1118,1621.3 1120.9,1565.8 1123.8,1526.8 1126.7,1526.8 1129.6,1675 1132.5,1309.2 1135.5,1556 1138.4,1614.5 1141.3,1685.7 1144.2,1511.1 1147.1,1685.7 1150,1446.8 1153,1674 1155.9,1519.9 1158.8,1549.2 1161.7,1537.5 1164.6,1650.6 1167.6,1547.2 1170.5,1501.4 1173.4,1599.9 1176.3,1583.4 1179.2,1589.2 1182.1,1566.7 1185.1,1686.7 1188,1664.3 1190.9,1483.8 1193.8,1639.9 1196.7,1677 1199.6,1668.2 1202.6,1603.8 1205.5,1611.6 1208.4,1649.7 1211.3,1563.8 1214.2,1599 1217.2,1597 1220.1,1673.1 1223,1658.4 1225.9,1594 1228.8,1662.3 1231.7,1661.4 1234.7,1704.2 1237.6,1680.9 1240.5,1589.2 1243.4,1678.9 1246.3,1320.5 1249.2,1674 1252.2,1679.9 1255.1,1603.8 1258,1401.9 1260.9,1607.7 1263.8,1574.6 1266.8,1691.6 1269.7,1700.4 1272.6,1690.7 1275.5,1618.4 1278.4,1635 1281.3,1659.4 1284.3,1660.4 1287.2,1372.7 1290.1,1678.9 1293,1358 1295.9,1638 1298.8,1472.1 1301.8,1695.5 1304.7,1540.4 1307.6,1666.3 1310.5,1542.4 1313.4,1672.1 1316.3,1676 1319.3,1657.5 1322.2,1647.7 1325.1,1628.2 1328,1615.5 1330.9,1646.7 1333.9,1571.7 1336.8,1551.2 1339.7,1502.3 1342.6,1519.9 1345.5,1620.4 1348.4,1679.9 1351.4,1687.7 1354.3,1697.4 1357.2,1688.7 1360.1,1541.4 1363,1663.4 1365.9,1611.6 1368.9,1646.7 1371.8,1681.9 1374.7,1652.6 1377.6,1678 1380.5,1686.4 1383.4,1685.6"/>
<path class="tk" d="M858.3 1718.9v-8.5M858.3 1271.7v8.5M916.6 1718.9v-8.5M916.6 1271.7v8.5M975 1718.9v-8.5M975 1271.7v8.5M1033.3 1718.9v-8.5M1033.3 1271.7v8.5M1091.7 1718.9v-8.5M1091.7 1271.7v8.5M1150 1718.9v-8.5M1150 1271.7v8.5M1208.4 1718.9v-8.5M1208.4 1271.7v8.5M1266.8 1718.9v-8.5M1266.8 1271.7v8.5M1325.1 1718.9v-8.5M1325.1 1271.7v8.5M1383.4 1718.9v-8.5M1383.4 1271.7v8.5M887.5 1718.9v-4.5M887.5 1271.7v4.5M945.8 1718.9v-4.5M945.8 1271.7v4.5M1004.2 1718.9v-4.5M1004.2 1271.7v4.5M1062.5 1718.9v-4.5M1062.5 1271.7v4.5M1120.9 1718.9v-4.5M1120.9 1271.7v4.5M1179.2 1718.9v-4.5M1179.2 1271.7v4.5M1237.6 1718.9v-4.5M1237.6 1271.7v4.5M1295.9 1718.9v-4.5M1295.9 1271.7v4.5M1354.3 1718.9v-4.5M1354.3 1271.7v4.5M843.6 1703.7h8.5M1398.3 1703.7h-8.5M843.6 1625.2h8.5M1398.3 1625.2h-8.5M843.6 1546.7h8.5M1398.3 1546.7h-8.5M843.6 1468.2h8.5M1398.3 1468.2h-8.5M843.6 1389.7h8.5M1398.3 1389.7h-8.5M843.6 1311.2h8.5M1398.3 1311.2h-8.5M843.6 1664.5h4.5M1398.3 1664.5h-4.5M843.6 1586h4.5M1398.3 1586h-4.5M843.6 1507.5h4.5M1398.3 1507.5h-4.5M843.6 1429h4.5M1398.3 1429h-4.5M843.6 1350.5h4.5M1398.3 1350.5h-4.5"/>
<rect class="fr" x="843.6" y="1271.7" width="554.7" height="447.2"/>
<text class="tl" x="858.3" y="1744.9" text-anchor="middle">0</text>
<text class="tl" x="916.6" y="1744.9" text-anchor="middle">20</text>
<text class="tl" x="975" y="1744.9" text-anchor="middle">40</text>
<text class="tl" x="1033.3" y="1744.9" text-anchor="middle">60</text>
<text class="tl" x="1091.7" y="1744.9" text-anchor="middle">80</text>
<text class="tl" x="1150" y="1744.9" text-anchor="middle">100</text>
<text class="tl" x="1208.4" y="1744.9" text-anchor="middle">120</text>
<text class="tl" x="1266.8" y="1744.9" text-anchor="middle">140</text>
<text class="tl" x="1325.1" y="1744.9" text-anchor="middle">160</text>
<text class="tl" x="1383.4" y="1744.9" text-anchor="middle">180</text>
<text class="tl" x="833.6" y="1711.9" text-anchor="end">0</text>
<text class="tl" x="833.6" y="1633.4" text-anchor="end">1000</text>
<text class="tl" x="833.6" y="1554.9" text-anchor="end">2000</text>
<text class="tl" x="833.6" y="1476.4" text-anchor="end">3000</text>
<text class="tl" x="833.6" y="1397.9" text-anchor="end">4000</text>
<text class="tl" x="833.6" y="1319.4" text-anchor="end">5000</text>
<text class="at" x="1047.3" y="1776.6" textLength="147" lengthAdjust="spacingAndGlyphs">Sample number</text>
<text class="at" transform="translate(786.5 1571.4) rotate(-90)" textLength="151" lengthAdjust="spacingAndGlyphs">Peak stress(kPa)</text>
<path d="M872.7 1308.7h5M911.7 1308.7h5" stroke="#404040" stroke-width="3"/>
<path d="M872.7 1337h5M911.7 1337h5" stroke="#ff3030" stroke-width="3"/>
<path d="M899.2 1303l5.7 5.7 -5.7 5.7 -5.7 -5.7z" fill="none" stroke="#7b00ff" stroke-width="2.5"/>
<circle cx="899.2" cy="1337" r="3.6" fill="none" stroke="#ff3030" stroke-width="2.8"/>
<text class="lg" x="929.5" y="1316.2" textLength="147.5" lengthAdjust="spacingAndGlyphs">Measured value</text>
<text class="lg" x="929.5" y="1344.5" textLength="149.5" lengthAdjust="spacingAndGlyphs">Predictive value</text>
<text class="cap" x="942.8" y="1855.3">(f)</text>
<text class="cap" x="1008.2" y="1855.3">PSO test set</text>
<path class="lmg" d="M100.7 2192.5l0.7 90.1l0.7 38.6l0.7 -242.6l0.7 122.3l0.7 0.9l0.7 94.4l0.7 -92.8l0.7 89.6l0.7 26.5l0.7 17.3l0.7 -76.3l0.7 30l0.7 -232.7l0.7 213.3l0.7 -68l0.7 60.8l0.7 63.5l0.7 11.2l0.7 -16.4l0.7 14.3l0.7 -208.9l0.7 154.7l0.7 53.4l0.7 -46.4l0.7 -230.1l0.7 241l0.7 -67.6l0.7 35.5l0.7 68.2l0.7 -55.1l0.7 30.6l0.7 9.5l0.7 -40.8l0.7 -3.1l0.7 -134.2l0.7 103.5l0.7 34.2l0.7 -115.5l0.7 47.2l0.7 29.7l0.7 75.6l0.7 -115.9l0.7 129l0.7 -0.7l0.7 -23.5l0.7 -123l0.7 111.8l0.7 -152.5l0.7 13.5l0.7 84.4l0.7 99.3l0.7 -28.8l0.7 26.6l0.7 -30.1l0.7 12.5l0.7 -45.6l0.7 47.6l0.7 -190.9l0.7 184.5l0.7 9.9l0.7 -70.6l0.7 53.1l0.7 11.9l0.7 -244l0.7 223.8l0.7 -28.5l0.7 35.5l0.7 -26.4l0.7 -9.1l0.7 -24.5l0.7 -12.5l0.7 82.1l0.7 -182.2l0.7 127.8l0.7 -28.8l0.7 48.6l0.7 36.4l0.7 3.8l0.7 -11.1l0.7 21.1l0.7 -5.8l0.7 -7.1l0.7 -10.7l0.7 -78.9l0.7 90.6l0.7 5.3l0.7 -200.9l0.7 191.8l0.7 -24.3l0.7 33.7l0.7 9.3l0.7 -11.3l0.7 -122.2l0.7 77.7l0.7 -107.3l0.7 -32l0.7 76.3l0.7 27.7l0.7 39.5l0.7 -111l0.7 135.5l0.7 -118.9l0.7 119.3l0.7 -9.7l0.7 -25.9l0.7 25.7l0.7 32.9l0.7 -25.3l0.7 -34l0.7 15.8l0.7 17.7l0.7 -7.9l0.7 -3.2l0.7 12.1l0.7 13.8l0.7 -78.9l0.7 97.6l0.7 -130.3l0.7 84.4l0.7 -8.4l0.7 15l0.7 -255.7l0.7 212.6l0.7 10.9l0.7 62.2l0.7 -7l0.7 -100l0.7 57.6l0.7 -15.1l0.7 73.8l0.7 -24.3l0.7 -35.7l0.7 -184.8l0.7 95l0.7 119.9l0.7 28.9l0.7 -372.2l0.7 359l0.7 2.8l0.7 3.2l0.7 -19.2l0.7 -6.6l0.7 1.2l0.7 -17.3l0.7 32.6l0.7 -25l0.7 -20.5l0.7 -1.5l0.7 58.6l0.7 -74.3l0.7 30.4l0.7 17.1l0.7 14.6l0.7 -14.8l0.7 -25.7l0.7 14.7l0.7 -25.1l0.7 -38.1l0.7 78.5l0.7 27.2l0.7 -122.4l0.7 107l0.7 -142.8l0.7 56.7l0.7 46.1l0.7 16.7l0.7 -208.1l0.7 228.5l0.7 -56.1l0.7 -25.7l0.7 84.7l0.7 -54.2l0.7 -44.6l0.7 32.9l0.7 -100.3l0.7 147.4l0.7 12.7l0.7 -311.1l0.7 333.2l0.7 -40.4l0.7 17.2l0.7 -31.8l0.7 -113.6l0.7 127l0.7 8.6l0.7 19.4l0.7 -82.9l0.7 57.8l0.7 -3.9l0.7 -70.6l0.7 29.9l0.7 26.6l0.7 -112.3l0.7 76.6l0.7 71.4l0.7 -15.7l0.7 -32.3l0.7 -75.8l0.7 53.3l0.7 23.1l0.7 -0.5l0.7 23.2l0.7 -62.3l0.7 -36.7l0.7 119.1l0.7 -102.5l0.7 30.7l0.7 -35.8l0.7 76.5l0.7 35l0.7 -93.7l0.7 -11.4l0.7 30.6l0.7 99.2l0.7 -289.4l0.7 234.9l0.7 -67.7l0.7 71.5l0.7 7.6l0.7 -267.7l0.7 129.2l0.7 165.3l0.7 -28.8l0.7 26.3l0.7 -58.4l0.7 44.2l0.7 -127.4l0.7 72l0.7 -145.4l0.7 184.7l0.7 43.7l0.7 -49.1l0.7 16.3l0.7 36.7l0.7 -179l0.7 117.7l0.7 35.3l0.7 -13.9l0.7 19.4l0.7 -205.1l0.7 223.2l0.7 -103.5l0.7 35.5l0.7 -122.2l0.7 164.5l0.7 -103.2l0.7 -24.1l0.7 110.2l0.7 30.1l0.7 -44.5l0.7 -60.1l0.7 79.3l0.7 14.8l0.7 15l0.7 -174.3l0.7 167.2l0.7 -145.9l0.7 156.8l0.7 -36.4l0.7 33.1l0.7 -164.2l0.7 86.8l0.7 16.2l0.7 -28l0.7 72.5l0.7 -98.9l0.7 99.3l0.7 -107.7l0.7 93.8l0.7 -51.3l0.7 -108l0.7 159.8l0.7 15.9l0.7 -76.3l0.7 62.6l0.7 -85.2l0.7 64.9l0.7 -27.5l0.7 56.3l0.7 -0.5l0.7 -138.1l0.7 86.9l0.7 -120.8l0.7 180.5l0.7 -18.3l0.7 -45.4l0.7 -27.8l0.7 -105.5l0.7 147.2l0.7 9.6l0.7 47.8l0.7 10.7l0.7 -21.1l0.7 -66.2l0.7 81.2l0.7 -31.8l0.7 0.7l0.7 -96.2l0.7 -19.8l0.7 83.9l0.7 43.4l0.7 -10l0.7 -186l0.7 172.6l0.7 -43.9l0.7 20.6l0.7 32.5l0.7 -152.9l0.7 179.2l0.7 -10.5l0.7 -13.9l0.7 -9.1l0.7 -123l0.7 -129.2l0.7 195.5l0.7 18.1l0.7 4.5l0.7 52.1l0.7 28.6l0.7 -40.5l0.7 -18l0.7 -8.7l0.7 9.7l0.7 10.4l0.7 20.5l0.7 15.2l0.7 12.5l0.7 -59.7l0.7 44.9l0.7 -11.6l0.7 4.6l0.7 -17.3l0.7 -9.8l0.7 7.5l0.7 -87.4l0.7 105.1l0.7 -130.1l0.7 130.6l0.7 -25.7l0.7 33.1l0.7 -43.9l0.7 60.5l0.7 -133l0.7 -100.2l0.7 173.2l0.7 -37.5l0.7 46.5l0.7 -80.1l0.7 48.4l0.7 36.3l0.7 33.6l0.7 -62.8l0.7 54.5l0.7 4.5l0.7 -72.5l0.7 65.4l0.7 -27.8l0.7 30.6l0.7 -24.8l0.7 15.4l0.7 -110.1l0.7 104.9l0.7 -54.3l0.7 -268.4l0.7 274.1l0.7 39.1l0.7 -11.1l0.7 -32.1l0.7 51.1l0.7 -127.7l0.7 69.3l0.7 15.5l0.7 -88.3l0.7 145.3l0.7 -79.2l0.7 -67l0.7 153l0.7 3.6l0.7 -43.3l0.7 -14.4l0.7 37.5l0.7 17.5l0.7 -16.5l0.7 24.9l0.7 -7.5l0.7 0.2l0.7 2.1l0.7 -35.9l0.7 -231.7l0.7 215.7l0.7 -81.2l0.7 99.2l0.7 -74.3l0.7 97.5l0.7 -182.4l0.7 69.7l0.7 134.2l0.7 -77l0.7 60.2l0.7 -37.9l0.7 22.9l0.7 -141.9l0.7 110.5l0.7 -125l0.7 181.9l0.7 -49l0.7 -81.7l0.7 35.8l0.7 81.9l0.7 -93l0.7 -120.4l0.7 100.8l0.7 82.2l0.7 -41l0.7 5.2l0.7 42.5l0.7 -35.2l0.7 18.1l0.7 63.3l0.7 -82.5l0.7 -35.4l0.7 94.2l0.7 -14.2l0.7 -37.4l0.7 26.4l0.7 29.1l0.7 13.8l0.7 0.6l0.7 -30.8l0.7 -15.1l0.7 -200l0.7 51.3l0.7 137.7l0.7 -18.9l0.7 59.5l0.7 -14.3l0.7 -47.4l0.7 -115.5l0.7 184.1l0.7 14.7l0.7 -16l0.7 -101.3l0.7 118.6l0.7 -35.1l0.7 35.4l0.7 -16.3l0.7 -36.7l0.7 25.1l0.7 -0.9l0.7 -23.3l0.7 27.1l0.7 -176.3l0.7 185.9l0.7 -136l0.7 -39.2l0.7 172.9l0.7 5.5l0.7 -109l0.7 100.5l0.7 -254.1l0.7 269.5l0.7 -91.6l0.7 -198.8l0.7 265.4l0.7 -59.9l0.7 65.4l0.7 -47l0.7 65.7l0.7 -18l0.7 -69.9l0.7 19l0.7 4.7l0.7 -59.9l0.7 53.3l0.7 69.1l0.7 0.7l0.7 -102.6l0.7 5.5l0.7 97.4l0.7 -23.8l0.7 -4.9l0.7 -0.1l0.7 -64.8l0.7 36.7l0.7 50.4l0.7 -5.7l0.7 -110.1l0.7 -88.8l0.7 189.1l0.7 -107.3l0.7 11.9l0.7 115l0.7 -87.2l0.7 66.4l0.7 -8.9l0.7 -60.5l0.7 72.8l0.7 -102l0.7 81.5l0.7 -3.8l0.7 4.9l0.7 -67.4l0.7 -11.8l0.7 -47.7l0.7 143.3l0.7 -135.1l0.7 129.2l0.7 -36.4l0.7 -30.9l0.7 83.3l0.7 11.7l0.7 -14.3l0.7 -16.6l0.7 -45.1l0.7 57.3l0.7 -66.5l0.7 -11.5l0.7 32.1l0.7 -5.2l0.7 -44l0.7 120.2l0.7 -305.1l0.7 234.7l0.7 29.7l0.7 0.3l0.7 -126.5l0.7 120.7l0.7 31.3l0.7 -99.7l0.7 -29.3l0.7 -25.6l0.7 -119.7l0.7 243l0.7 -23.6l0.7 -8.5l0.7 -61.8l0.7 -76.4l0.7 87.1l0.7 112.9l0.7 -13.5l0.7 -51.4l0.7 52.6l0.7 -36.3l0.7 56.2l0.7 -10.6l0.7 -60.6l0.7 80.5l0.7 -57.3l0.7 45.9l0.7 -15.8l0.7 -36.5l0.7 -134.9l0.7 164.1l0.7 11.1l0.7 -34.4l0.7 20.1l0.7 -83.8l0.7 77l0.7 18.9l0.7 -83.3l0.7 72.7l0.7 -24.1l0.7 32.7l0.7 24.7l0.7 -61l0.7 -32.5l0.7 22.9l0.7 -109.4l0.7 165.3l0.7 -149.8l0.7 133.2l0.7 -10.5l0.7 -23.4l0.7 -56.4l0.7 54.8l0.7 53.1l0.7 -60.7l0.7 27.4l0.7 -181.5l0.7 146.2l0.7 -40.1l0.7 -43.2l0.7 109.6l0.7 20.5l0.7 -73.2l0.7 93.2l0.7 -79.8l0.7 -138l0.7 229.5l0.7 -92l0.7 66.1l0.7 -241.8l0.7 145.9l0.7 94.9l0.7 -288.4l0.7 275.1l0.7 -15.4l0.7 38.8l0.7 -5.1l0.7 22l0.7 -30.6l0.7 35.6l0.7 -229.8l0.7 138l0.7 -4.2l0.7 20.2l0.7 13.1l0.7 58l0.7 -21.2l0.7 27.2l0.7 -126.1l0.7 53.2l0.7 49.2l0.7 -0.4l0.7 14.7l0.7 -53l0.7 0.4l0.7 -143.9l0.7 -45.5l0.7 192l0.7 -4.3l0.7 12.4l0.7 -102.5l0.7 106.3l0.7 -54.1l0.7 57.4l0.7 -304.9l0.7 327.9l0.7 1.2l0.7 -56.5l0.7 73.6l0.7 -66.9l0.7 4.8l0.7 37l0.7 -68.8l0.7 -31.6l0.7 8.3l0.7 81.7l0.7 39.6l0.7 -200.1l0.7 151.5l0.7 20l0.7 -86.8l0.7 84.7l0.7 -19l0.7 -8.4l0.7 39.9l0.7 -26l0.7 -28.7l0.7 -8.9l0.7 62.1l0.7 -69.4l0.7 -36.7l0.7 103.8l0.7 -22.3l0.7 -41.5l0.7 28.8l0.7 -179.9l0.7 6.8l0.7 200l0.7 27.7l0.7 -30.2l0.7 -51l0.7 -2.4l0.7 22.5l0.7 29.2l0.7 -95.6l0.7 119.1l0.7 -19.8l0.7 -28.7l0.7 36.7l0.7 -21.3l0.7 -10l0.7 27.1l0.7 -63l0.7 -8.4l0.7 15.7l0.7 27.8l0.7 26.3l0.7 -48.6l0.7 -26.7l0.7 75.7l0.7 -7.6l0.7 5.4l0.7 -35.7l0.7 38.9l0.7 -29.2l0.7 -107.1l0.7 -62l0.7 41.7l0.7 92.4l0.7 65.6l0.7 -34.6l0.7 30.2l0.7 26.5l0.7 -129.9l0.7 15.1l0.7 73.2l0.7 3l0.7 25.1l0.7 0.6l0.7 -33.7l0.7 22.7l0.7 22.8l0.7 -69.1l0.7 66.9l0.7 -39.7l0.7 21.9l0.7 -44.1l0.7 -48.8l0.7 -54.6l0.7 132.1l0.7 23.8l0.7 -56.4l0.7 51.9l0.7 -113.5l0.7 79.3l0.7 0.3l0.7 34.1"/>
<polyline class="kmg" points="100.7,2192.5 101.4,2282.6 102.1,2321.2 102.8,2078.6 103.5,2200.9 104.2,2201.9 104.9,2296.3 105.6,2203.5 106.3,2293.1 107,2319.6 107.7,2336.9 108.4,2260.6 109.1,2290.6 109.9,2057.9 110.6,2271.2 111.3,2203.2 112,2263.9 112.7,2327.4 113.4,2338.6 114.1,2322.2 114.8,2336.5 115.5,2127.6 116.2,2282.3 116.9,2335.8 117.6,2289.3 118.3,2059.2 119,2300.2 119.7,2232.6 120.4,2268.1 121.1,2336.2 121.8,2281.1 122.5,2311.7 123.2,2321.2 123.9,2280.4 124.6,2277.3 125.3,2143.1 126,2246.6 126.7,2280.8 127.4,2165.4 128.1,2212.5 128.8,2242.2 129.6,2317.8 130.3,2201.9 131,2330.9 131.7,2330.2 132.4,2306.8 133.1,2183.8 133.8,2295.6 134.5,2143.1 135.2,2156.6 135.9,2241 136.6,2340.3 137.3,2311.5 138,2338.1 138.7,2308 139.4,2320.4 140.1,2274.8 140.8,2322.4 141.5,2131.5 142.2,2316 142.9,2325.9 143.6,2255.3 144.3,2308.4 145,2320.3 145.7,2076.3 146.4,2300.1 147.1,2271.5 147.8,2307 148.5,2280.6 149.3,2271.6 150,2247.1 150.7,2234.6 151.4,2316.7 152.1,2134.4 152.8,2262.2 153.5,2233.5 154.2,2282 154.9,2318.4 155.6,2322.2 156.3,2311.1 157,2332.2 157.7,2326.4 158.4,2319.3 159.1,2308.6 159.8,2229.7 160.5,2320.3 161.2,2325.6 161.9,2124.7 162.6,2316.5 163.3,2292.3 164,2325.9 164.7,2335.3 165.4,2324 166.1,2201.7 166.8,2279.5 167.5,2172.2 168.2,2140.2 169,2216.5 169.7,2244.2 170.4,2283.7 171.1,2172.7 171.8,2308.2 172.5,2189.3 173.2,2308.6 173.9,2298.9 174.6,2273 175.3,2298.7 176,2331.7 176.7,2306.4 177.4,2272.4 178.1,2288.2 178.8,2305.9 179.5,2298 180.2,2294.8 180.9,2306.9 181.6,2320.7 182.3,2241.8 183,2339.4 183.7,2209.1 184.4,2293.4 185.1,2285.1 185.8,2300.1 186.5,2044.3 187.2,2257 187.9,2267.9 188.7,2330 189.4,2323 190.1,2223 190.8,2280.7 191.5,2265.6 192.2,2339.4 192.9,2315.1 193.6,2279.4 194.3,2094.7 195,2189.7 195.7,2309.6 196.4,2338.5 197.1,1966.2 197.8,2325.2 198.5,2328 199.2,2331.2 199.9,2312 200.6,2305.4 201.3,2306.6 202,2289.4 202.7,2321.9 203.4,2297 204.1,2276.4 204.8,2274.9 205.5,2333.6 206.2,2259.3 206.9,2289.6 207.7,2306.7 208.4,2321.3 209.1,2306.6 209.8,2280.9 210.5,2295.5 211.2,2270.5 211.9,2232.4 212.6,2310.9 213.3,2338.2 214,2215.7 214.7,2322.8 215.4,2179.9 216.1,2236.6 216.8,2282.7 217.5,2299.4 218.2,2091.4 218.9,2319.8 219.6,2263.8 220.3,2238.1 221,2322.8 221.7,2268.6 222.4,2224 223.1,2256.9 223.8,2156.6 224.5,2304 225.2,2316.7 225.9,2005.6 226.6,2338.8 227.4,2298.4 228.1,2315.5 228.8,2283.7 229.5,2170.1 230.2,2297.1 230.9,2305.6 231.6,2325 232.3,2242 233,2299.8 233.7,2295.9 234.4,2225.3 235.1,2255.2 235.8,2281.8 236.5,2169.5 237.2,2246 237.9,2317.5 238.6,2301.8 239.3,2269.5 240,2193.7 240.7,2246.9 241.4,2270 242.1,2269.5 242.8,2292.7 243.5,2230.3 244.2,2193.6 244.9,2312.7 245.6,2210.2 246.3,2240.9 247.1,2205 247.8,2281.5 248.5,2316.5 249.2,2222.8 249.9,2211.3 250.6,2241.9 251.3,2341.1 252,2051.7 252.7,2286.6 253.4,2218.9 254.1,2290.4 254.8,2298 255.5,2030.3 256.2,2159.6 256.9,2324.9 257.6,2296.1 258.3,2322.3 259,2263.9 259.7,2308.1 260.4,2180.7 261.1,2252.7 261.8,2107.2 262.5,2292 263.2,2335.7 263.9,2286.6 264.6,2302.9 265.3,2339.5 266,2160.6 266.8,2278.3 267.5,2313.5 268.2,2299.7 268.9,2319.1 269.6,2114 270.3,2337.2 271,2233.7 271.7,2269.2 272.4,2147 273.1,2311.5 273.8,2208.3 274.5,2184.2 275.2,2294.4 275.9,2324.5 276.6,2280 277.3,2219.9 278,2299.2 278.7,2314 279.4,2329 280.1,2154.7 280.8,2321.9 281.5,2176 282.2,2332.8 282.9,2296.4 283.6,2329.5 284.3,2165.4 285,2252.2 285.8,2268.4 286.5,2240.4 287.2,2312.9 287.9,2214 288.6,2313.4 289.3,2205.7 290,2299.5 290.7,2248.2 291.4,2140.2 292.1,2300 292.8,2315.9 293.5,2239.7 294.2,2302.3 294.9,2217.1 295.6,2282 296.3,2254.5 297,2310.8 297.7,2310.3 298.4,2172.2 299.1,2259.1 299.8,2138.3 300.5,2318.8 301.2,2300.5 301.9,2255.1 302.6,2227.4 303.3,2121.8 304,2269 304.7,2278.6 305.5,2326.3 306.2,2337 306.9,2316 307.6,2249.7 308.3,2331 309,2299.2 309.7,2299.8 310.4,2203.6 311.1,2183.8 311.8,2267.7 312.5,2311.1 313.2,2301.1 313.9,2115 314.6,2287.7 315.3,2243.8 316,2264.4 316.7,2296.9 317.4,2144.1 318.1,2323.3 318.8,2312.8 319.5,2298.9 320.2,2289.7 320.9,2166.8 321.6,2037.6 322.3,2233 323,2251.1 323.7,2255.6 324.4,2307.7 325.2,2336.3 325.9,2295.9 326.6,2277.8 327.3,2269.2 328,2278.9 328.7,2289.3 329.4,2309.8 330.1,2325 330.8,2337.5 331.5,2277.8 332.2,2322.7 332.9,2311.1 333.6,2315.7 334.3,2298.4 335,2288.6 335.7,2296.2 336.4,2208.8 337.1,2313.9 337.8,2183.8 338.5,2314.4 339.2,2288.8 339.9,2321.8 340.6,2277.9 341.3,2338.5 342,2205.5 342.7,2105.3 343.4,2278.5 344.1,2241 344.9,2287.5 345.6,2207.4 346.3,2255.7 347,2292 347.7,2325.6 348.4,2262.8 349.1,2317.4 349.8,2321.9 350.5,2249.4 351.2,2314.8 351.9,2287 352.6,2317.6 353.3,2292.9 354,2308.3 354.7,2198.2 355.4,2303.1 356.1,2248.8 356.8,1980.4 357.5,2254.5 358.2,2293.6 358.9,2282.5 359.6,2250.4 360.3,2301.4 361,2173.7 361.7,2243.1 362.4,2258.5 363.1,2170.2 363.9,2315.5 364.6,2236.3 365.3,2169.3 366,2322.3 366.7,2325.9 367.4,2282.6 368.1,2268.2 368.8,2305.7 369.5,2323.3 370.2,2306.8 370.9,2331.7 371.6,2324.2 372.3,2324.4 373,2326.4 373.7,2290.5 374.4,2058.9 375.1,2274.5 375.8,2193.4 376.5,2292.6 377.2,2218.3 377.9,2315.8 378.6,2133.4 379.3,2203.1 380,2337.3 380.7,2260.3 381.4,2320.5 382.1,2282.5 382.8,2305.4 383.6,2163.4 384.3,2274 385,2148.9 385.7,2330.9 386.4,2281.8 387.1,2200.1 387.8,2236 388.5,2317.8 389.2,2224.8 389.9,2104.4 390.6,2205.2 391.3,2287.4 392,2246.4 392.7,2251.6 393.4,2294 394.1,2258.8 394.8,2277 395.5,2340.3 396.2,2257.8 396.9,2222.4 397.6,2316.6 398.3,2302.4 399,2264.9 399.7,2291.3 400.4,2320.4 401.1,2334.2 401.8,2334.8 402.5,2304 403.3,2288.9 404,2088.9 404.7,2140.2 405.4,2277.9 406.1,2259 406.8,2318.5 407.5,2304.1 408.2,2256.7 408.9,2141.2 409.6,2325.3 410.3,2340 411,2323.9 411.7,2222.6 412.4,2341.2 413.1,2306.1 413.8,2341.5 414.5,2325.2 415.2,2288.5 415.9,2313.6 416.6,2312.7 417.3,2289.4 418,2316.5 418.7,2140.2 419.4,2326.1 420.1,2190.1 420.8,2150.9 421.5,2323.7 422.2,2329.2 423,2220.2 423.7,2320.7 424.4,2066.6 425.1,2336.1 425.8,2244.5 426.5,2045.7 427.2,2311.1 427.9,2251.2 428.6,2316.6 429.3,2269.6 430,2335.3 430.7,2317.4 431.4,2247.5 432.1,2266.5 432.8,2271.2 433.5,2211.3 434.2,2264.5 434.9,2333.7 435.6,2334.4 436.3,2231.8 437,2237.3 437.7,2334.7 438.4,2310.9 439.1,2306 439.8,2305.9 440.5,2241.1 441.2,2277.9 441.9,2328.3 442.7,2322.6 443.4,2212.6 444.1,2123.8 444.8,2312.9 445.5,2205.6 446.2,2217.5 446.9,2332.5 447.6,2245.3 448.3,2311.7 449,2302.8 449.7,2242.3 450.4,2315.1 451.1,2213.1 451.8,2294.6 452.5,2290.9 453.2,2295.7 453.9,2228.3 454.6,2216.5 455.3,2168.8 456,2312.1 456.7,2177 457.4,2306.2 458.1,2269.8 458.8,2238.9 459.5,2322.2 460.2,2333.9 460.9,2319.6 461.7,2303 462.4,2258 463.1,2315.2 463.8,2248.7 464.5,2237.2 465.2,2269.3 465.9,2264.1 466.6,2220.1 467.3,2340.3 468,2035.2 468.7,2269.9 469.4,2299.6 470.1,2299.9 470.8,2173.4 471.5,2294.1 472.2,2325.4 472.9,2225.7 473.6,2196.3 474.3,2170.7 475,2051.1 475.7,2294.1 476.4,2270.5 477.1,2262 477.8,2200.1 478.5,2123.8 479.2,2210.9 479.9,2323.8 480.6,2310.3 481.4,2258.9 482.1,2311.4 482.8,2275.1 483.5,2331.3 484.2,2320.8 484.9,2260.1 485.6,2340.7 486.3,2283.4 487,2329.3 487.7,2313.5 488.4,2277 489.1,2142.1 489.8,2306.2 490.5,2317.3 491.2,2282.9 491.9,2303 492.6,2219.2 493.3,2296.2 494,2315 494.7,2231.7 495.4,2304.4 496.1,2280.3 496.8,2313 497.5,2337.7 498.2,2276.7 498.9,2244.2 499.6,2267.1 500.3,2157.6 501.1,2323 501.8,2173.2 502.5,2306.4 503.2,2295.9 503.9,2272.4 504.6,2216 505.3,2270.9 506,2324 506.7,2263.3 507.4,2290.7 508.1,2109.2 508.8,2255.4 509.5,2215.3 510.2,2172.2 510.9,2281.7 511.6,2302.2 512.3,2229.1 513,2322.2 513.7,2242.4 514.4,2104.4 515.1,2333.9 515.8,2241.9 516.5,2308 517.2,2066.2 517.9,2212.1 518.6,2307 519.3,2018.5 520,2293.7 520.8,2278.3 521.5,2317.1 522.2,2312 522.9,2334 523.6,2303.4 524.3,2339 525,2109.2 525.7,2247.1 526.4,2243 527.1,2263.1 527.8,2276.3 528.5,2334.2 529.2,2313 529.9,2340.3 530.6,2214.1 531.3,2267.3 532,2316.6 532.7,2316.2 533.4,2330.9 534.1,2277.9 534.8,2278.3 535.5,2134.4 536.2,2088.9 536.9,2280.8 537.6,2276.5 538.3,2288.9 539,2186.4 539.8,2292.6 540.5,2238.5 541.2,2296 541.9,1991 542.6,2318.9 543.3,2320.1 544,2263.6 544.7,2337.3 545.4,2270.3 546.1,2275.2 546.8,2312.2 547.5,2243.3 548.2,2211.7 548.9,2220 549.6,2301.7 550.3,2341.3 551,2141.2 551.7,2292.7 552.4,2312.7 553.1,2225.9 553.8,2310.6 554.5,2291.5 555.2,2283.1 555.9,2323 556.6,2297 557.3,2268.3 558,2259.4 558.7,2321.4 559.5,2252.1 560.2,2215.4 560.9,2319.2 561.6,2296.9 562.3,2255.4 563,2284.2 563.7,2104.4 564.4,2111.2 565.1,2311.1 565.8,2338.8 566.5,2308.6 567.2,2257.6 567.9,2255.2 568.6,2277.8 569.3,2306.9 570,2211.3 570.7,2330.4 571.4,2310.6 572.1,2281.9 572.8,2318.6 573.5,2297.3 574.2,2287.3 574.9,2314.4 575.6,2251.4 576.3,2243 577,2258.7 577.7,2286.5 578.4,2312.8 579.2,2264.2 579.9,2237.4 580.6,2313.1 581.3,2305.6 582,2311 582.7,2275.3 583.4,2314.2 584.1,2285 584.8,2177.9 585.5,2116 586.2,2157.6 586.9,2250.1 587.6,2315.7 588.3,2281.1 589,2311.3 589.7,2337.8 590.4,2207.9 591.1,2223 591.8,2296.2 592.5,2299.2 593.2,2324.3 593.9,2324.8 594.6,2291.2 595.3,2313.9 596,2336.7 596.7,2267.6 597.4,2334.5 598.1,2294.9 598.9,2316.8 599.6,2272.6 600.3,2223.9 601,2169.3 601.7,2301.4 602.4,2325.3 603.1,2268.9 603.8,2320.8 604.5,2207.2 605.2,2286.5 605.9,2286.8 606.6,2320.9"/>
<path class="lpg" d="M100.7 2192.5l0.7 88.4l0.7 40.9l0.7 -243.3l0.7 118.4l0.7 6.9l0.7 90.6l0.7 -91.3l0.7 92.9l0.7 22.3l0.7 18.9l0.7 -78.5l0.7 27.7l0.7 -223.5l0.7 208l0.7 -71.1l0.7 62.4l0.7 66.8l0.7 10.2l0.7 -18.1l0.7 15.3l0.7 -209l0.7 155.1l0.7 53.5l0.7 -45.5l0.7 -231.5l0.7 241.7l0.7 -66l0.7 33.5l0.7 67.9l0.7 -54.6l0.7 28.1l0.7 10.4l0.7 -37.4l0.7 -1.6l0.7 -138l0.7 108.1l0.7 29.7l0.7 -115.5l0.7 49.6l0.7 27.6l0.7 73.5l0.7 -120.6l0.7 136.2l0.7 -1.8l0.7 -18.7l0.7 -127.3l0.7 109.5l0.7 -150.1l0.7 13.5l0.7 81.5l0.7 101.2l0.7 -26.2l0.7 25.2l0.7 -31.2l0.7 12.1l0.7 -44.5l0.7 49.4l0.7 -192.8l0.7 183.4l0.7 8.5l0.7 -68.7l0.7 54.2l0.7 11.8l0.7 -244.3l0.7 224.3l0.7 -26.6l0.7 34.5l0.7 -26.5l0.7 -8.1l0.7 -21.9l0.7 -18.7l0.7 81.9l0.7 -173.2l0.7 119.3l0.7 -26.5l0.7 42l0.7 42.9l0.7 0.6l0.7 -9.9l0.7 20.8l0.7 -3.7l0.7 -7.9l0.7 -10.3l0.7 -80.9l0.7 94.3l0.7 2.4l0.7 -167.6l0.7 159.9l0.7 -22.9l0.7 30.2l0.7 10.2l0.7 -11.5l0.7 -120.8l0.7 75.5l0.7 -109.3l0.7 -28.8l0.7 71.4l0.7 33.2l0.7 33.9l0.7 -103l0.7 132.4l0.7 -120.8l0.7 123.1l0.7 -14.3l0.7 -20.3l0.7 21.9l0.7 33.5l0.7 -25.2l0.7 -28.8l0.7 11.7l0.7 20.1l0.7 -13.2l0.7 1l0.7 9.2l0.7 14l0.7 -74.6l0.7 94.6l0.7 -129.5l0.7 83.7l0.7 -10l0.7 13.2l0.7 -253l0.7 213.4l0.7 8.5l0.7 64.1l0.7 -6.5l0.7 -102l0.7 56.9l0.7 -14.2l0.7 73.3l0.7 -19.4l0.7 -40.1l0.7 -183.7l0.7 89.9l0.7 126.5l0.7 26.4l0.7 -359.1l0.7 345l0.7 3.8l0.7 4.4l0.7 -18.4l0.7 -6.7l0.7 -0.7l0.7 -16.7l0.7 32.2l0.7 -22l0.7 -23.6l0.7 -1.4l0.7 59.1l0.7 -74.5l0.7 32.4l0.7 14.7l0.7 15l0.7 -15.8l0.7 -26.1l0.7 15.5l0.7 -20.5l0.7 -42.7l0.7 79.9l0.7 29.2l0.7 -134.7l0.7 114.8l0.7 -140.6l0.7 55.3l0.7 48l0.7 17.6l0.7 -209.4l0.7 227.7l0.7 -58.5l0.7 -24.4l0.7 84.8l0.7 -49.5l0.7 -48.9l0.7 32.1l0.7 -98.1l0.7 146l0.7 14l0.7 -311.1l0.7 333.4l0.7 -42l0.7 18.6l0.7 -35l0.7 -112l0.7 128.7l0.7 4.7l0.7 21.3l0.7 -79.7l0.7 55.6l0.7 -3.7l0.7 -64.9l0.7 25.8l0.7 27.5l0.7 -113.8l0.7 78.8l0.7 70.2l0.7 -14.4l0.7 -32.4l0.7 -78.9l0.7 55.2l0.7 18l0.7 3.4l0.7 23.6l0.7 -63.7l0.7 -38.6l0.7 119.5l0.7 -96.1l0.7 23.7l0.7 -38.3l0.7 82.7l0.7 33.7l0.7 -94.5l0.7 -8.7l0.7 30.5l0.7 96.4l0.7 -288.7l0.7 233.9l0.7 -67.1l0.7 66.6l0.7 11l0.7 -265.8l0.7 129.2l0.7 165.6l0.7 -29.8l0.7 26.9l0.7 -61.4l0.7 47.7l0.7 -122.3l0.7 72.4l0.7 -151.2l0.7 182.5l0.7 45.5l0.7 -53.8l0.7 22.4l0.7 37.7l0.7 -181l0.7 114.5l0.7 36l0.7 -11.7l0.7 19.8l0.7 -205.2l0.7 222.1l0.7 -101.7l0.7 35.2l0.7 -122.6l0.7 163.8l0.7 -100.8l0.7 -28.9l0.7 110.8l0.7 33.9l0.7 -42.2l0.7 -65.2l0.7 81.7l0.7 12.8l0.7 15.6l0.7 -173.8l0.7 169.3l0.7 -153.7l0.7 162.3l0.7 -36.2l0.7 34.7l0.7 -165.7l0.7 89.1l0.7 12.9l0.7 -29.5l0.7 72.6l0.7 -98.7l0.7 102.4l0.7 -113.2l0.7 99.5l0.7 -52.4l0.7 -107.9l0.7 158.1l0.7 19.9l0.7 -83.3l0.7 67.2l0.7 -89.1l0.7 69.8l0.7 -29.6l0.7 56.2l0.7 1.2l0.7 -131.1l0.7 78.3l0.7 -119.6l0.7 182l0.7 -20.5l0.7 -46.4l0.7 -24.5l0.7 -107l0.7 147.3l0.7 7.4l0.7 49.2l0.7 10.7l0.7 -19.6l0.7 -62.4l0.7 76.5l0.7 -34.3l0.7 3.6l0.7 -100.2l0.7 -16.2l0.7 79.5l0.7 47.2l0.7 -8.8l0.7 -186.6l0.7 173.7l0.7 -44l0.7 19l0.7 33l0.7 -152.6l0.7 177.6l0.7 -8.4l0.7 -15.3l0.7 -5.9l0.7 -126.6l0.7 -135.7l0.7 208.1l0.7 11.3l0.7 8.5l0.7 46.5l0.7 29.8l0.7 -39.1l0.7 -14.4l0.7 -11.8l0.7 9.1l0.7 14.6l0.7 16.2l0.7 14l0.7 14.4l0.7 -62.8l0.7 48.2l0.7 -10l0.7 1.5l0.7 -11.4l0.7 -12.3l0.7 5.4l0.7 -88.8l0.7 109.2l0.7 -131.9l0.7 130.1l0.7 -25.4l0.7 33.9l0.7 -42.6l0.7 57.6l0.7 -132.5l0.7 -99.5l0.7 176l0.7 -38.7l0.7 43.2l0.7 -79.1l0.7 45.1l0.7 44.6l0.7 27.5l0.7 -59l0.7 51.3l0.7 8.5l0.7 -75.2l0.7 65.6l0.7 -26.8l0.7 29.4l0.7 -28.5l0.7 18.5l0.7 -112.9l0.7 108.5l0.7 -52.2l0.7 -270.9l0.7 275.2l0.7 37.5l0.7 -10.1l0.7 -33.4l0.7 54.1l0.7 -126l0.7 61.1l0.7 20l0.7 -88.5l0.7 145.5l0.7 -77.6l0.7 -68.8l0.7 152.7l0.7 2.2l0.7 -38.6l0.7 -15.6l0.7 36.6l0.7 18.6l0.7 -15.4l0.7 22.6l0.7 -5.1l0.7 -5.5l0.7 4.5l0.7 -37.4l0.7 -230.1l0.7 213.5l0.7 -77.3l0.7 94.9l0.7 -71.1l0.7 100l0.7 -185.6l0.7 75.3l0.7 129.9l0.7 -80.1l0.7 63.1l0.7 -40.3l0.7 24.9l0.7 -142.6l0.7 110.2l0.7 -124.7l0.7 180l0.7 -43.5l0.7 -79.7l0.7 28.9l0.7 82.1l0.7 -90.8l0.7 -121.6l0.7 97.1l0.7 86.2l0.7 -39.6l0.7 2.9l0.7 45.1l0.7 -38.3l0.7 18.6l0.7 63.2l0.7 -72.9l0.7 -48.6l0.7 101.8l0.7 -14.5l0.7 -40.8l0.7 28.8l0.7 29.6l0.7 7.9l0.7 5.2l0.7 -32.5l0.7 -16.3l0.7 -198.3l0.7 51.3l0.7 136l0.7 -18.4l0.7 58.7l0.7 -12l0.7 -47.8l0.7 -115.4l0.7 185.2l0.7 12.9l0.7 -14l0.7 -101.6l0.7 115.9l0.7 -32.9l0.7 32.9l0.7 -15.7l0.7 -32.1l0.7 22.9l0.7 -2.8l0.7 -21.5l0.7 22.9l0.7 -173.1l0.7 183l0.7 -137l0.7 -35.4l0.7 174.3l0.7 5.4l0.7 -114.9l0.7 105.1l0.7 -254.2l0.7 267.3l0.7 -85.4l0.7 -202.7l0.7 266.6l0.7 -61.4l0.7 63.6l0.7 -49.1l0.7 69.6l0.7 -18.7l0.7 -64.1l0.7 13.2l0.7 5.8l0.7 -60.9l0.7 55.2l0.7 67.7l0.7 2.8l0.7 -107.2l0.7 9.9l0.7 96.1l0.7 -22.4l0.7 -6l0.7 0l0.7 -66.4l0.7 41l0.7 47.4l0.7 -6.2l0.7 -106.3l0.7 -92.3l0.7 187.8l0.7 -103.8l0.7 4.9l0.7 119.9l0.7 -89.8l0.7 71.8l0.7 -11.7l0.7 -64.7l0.7 76.3l0.7 -105.2l0.7 84.5l0.7 -2l0.7 1.2l0.7 -66.1l0.7 -13.5l0.7 -45.4l0.7 141.8l0.7 -132.8l0.7 131l0.7 -39.2l0.7 -30.4l0.7 83.1l0.7 11.7l0.7 -14.7l0.7 -13l0.7 -45.1l0.7 54.2l0.7 -67.4l0.7 -8.9l0.7 31.1l0.7 -4l0.7 -40.2l0.7 114l0.7 -304l0.7 232.7l0.7 33.5l0.7 2.9l0.7 -128.8l0.7 118.2l0.7 33.1l0.7 -99.4l0.7 -30.7l0.7 -30.4l0.7 -115.3l0.7 247.1l0.7 -29.5l0.7 -8l0.7 -64.5l0.7 -72.4l0.7 88.9l0.7 111.2l0.7 -12.4l0.7 -49.1l0.7 47.3l0.7 -32.6l0.7 54l0.7 -11.7l0.7 -61.3l0.7 83.5l0.7 -58.7l0.7 45.3l0.7 -15.3l0.7 -32.9l0.7 -137.8l0.7 159.7l0.7 13.4l0.7 -36.2l0.7 26.2l0.7 -94l0.7 85.8l0.7 18l0.7 -81.4l0.7 73.6l0.7 -24.5l0.7 32.5l0.7 23.6l0.7 -67.5l0.7 -27.3l0.7 26.7l0.7 -113.1l0.7 166.3l0.7 -150.8l0.7 132.1l0.7 -9l0.7 -23.4l0.7 -56.1l0.7 53.6l0.7 54.7l0.7 -63.7l0.7 27.3l0.7 -179.4l0.7 143.5l0.7 -38.1l0.7 -42.4l0.7 108.4l0.7 22.7l0.7 -78.9l0.7 97.9l0.7 -78.7l0.7 -139.2l0.7 231.4l0.7 -95.8l0.7 69.2l0.7 -242.9l0.7 151.1l0.7 89.6l0.7 -288.4l0.7 277.1l0.7 -16.8l0.7 41.5l0.7 -7.2l0.7 20.8l0.7 -30l0.7 34.7l0.7 -229.5l0.7 138.5l0.7 -11.7l0.7 27.1l0.7 12.8l0.7 58.9l0.7 -19.2l0.7 24.2l0.7 -122.3l0.7 50.1l0.7 49.8l0.7 2.7l0.7 10.1l0.7 -50.4l0.7 -2.4l0.7 -143.1l0.7 -45.5l0.7 193l0.7 -7.8l0.7 16.1l0.7 -104l0.7 105.4l0.7 -51.9l0.7 55.7l0.7 -301.5l0.7 326l0.7 1.2l0.7 -53.2l0.7 69.5l0.7 -67.3l0.7 7.7l0.7 33.7l0.7 -66.2l0.7 -28.6l0.7 3.2l0.7 78l0.7 41.9l0.7 -198.5l0.7 151.8l0.7 17.9l0.7 -86.4l0.7 88.2l0.7 -17.8l0.7 -10.8l0.7 40.7l0.7 -26.5l0.7 -27.2l0.7 -6.3l0.7 55.1l0.7 -70l0.7 -39.2l0.7 108l0.7 -22.6l0.7 -42.5l0.7 27.5l0.7 -176.5l0.7 6.8l0.7 198.9l0.7 30.7l0.7 -32.9l0.7 -48.7l0.7 -2.4l0.7 19.1l0.7 33.7l0.7 -93.3l0.7 113.9l0.7 -23.8l0.7 -27.4l0.7 41.2l0.7 -23.2l0.7 -7l0.7 25.7l0.7 -61.7l0.7 -16.9l0.7 19.9l0.7 28.5l0.7 27.3l0.7 -46.9l0.7 -30.3l0.7 80.1l0.7 -13.5l0.7 7.6l0.7 -36l0.7 40.1l0.7 -27l0.7 -110.6l0.7 -60.3l0.7 41.7l0.7 89.6l0.7 68.2l0.7 -31.7l0.7 26.8l0.7 25.9l0.7 -126.6l0.7 13.3l0.7 71.3l0.7 6.6l0.7 20.9l0.7 3.1l0.7 -33.6l0.7 22l0.7 23.6l0.7 -66.3l0.7 64.9l0.7 -39.2l0.7 18.8l0.7 -43.7l0.7 -43.4l0.7 -59l0.7 131l0.7 29.4l0.7 -63.7l0.7 56.6l0.7 -116.3l0.7 80.5l0.7 -1l0.7 34"/>
<polyline class="kpg" points="100.7,2192.5 101.4,2280.9 102.1,2321.9 102.8,2078.6 103.5,2197 104.2,2203.9 104.9,2294.5 105.6,2203.2 106.3,2296.1 107,2318.4 107.7,2337.4 108.4,2258.9 109.1,2286.6 109.9,2063.1 110.6,2271.1 111.3,2200 112,2262.5 112.7,2329.2 113.4,2339.5 114.1,2321.4 114.8,2336.6 115.5,2127.6 116.2,2282.7 116.9,2336.2 117.6,2290.7 118.3,2059.2 119,2300.9 119.7,2234.9 120.4,2268.4 121.1,2336.2 121.8,2281.6 122.5,2309.7 123.2,2320.1 123.9,2282.8 124.6,2281.1 125.3,2143.1 126,2251.2 126.7,2280.9 127.4,2165.4 128.1,2215 128.8,2242.6 129.6,2316 130.3,2195.4 131,2331.6 131.7,2329.8 132.4,2311.2 133.1,2183.8 133.8,2293.3 134.5,2143.1 135.2,2156.6 135.9,2238.2 136.6,2339.4 137.3,2313.2 138,2338.4 138.7,2307.2 139.4,2319.3 140.1,2274.8 140.8,2324.3 141.5,2131.5 142.2,2314.9 142.9,2323.4 143.6,2254.7 144.3,2308.8 145,2320.6 145.7,2076.3 146.4,2300.6 147.1,2274.1 147.8,2308.5 148.5,2282 149.3,2274 150,2252.1 150.7,2233.4 151.4,2315.3 152.1,2142.1 152.8,2261.5 153.5,2234.9 154.2,2277 154.9,2319.9 155.6,2320.4 156.3,2310.6 157,2331.4 157.7,2327.7 158.4,2319.8 159.1,2309.5 159.8,2228.6 160.5,2322.8 161.2,2325.3 161.9,2157.6 162.6,2317.5 163.3,2294.6 164,2324.9 164.7,2335.1 165.4,2323.6 166.1,2202.8 166.8,2278.3 167.5,2169 168.2,2140.2 169,2211.6 169.7,2244.8 170.4,2278.7 171.1,2175.7 171.8,2308.1 172.5,2187.3 173.2,2310.4 173.9,2296.1 174.6,2275.8 175.3,2297.7 176,2331.2 176.7,2306 177.4,2277.2 178.1,2288.9 178.8,2309 179.5,2295.9 180.2,2296.8 180.9,2306.1 181.6,2320 182.3,2245.5 183,2340 183.7,2210.5 184.4,2294.2 185.1,2284.2 185.8,2297.3 186.5,2044.3 187.2,2257.8 187.9,2266.3 188.7,2330.4 189.4,2323.8 190.1,2221.8 190.8,2278.7 191.5,2264.6 192.2,2337.9 192.9,2318.5 193.6,2278.4 194.3,2094.7 195,2184.6 195.7,2311.1 196.4,2337.5 197.1,1978.4 197.8,2323.4 198.5,2327.2 199.2,2331.5 199.9,2313.1 200.6,2306.4 201.3,2305.7 202,2289.1 202.7,2321.3 203.4,2299.3 204.1,2275.7 204.8,2274.3 205.5,2333.5 206.2,2259 206.9,2291.4 207.7,2306.1 208.4,2321.1 209.1,2305.2 209.8,2279.2 210.5,2294.7 211.2,2274.1 211.9,2231.4 212.6,2311.3 213.3,2340.5 214,2205.8 214.7,2320.6 215.4,2179.9 216.1,2235.3 216.8,2283.2 217.5,2300.8 218.2,2091.4 218.9,2319.1 219.6,2260.6 220.3,2236.2 221,2321 221.7,2271.5 222.4,2222.6 223.1,2254.7 223.8,2156.6 224.5,2302.6 225.2,2316.7 225.9,2005.6 226.6,2339 227.4,2297 228.1,2315.7 228.8,2280.6 229.5,2168.6 230.2,2297.4 230.9,2302.1 231.6,2323.4 232.3,2243.6 233,2299.2 233.7,2295.5 234.4,2230.6 235.1,2256.4 235.8,2284 236.5,2170.2 237.2,2248.9 237.9,2319.1 238.6,2304.7 239.3,2272.4 240,2193.4 240.7,2248.6 241.4,2266.7 242.1,2270.1 242.8,2293.7 243.5,2230.1 244.2,2191.5 244.9,2311 245.6,2214.9 246.3,2238.6 247.1,2200.3 247.8,2283 248.5,2316.7 249.2,2222.2 249.9,2213.5 250.6,2244 251.3,2340.4 252,2051.7 252.7,2285.6 253.4,2218.5 254.1,2285.1 254.8,2296.2 255.5,2030.3 256.2,2159.6 256.9,2325.1 257.6,2295.3 258.3,2322.2 259,2260.8 259.7,2308.4 260.4,2186.1 261.1,2258.5 261.8,2107.2 262.5,2289.8 263.2,2335.2 263.9,2281.4 264.6,2303.9 265.3,2341.5 266,2160.6 266.8,2275.1 267.5,2311.1 268.2,2299.4 268.9,2319.2 269.6,2114 270.3,2336.1 271,2234.4 271.7,2269.6 272.4,2147 273.1,2310.8 273.8,2209.9 274.5,2181 275.2,2291.9 275.9,2325.7 276.6,2283.5 277.3,2218.3 278,2300.1 278.7,2312.9 279.4,2328.5 280.1,2154.7 280.8,2324 281.5,2170.3 282.2,2332.6 282.9,2296.4 283.6,2331.1 284.3,2165.4 285,2254.4 285.8,2267.3 286.5,2237.9 287.2,2310.4 287.9,2211.7 288.6,2314.1 289.3,2201 290,2300.5 290.7,2248.1 291.4,2140.2 292.1,2298.3 292.8,2318.2 293.5,2234.9 294.2,2302.2 294.9,2213.1 295.6,2282.9 296.3,2253.3 297,2309.5 297.7,2310.6 298.4,2179.6 299.1,2257.9 299.8,2138.3 300.5,2320.2 301.2,2299.7 301.9,2253.3 302.6,2228.8 303.3,2121.8 304,2269.1 304.7,2276.5 305.5,2325.7 306.2,2336.4 306.9,2316.7 307.6,2254.3 308.3,2330.8 309,2296.6 309.7,2300.2 310.4,2200 311.1,2183.8 311.8,2263.3 312.5,2310.5 313.2,2301.6 313.9,2115 314.6,2288.7 315.3,2244.7 316,2263.7 316.7,2296.7 317.4,2144.1 318.1,2321.6 318.8,2313.2 319.5,2297.9 320.2,2292 320.9,2165.4 321.6,2029.8 322.3,2237.8 323,2249.1 323.7,2257.6 324.4,2304.1 325.2,2333.9 325.9,2294.8 326.6,2280.4 327.3,2268.6 328,2277.7 328.7,2292.3 329.4,2308.4 330.1,2322.4 330.8,2336.8 331.5,2274 332.2,2322.2 332.9,2312.2 333.6,2313.6 334.3,2302.2 335,2289.9 335.7,2295.3 336.4,2206.6 337.1,2315.7 337.8,2183.8 338.5,2313.9 339.2,2288.5 339.9,2322.4 340.6,2279.8 341.3,2337.4 342,2204.9 342.7,2105.3 343.4,2281.4 344.1,2242.6 344.9,2285.9 345.6,2206.8 346.3,2251.9 347,2296.5 347.7,2324 348.4,2265 349.1,2316.3 349.8,2324.8 350.5,2249.6 351.2,2315.2 351.9,2288.3 352.6,2317.8 353.3,2289.3 354,2307.8 354.7,2194.9 355.4,2303.4 356.1,2251.3 356.8,1980.4 357.5,2255.6 358.2,2293.1 358.9,2283 359.6,2249.6 360.3,2303.7 361,2177.7 361.7,2238.8 362.4,2258.7 363.1,2170.2 363.9,2315.7 364.6,2238.1 365.3,2169.3 366,2322 366.7,2324.2 367.4,2285.5 368.1,2270 368.8,2306.6 369.5,2325.2 370.2,2309.8 370.9,2332.4 371.6,2327.3 372.3,2321.8 373,2326.3 373.7,2288.9 374.4,2058.9 375.1,2272.4 375.8,2195.1 376.5,2290 377.2,2218.9 377.9,2319 378.6,2133.4 379.3,2208.7 380,2338.5 380.7,2258.4 381.4,2321.5 382.1,2281.2 382.8,2306.1 383.6,2163.4 384.3,2273.7 385,2148.9 385.7,2328.9 386.4,2285.4 387.1,2205.7 387.8,2234.6 388.5,2316.8 389.2,2226 389.9,2104.4 390.6,2201.5 391.3,2287.7 392,2248.1 392.7,2251 393.4,2296 394.1,2257.7 394.8,2276.3 395.5,2339.6 396.2,2266.6 396.9,2218 397.6,2319.8 398.3,2305.3 399,2264.5 399.7,2293.3 400.4,2322.9 401.1,2330.8 401.8,2335.9 402.5,2303.4 403.3,2287.2 404,2088.9 404.7,2140.2 405.4,2276.2 406.1,2257.8 406.8,2316.4 407.5,2304.5 408.2,2256.6 408.9,2141.2 409.6,2326.4 410.3,2339.2 411,2325.3 411.7,2223.7 412.4,2339.6 413.1,2306.7 413.8,2339.6 414.5,2323.9 415.2,2291.8 415.9,2314.7 416.6,2311.9 417.3,2290.4 418,2313.3 418.7,2140.2 419.4,2323.2 420.1,2186.2 420.8,2150.9 421.5,2325.1 422.2,2330.5 423,2215.7 423.7,2320.8 424.4,2066.6 425.1,2333.8 425.8,2248.4 426.5,2045.7 427.2,2312.3 427.9,2251 428.6,2314.6 429.3,2265.5 430,2335.1 430.7,2316.4 431.4,2252.3 432.1,2265.5 432.8,2271.3 433.5,2210.4 434.2,2265.6 434.9,2333.3 435.6,2336.1 436.3,2228.9 437,2238.9 437.7,2335 438.4,2312.6 439.1,2306.7 439.8,2306.7 440.5,2240.3 441.2,2281.3 441.9,2328.6 442.7,2322.4 443.4,2216.1 444.1,2123.8 444.8,2311.6 445.5,2207.8 446.2,2212.7 446.9,2332.6 447.6,2242.8 448.3,2314.7 449,2303 449.7,2238.3 450.4,2314.5 451.1,2209.4 451.8,2293.8 452.5,2291.8 453.2,2293 453.9,2226.9 454.6,2213.4 455.3,2168 456,2309.8 456.7,2177 457.4,2308 458.1,2268.8 458.8,2238.4 459.5,2321.5 460.2,2333.2 460.9,2318.6 461.7,2305.5 462.4,2260.4 463.1,2314.5 463.8,2247.1 464.5,2238.2 465.2,2269.3 465.9,2265.4 466.6,2225.1 467.3,2339.1 468,2035.2 468.7,2267.9 469.4,2301.5 470.1,2304.3 470.8,2175.5 471.5,2293.8 472.2,2326.9 472.9,2227.5 473.6,2196.8 474.3,2166.4 475,2051.1 475.7,2298.2 476.4,2268.7 477.1,2260.7 477.8,2196.2 478.5,2123.8 479.2,2212.7 479.9,2323.8 480.6,2311.4 481.4,2262.3 482.1,2309.6 482.8,2277 483.5,2331 484.2,2319.4 484.9,2258 485.6,2341.6 486.3,2282.9 487,2328.1 487.7,2312.8 488.4,2279.9 489.1,2142.1 489.8,2301.9 490.5,2315.2 491.2,2279.1 491.9,2305.2 492.6,2211.2 493.3,2297 494,2315 494.7,2233.6 495.4,2307.2 496.1,2282.7 496.8,2315.2 497.5,2338.8 498.2,2271.3 498.9,2244 499.6,2270.7 500.3,2157.6 501.1,2323.9 501.8,2173.2 502.5,2305.3 503.2,2296.3 503.9,2272.9 504.6,2216.8 505.3,2270.3 506,2325 506.7,2261.3 507.4,2288.6 508.1,2109.2 508.8,2252.7 509.5,2214.6 510.2,2172.2 510.9,2280.5 511.6,2303.2 512.3,2224.3 513,2322.3 513.7,2243.6 514.4,2104.4 515.1,2335.7 515.8,2240 516.5,2309.2 517.2,2066.2 517.9,2217.4 518.6,2306.9 519.3,2018.5 520,2295.6 520.8,2278.8 521.5,2320.3 522.2,2313.1 522.9,2333.9 523.6,2303.9 524.3,2338.6 525,2109.2 525.7,2247.6 526.4,2235.9 527.1,2263.1 527.8,2275.9 528.5,2334.8 529.2,2315.5 529.9,2339.8 530.6,2217.5 531.3,2267.6 532,2317.4 532.7,2320.1 533.4,2330.3 534.1,2279.9 534.8,2277.5 535.5,2134.4 536.2,2088.9 536.9,2281.9 537.6,2274.1 538.3,2290.2 539,2186.2 539.8,2291.6 540.5,2239.7 541.2,2295.5 541.9,1993.9 542.6,2320 543.3,2321.2 544,2268 544.7,2337.4 545.4,2270.1 546.1,2277.8 546.8,2311.5 547.5,2245.3 548.2,2216.7 548.9,2219.9 549.6,2297.9 550.3,2339.7 551,2141.2 551.7,2293 552.4,2310.9 553.1,2224.5 553.8,2312.7 554.5,2294.8 555.2,2284 555.9,2324.7 556.6,2298.2 557.3,2271 558,2264.7 558.7,2319.8 559.5,2249.8 560.2,2210.6 560.9,2318.5 561.6,2295.9 562.3,2253.5 563,2280.9 563.7,2104.4 564.4,2111.2 565.1,2310.1 565.8,2340.7 566.5,2307.8 567.2,2259.1 567.9,2256.7 568.6,2275.8 569.3,2309.5 570,2216.2 570.7,2330.1 571.4,2306.2 572.1,2278.9 572.8,2320 573.5,2296.9 574.2,2289.9 574.9,2315.6 575.6,2253.9 576.3,2237.1 577,2256.9 577.7,2285.4 578.4,2312.7 579.2,2265.8 579.9,2235.6 580.6,2315.6 581.3,2302.1 582,2309.7 582.7,2273.8 583.4,2313.9 584.1,2286.9 584.8,2176.3 585.5,2116 586.2,2157.6 586.9,2247.2 587.6,2315.5 588.3,2283.8 589,2310.6 589.7,2336.6 590.4,2210 591.1,2223.3 591.8,2294.6 592.5,2301.3 593.2,2322.1 593.9,2325.2 594.6,2291.6 595.3,2313.6 596,2337.2 596.7,2270.9 597.4,2335.8 598.1,2296.6 598.9,2315.4 599.6,2271.7 600.3,2228.3 601,2169.3 601.7,2300.3 602.4,2329.7 603.1,2266 603.8,2322.6 604.5,2206.3 605.2,2286.8 605.9,2285.7 606.6,2319.7"/>
<path class="tk" d="M100 2350.9v-8.5M100 1915.1v8.5M170.4 2350.9v-8.5M170.4 1915.1v8.5M240.7 2350.9v-8.5M240.7 1915.1v8.5M311.1 2350.9v-8.5M311.1 1915.1v8.5M381.4 2350.9v-8.5M381.4 1915.1v8.5M451.8 2350.9v-8.5M451.8 1915.1v8.5M522.2 2350.9v-8.5M522.2 1915.1v8.5M592.5 2350.9v-8.5M592.5 1915.1v8.5M135.2 2350.9v-4.5M135.2 1915.1v4.5M205.5 2350.9v-4.5M205.5 1915.1v4.5M275.9 2350.9v-4.5M275.9 1915.1v4.5M346.3 2350.9v-4.5M346.3 1915.1v4.5M416.6 2350.9v-4.5M416.6 1915.1v4.5M487 2350.9v-4.5M487 1915.1v4.5M557.3 2350.9v-4.5M557.3 1915.1v4.5M87.1 2344h8.5M627 2344h-8.5M87.1 2272.5h8.5M627 2272.5h-8.5M87.1 2201h8.5M627 2201h-8.5M87.1 2129.6h8.5M627 2129.6h-8.5M87.1 2058.1h8.5M627 2058.1h-8.5M87.1 1986.6h8.5M627 1986.6h-8.5M87.1 2308.3h4.5M627 2308.3h-4.5M87.1 2236.8h4.5M627 2236.8h-4.5M87.1 2165.3h4.5M627 2165.3h-4.5M87.1 2093.8h4.5M627 2093.8h-4.5M87.1 2022.3h4.5M627 2022.3h-4.5M87.1 1950.8h4.5M627 1950.8h-4.5"/>
<rect class="fr" x="87.1" y="1915.1" width="539.9" height="435.8"/>
<text class="tl" x="100" y="2376.9" text-anchor="middle">0</text>
<text class="tl" x="170.4" y="2376.9" text-anchor="middle">100</text>
<text class="tl" x="240.7" y="2376.9" text-anchor="middle">200</text>
<text class="tl" x="311.1" y="2376.9" text-anchor="middle">300</text>
<text class="tl" x="381.4" y="2376.9" text-anchor="middle">400</text>
<text class="tl" x="451.8" y="2376.9" text-anchor="middle">500</text>
<text class="tl" x="522.2" y="2376.9" text-anchor="middle">600</text>
<text class="tl" x="592.5" y="2376.9" text-anchor="middle">700</text>
<text class="tl" x="77.1" y="2352.2" text-anchor="end">0</text>
<text class="tl" x="77.1" y="2280.7" text-anchor="end">1000</text>
<text class="tl" x="77.1" y="2209.2" text-anchor="end">2000</text>
<text class="tl" x="77.1" y="2137.8" text-anchor="end">3000</text>
<text class="tl" x="77.1" y="2066.3" text-anchor="end">4000</text>
<text class="tl" x="77.1" y="1994.8" text-anchor="end">5000</text>
<text class="tl" x="77.1" y="1923.3" text-anchor="end">6000</text>
<text class="at" x="286" y="2406.8" textLength="142" lengthAdjust="spacingAndGlyphs">Sample number</text>
<text class="at" transform="translate(31.3 2208.6) rotate(-90)" textLength="150.6" lengthAdjust="spacingAndGlyphs">Peak stress(kPa)</text>
<path d="M397.7 1941.5h5M436.7 1941.5h5" stroke="#404040" stroke-width="3"/>
<path d="M397.7 1969.5h5M436.7 1969.5h5" stroke="#ff0808" stroke-width="3"/>
<path d="M424.2 1935.5l6 6 -6 6 -6 -6z" fill="none" stroke="#7b00ff" stroke-width="2.5"/>
<circle cx="424.2" cy="1969.5" r="3.9" fill="none" stroke="#ff0808" stroke-width="3.6"/>
<text class="lg" x="455" y="1949" textLength="144" lengthAdjust="spacingAndGlyphs">Measured value</text>
<text class="lg" x="455" y="1977" textLength="146" lengthAdjust="spacingAndGlyphs">Predictive value</text>
<text class="cap" x="138.5" y="2484.6">(g)</text>
<text class="cap" x="204" y="2484.6">LDA training set</text>
<path class="lmh" d="M861.7 2161.7l2.7 148l2.7 -5.8l2.7 -14.7l2.7 -139.6l2.7 84.1l2.7 88.6l2.7 7.8l2.7 -40.9l2.7 -84.7l2.7 28.2l2.7 -8.8l2.7 -5.8l2.7 92.1l2.7 4.3l2.7 -142.1l2.7 149l2.7 -17.5l2.7 6.8l2.7 -225.9l2.7 213.2l2.7 -8.8l2.7 -96.4l2.7 0l2.7 93.4l2.7 -58.4l2.7 85.6l2.7 -64.3l2.7 36l2.7 -22.4l2.7 -170.3l2.7 62.3l2.7 175.2l2.7 -14.6l2.7 -156.8l2.7 167.4l2.7 -37.9l2.7 -33.1l2.7 -153.8l2.7 133.4l2.7 89.6l2.7 -94.5l2.7 -101.3l2.7 185l2.7 -208.3l2.7 186l2.7 -225.9l2.7 254.1l2.7 -15.5l2.7 -150.9l2.7 84.7l2.7 68.1l2.7 -59.4l2.7 41.9l2.7 -16.6l2.7 7.8l2.7 28.2l2.7 -149.9l2.7 176.2l2.7 -8.8l2.7 10.7l2.7 0l2.7 -9.8l2.7 -19.4l2.7 -120.7l2.7 121.7l2.7 -0.9l2.7 -236.6l2.7 169.4l2.7 0l2.7 -49.7l2.7 148l2.7 -134.4l2.7 75l2.7 -108.1l2.7 104.2l2.7 -49.6l2.7 97.3l2.7 -8.8l2.7 -65.2l2.7 53.5l2.7 11.7l2.7 -52.6l2.7 51.7l2.7 5.8l2.7 3.9l2.7 -18.5l2.7 -10.7l2.7 24.3l2.7 -87.6l2.7 48.7l2.7 18.5l2.7 20.4l2.7 -33l2.7 -18.5l2.7 21.4l2.7 -61.4l2.7 45.7l2.7 -92.5l2.7 4.9l2.7 7.8l2.7 64.3l2.7 11.7l2.7 13.6l2.7 58.4l2.7 -33l2.7 18.5l2.7 -85.6l2.7 68.1l2.7 -6.9l2.7 -4.8l2.7 -6.9l2.7 -43.8l2.7 48.7l2.7 -34.1l2.7 -109.1l2.7 148l2.7 23.3l2.7 -51.6l2.7 32.1l2.7 -6.8l2.7 -366.1l2.7 398.2l2.7 -103.1l2.7 91.5l2.7 -306.7l2.7 320.3l2.7 -6.9l2.7 -324.2l2.7 119.8l2.7 210.3l2.7 -97.4l2.7 88.6l2.7 -74l2.7 55.5l2.7 -112.9l2.7 79.8l2.7 -74l2.7 70.1l2.7 31.1l2.7 12.6l2.7 23.4l2.7 -145.1l2.7 138.2l2.7 -6.8l2.7 -86.7l2.7 -97.4l2.7 -40.8l2.7 145l2.7 -7.7l2.7 20.4l2.7 -2.9l2.7 -9.8l2.7 -37.9l2.7 111l2.7 -88.6l2.7 -8.8l2.7 74l2.7 -122.7l2.7 -15.5l2.7 146l2.7 -44.8l2.7 -57.5l2.7 85.7l2.7 52.6l2.7 7.7l2.7 -165.4l2.7 57.4l2.7 5.8l2.7 86.7l2.7 -68.1l2.7 -83.7l2.7 28.2l2.7 141.2l2.7 -128.5l2.7 103.2l2.7 -115.8l2.7 -21.4l2.7 150.9l2.7 -128.5"/>
<polyline class="kmh" points="861.7,2161.7 864.4,2309.7 867,2303.9 869.7,2289.2 872.4,2149.6 875,2233.8 877.7,2322.3 880.4,2330.1 883.1,2289.2 885.8,2204.5 888.4,2232.7 891.1,2224 893.8,2218.1 896.5,2310.3 899.1,2314.5 901.8,2172.4 904.5,2321.4 907.1,2303.9 909.8,2310.7 912.5,2084.8 915.2,2298 917.9,2289.2 920.5,2192.8 923.2,2192.8 925.9,2286.3 928.5,2227.9 931.2,2313.6 933.9,2249.3 936.6,2285.3 939.2,2262.9 941.9,2092.6 944.6,2154.9 947.3,2330.1 950,2315.5 952.6,2158.8 955.3,2326.2 958,2288.3 960.6,2255.1 963.3,2101.4 966,2234.7 968.7,2324.3 971.4,2229.8 974,2128.6 976.7,2313.6 979.4,2105.2 982,2291.2 984.7,2065.3 987.4,2319.4 990.1,2303.9 992.8,2152.9 995.4,2237.6 998.1,2305.8 1000.8,2246.4 1003.5,2288.3 1006.1,2271.7 1008.8,2279.5 1011.5,2307.7 1014.1,2157.8 1016.8,2334 1019.5,2325.2 1022.2,2336 1024.8,2336 1027.5,2326.2 1030.2,2306.8 1032.9,2186.1 1035.5,2307.7 1038.2,2306.8 1040.9,2070.2 1043.6,2239.6 1046.2,2239.6 1048.9,2189.9 1051.6,2337.9 1054.3,2203.6 1057,2278.6 1059.6,2170.4 1062.3,2274.6 1065,2225 1067.7,2322.3 1070.3,2313.6 1073,2248.4 1075.7,2301.9 1078.3,2313.6 1081,2261 1083.7,2312.6 1086.4,2318.5 1089,2322.3 1091.7,2303.9 1094.4,2293.1 1097.1,2317.4 1099.8,2229.8 1102.4,2278.6 1105.1,2297 1107.8,2317.4 1110.5,2284.4 1113.1,2265.9 1115.8,2287.3 1118.5,2226 1121.2,2271.7 1123.8,2179.2 1126.5,2184.1 1129.2,2191.9 1131.8,2256.2 1134.5,2267.8 1137.2,2281.5 1139.9,2339.8 1142.5,2306.8 1145.2,2325.2 1147.9,2239.6 1150.6,2307.7 1153.2,2300.9 1155.9,2296.1 1158.6,2289.2 1161.3,2245.4 1164,2294.1 1166.6,2260 1169.3,2151 1172,2299 1174.7,2322.3 1177.3,2270.7 1180,2302.8 1182.7,2296.1 1185.3,1930 1188,2328.2 1190.7,2225 1193.4,2316.5 1196,2009.8 1198.7,2330.1 1201.4,2323.3 1204.1,1999.1 1206.8,2118.9 1209.4,2329.2 1212.1,2231.8 1214.8,2320.4 1217.5,2246.4 1220.1,2301.9 1222.8,2189 1225.5,2268.8 1228.2,2194.8 1230.8,2264.9 1233.5,2296.1 1236.2,2308.7 1238.8,2332.1 1241.5,2187 1244.2,2325.2 1246.9,2318.5 1249.5,2231.8 1252.2,2134.4 1254.9,2093.5 1257.6,2238.6 1260.2,2230.8 1262.9,2251.3 1265.6,2248.4 1268.3,2238.6 1271,2200.6 1273.6,2311.6 1276.3,2223 1279,2214.3 1281.7,2288.3 1284.3,2165.5 1287,2150 1289.7,2296.1 1292.3,2251.3 1295,2193.8 1297.7,2279.5 1300.4,2332.1 1303,2339.8 1305.7,2174.4 1308.4,2231.8 1311.1,2237.6 1313.8,2324.3 1316.4,2256.2 1319.1,2172.4 1321.8,2200.6 1324.5,2341.8 1327.1,2213.3 1329.8,2316.5 1332.5,2200.6 1335.2,2179.2 1337.8,2330.1 1340.5,2201.6"/>
<path class="lph" d="M861.7 2164.6l2.7 145.1l2.7 -5.8l2.7 -27.3l2.7 -127l2.7 89l2.7 83.7l2.7 0l2.7 -33.1l2.7 -84.7l2.7 28.2l2.7 -8.8l2.7 -5.8l2.7 87.6l2.7 8.8l2.7 -142.1l2.7 138.2l2.7 -6.8l2.7 6.8l2.7 -225.9l2.7 213.2l2.7 -8.8l2.7 -100.2l2.7 3.9l2.7 93.4l2.7 -58.4l2.7 85.6l2.7 -57.4l2.7 29.2l2.7 -22.4l2.7 -203.5l2.7 79.8l2.7 176.3l2.7 0l2.7 -160.6l2.7 156.7l2.7 -31.1l2.7 -25.3l2.7 -153.8l2.7 133.4l2.7 89.6l2.7 -86.7l2.7 -112.9l2.7 188.9l2.7 -208.3l2.7 191.8l2.7 -231.7l2.7 254.1l2.7 -26.3l2.7 -140.2l2.7 91.5l2.7 61.4l2.7 -64.3l2.7 46.8l2.7 -19.5l2.7 10.7l2.7 22.4l2.7 -144.1l2.7 167.4l2.7 0l2.7 10.7l2.7 -10.7l2.7 0.9l2.7 -19.4l2.7 -116.9l2.7 117.8l2.7 -0.9l2.7 -242.4l2.7 175.2l2.7 0l2.7 -49.7l2.7 148l2.7 -134.4l2.7 69.1l2.7 -102.2l2.7 104.2l2.7 -56.5l2.7 96.4l2.7 -0.9l2.7 -81.8l2.7 70.1l2.7 11.7l2.7 -56.5l2.7 55.5l2.7 5.8l2.7 3.9l2.7 -18.5l2.7 -10.7l2.7 24.3l2.7 -87.6l2.7 48.7l2.7 18.5l2.7 20.4l2.7 -33l2.7 -18.5l2.7 21.4l2.7 -77l2.7 61.4l2.7 -92.5l2.7 0l2.7 12.7l2.7 64.3l2.7 11.7l2.7 19.5l2.7 50.6l2.7 -31.1l2.7 18.5l2.7 -93.4l2.7 75.9l2.7 -6.9l2.7 -4.8l2.7 -6.9l2.7 -43.8l2.7 48.7l2.7 -34.1l2.7 -109.1l2.7 148l2.7 23.3l2.7 -57.4l2.7 37.9l2.7 -6.8l2.7 -366.1l2.7 398.2l2.7 -108l2.7 96.4l2.7 -306.7l2.7 320.3l2.7 -6.9l2.7 -339.7l2.7 135.3l2.7 210.3l2.7 -97.4l2.7 88.6l2.7 -65.2l2.7 36l2.7 -102.2l2.7 79.8l2.7 -74l2.7 70.1l2.7 37l2.7 6.8l2.7 17.5l2.7 -139.2l2.7 138.2l2.7 0.9l2.7 -80.8l2.7 -102.3l2.7 -62.3l2.7 157.7l2.7 -0.9l2.7 13.6l2.7 -2.9l2.7 -9.8l2.7 -34.1l2.7 107.1l2.7 -82.7l2.7 -14.6l2.7 74l2.7 -120.7l2.7 3.9l2.7 124.6l2.7 -44.8l2.7 -57.5l2.7 85.7l2.7 45.7l2.7 5.5l2.7 -156.4l2.7 57.4l2.7 5.8l2.7 86.7l2.7 -68.1l2.7 -83.7l2.7 28.2l2.7 137.3l2.7 -124.7l2.7 103.2l2.7 -115.8l2.7 -21.4l2.7 150.9l2.7 -128.5"/>
<polyline class="kph" points="861.7,2164.6 864.4,2309.7 867,2303.9 869.7,2276.6 872.4,2149.6 875,2238.6 877.7,2322.3 880.4,2322.3 883.1,2289.2 885.8,2204.5 888.4,2232.7 891.1,2224 893.8,2218.1 896.5,2305.8 899.1,2314.5 901.8,2172.4 904.5,2310.7 907.1,2303.9 909.8,2310.7 912.5,2084.8 915.2,2298 917.9,2289.2 920.5,2189 923.2,2192.8 925.9,2286.3 928.5,2227.9 931.2,2313.6 933.9,2256.2 936.6,2285.3 939.2,2262.9 941.9,2059.5 944.6,2139.3 947.3,2315.5 950,2315.5 952.6,2154.9 955.3,2311.6 958,2280.4 960.6,2255.1 963.3,2101.4 966,2234.7 968.7,2324.3 971.4,2237.6 974,2124.7 976.7,2313.6 979.4,2105.2 982,2297 984.7,2065.3 987.4,2319.4 990.1,2293.1 992.8,2152.9 995.4,2244.4 998.1,2305.8 1000.8,2241.5 1003.5,2288.3 1006.1,2268.8 1008.8,2279.5 1011.5,2301.9 1014.1,2157.8 1016.8,2325.2 1019.5,2325.2 1022.2,2336 1024.8,2325.2 1027.5,2326.2 1030.2,2306.8 1032.9,2189.9 1035.5,2307.7 1038.2,2306.8 1040.9,2064.4 1043.6,2239.6 1046.2,2239.6 1048.9,2189.9 1051.6,2337.9 1054.3,2203.6 1057,2272.6 1059.6,2170.4 1062.3,2274.6 1065,2218.1 1067.7,2314.5 1070.3,2313.6 1073,2231.8 1075.7,2301.9 1078.3,2313.6 1081,2257.1 1083.7,2312.6 1086.4,2318.5 1089,2322.3 1091.7,2303.9 1094.4,2293.1 1097.1,2317.4 1099.8,2229.8 1102.4,2278.6 1105.1,2297 1107.8,2317.4 1110.5,2284.4 1113.1,2265.9 1115.8,2287.3 1118.5,2210.3 1121.2,2271.7 1123.8,2179.2 1126.5,2179.2 1129.2,2191.9 1131.8,2256.2 1134.5,2267.8 1137.2,2287.3 1139.9,2337.9 1142.5,2306.8 1145.2,2325.2 1147.9,2231.8 1150.6,2307.7 1153.2,2300.9 1155.9,2296.1 1158.6,2289.2 1161.3,2245.4 1164,2294.1 1166.6,2260 1169.3,2151 1172,2299 1174.7,2322.3 1177.3,2264.9 1180,2302.8 1182.7,2296.1 1185.3,1930 1188,2328.2 1190.7,2220.1 1193.4,2316.5 1196,2009.8 1198.7,2330.1 1201.4,2323.3 1204.1,1983.5 1206.8,2118.9 1209.4,2329.2 1212.1,2231.8 1214.8,2320.4 1217.5,2255.1 1220.1,2291.2 1222.8,2189 1225.5,2268.8 1228.2,2194.8 1230.8,2264.9 1233.5,2301.9 1236.2,2308.7 1238.8,2326.2 1241.5,2187 1244.2,2325.2 1246.9,2326.2 1249.5,2245.4 1252.2,2143.2 1254.9,2080.9 1257.6,2238.6 1260.2,2237.6 1262.9,2251.3 1265.6,2248.4 1268.3,2238.6 1271,2204.5 1273.6,2311.6 1276.3,2228.9 1279,2214.3 1281.7,2288.3 1284.3,2167.5 1287,2171.5 1289.7,2296.1 1292.3,2251.3 1295,2193.8 1297.7,2279.5 1300.4,2325.2 1303,2330.8 1305.7,2174.4 1308.4,2231.8 1311.1,2237.6 1313.8,2324.3 1316.4,2256.2 1319.1,2172.4 1321.8,2200.6 1324.5,2337.9 1327.1,2213.3 1329.8,2316.5 1332.5,2200.6 1335.2,2179.2 1337.8,2330.1 1340.5,2201.6"/>
<path class="tk" d="M859 2349v-8.5M859 1907.8v8.5M912.5 2349v-8.5M912.5 1907.8v8.5M966 2349v-8.5M966 1907.8v8.5M1019.5 2349v-8.5M1019.5 1907.8v8.5M1073 2349v-8.5M1073 1907.8v8.5M1126.5 2349v-8.5M1126.5 1907.8v8.5M1180 2349v-8.5M1180 1907.8v8.5M1233.5 2349v-8.5M1233.5 1907.8v8.5M1287 2349v-8.5M1287 1907.8v8.5M1340.5 2349v-8.5M1340.5 1907.8v8.5M885.8 2349v-4.5M885.8 1907.8v4.5M939.2 2349v-4.5M939.2 1907.8v4.5M992.8 2349v-4.5M992.8 1907.8v4.5M1046.2 2349v-4.5M1046.2 1907.8v4.5M1099.8 2349v-4.5M1099.8 1907.8v4.5M1153.2 2349v-4.5M1153.2 1907.8v4.5M1206.8 2349v-4.5M1206.8 1907.8v4.5M1260.2 2349v-4.5M1260.2 1907.8v4.5M1313.8 2349v-4.5M1313.8 1907.8v4.5M1367.2 2349v-4.5M1367.2 1907.8v4.5M846.6 2341.8h8.5M1394.1 2341.8h-8.5M846.6 2262.9h8.5M1394.1 2262.9h-8.5M846.6 2184.1h8.5M1394.1 2184.1h-8.5M846.6 2105.2h8.5M1394.1 2105.2h-8.5M846.6 2026.4h8.5M1394.1 2026.4h-8.5M846.6 1947.5h8.5M1394.1 1947.5h-8.5M846.6 2302.4h4.5M1394.1 2302.4h-4.5M846.6 2223.5h4.5M1394.1 2223.5h-4.5M846.6 2144.7h4.5M1394.1 2144.7h-4.5M846.6 2065.8h4.5M1394.1 2065.8h-4.5M846.6 1986.9h4.5M1394.1 1986.9h-4.5"/>
<rect class="fr" x="846.6" y="1907.8" width="547.5" height="441.2"/>
<text class="tl" x="859" y="2375" text-anchor="middle">0</text>
<text class="tl" x="912.5" y="2375" text-anchor="middle">20</text>
<text class="tl" x="966" y="2375" text-anchor="middle">40</text>
<text class="tl" x="1019.5" y="2375" text-anchor="middle">60</text>
<text class="tl" x="1073" y="2375" text-anchor="middle">80</text>
<text class="tl" x="1126.5" y="2375" text-anchor="middle">100</text>
<text class="tl" x="1180" y="2375" text-anchor="middle">120</text>
<text class="tl" x="1233.5" y="2375" text-anchor="middle">140</text>
<text class="tl" x="1287" y="2375" text-anchor="middle">160</text>
<text class="tl" x="1340.5" y="2375" text-anchor="middle">180</text>
<text class="tl" x="1394" y="2375" text-anchor="middle">200</text>
<text class="tl" x="836.6" y="2350" text-anchor="end">0</text>
<text class="tl" x="836.6" y="2271.1" text-anchor="end">1000</text>
<text class="tl" x="836.6" y="2192.3" text-anchor="end">2000</text>
<text class="tl" x="836.6" y="2113.4" text-anchor="end">3000</text>
<text class="tl" x="836.6" y="2034.6" text-anchor="end">4000</text>
<text class="tl" x="836.6" y="1955.7" text-anchor="end">5000</text>
<text class="at" x="1047.3" y="2405.6" textLength="144.5" lengthAdjust="spacingAndGlyphs">Sample number</text>
<text class="at" transform="translate(789.7 2204.9) rotate(-90)" textLength="152.9" lengthAdjust="spacingAndGlyphs">Peak stress(kPa)</text>
<path d="M899.7 1946h5M938.7 1946h5" stroke="#404040" stroke-width="3"/>
<path d="M899.7 1974.5h5M938.7 1974.5h5" stroke="#ff3030" stroke-width="3"/>
<path d="M926.2 1940.3l5.7 5.7 -5.7 5.7 -5.7 -5.7z" fill="none" stroke="#7b00ff" stroke-width="2.5"/>
<circle cx="926.2" cy="1974.5" r="3.6" fill="none" stroke="#ff3030" stroke-width="2.8"/>
<text class="lg" x="957" y="1953.5" textLength="148" lengthAdjust="spacingAndGlyphs">Measured value</text>
<text class="lg" x="957" y="1982" textLength="150" lengthAdjust="spacingAndGlyphs">Predictive value</text>
<text class="cap" x="938" y="2484.6">(h)</text>
<text class="cap" x="1003.7" y="2484.6">LDA test set</text>
</g>
</svg>
</body></html>
